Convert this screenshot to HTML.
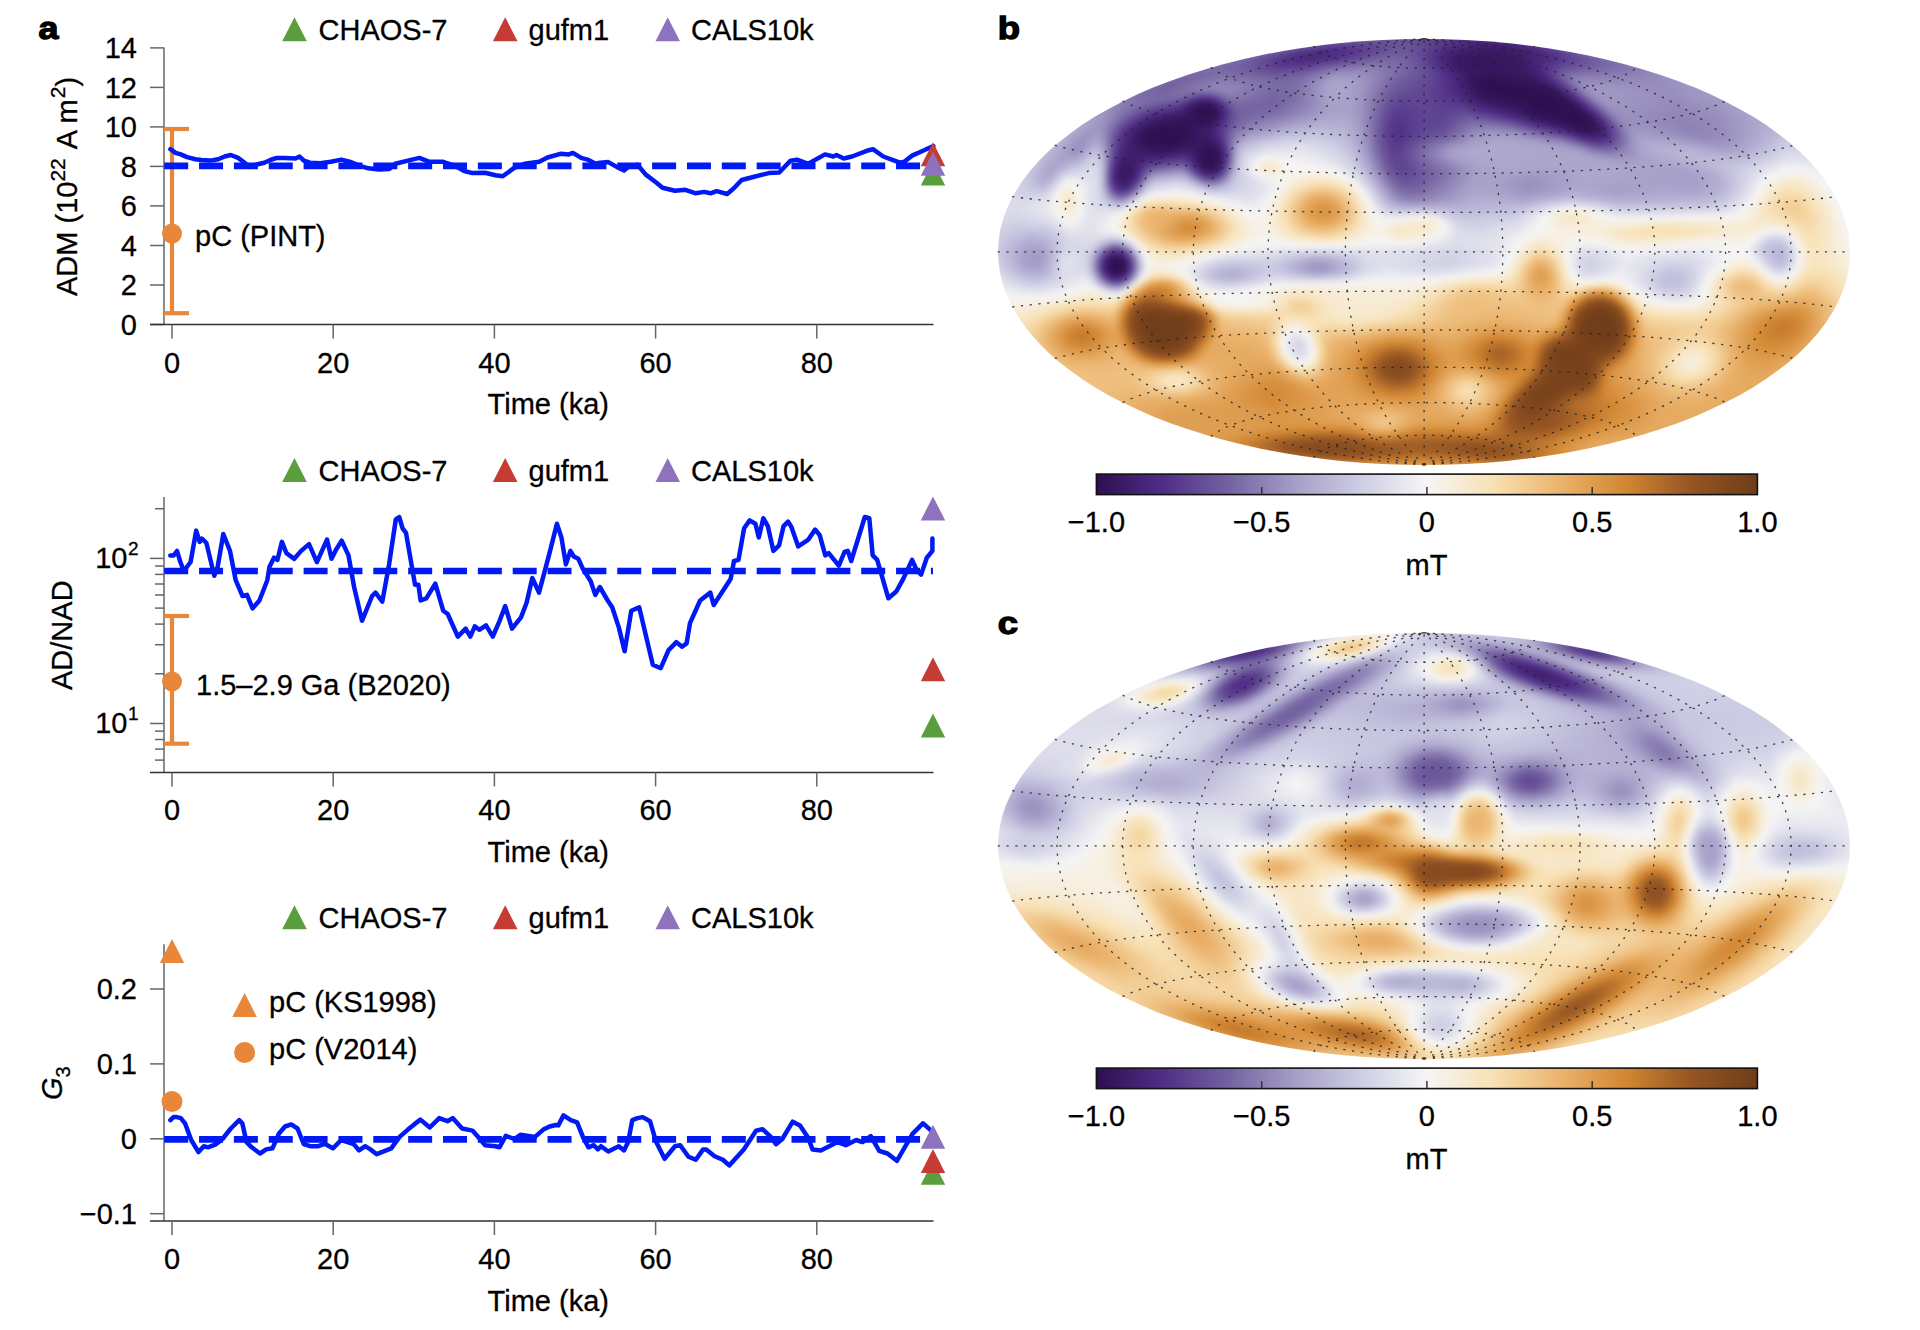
<!DOCTYPE html>
<html><head><meta charset="utf-8"><style>
html,body{margin:0;padding:0;background:#fff;width:1920px;height:1330px;overflow:hidden;position:relative}
svg{display:block;position:absolute;left:0;top:0}
text{font-family:"Liberation Sans", sans-serif;fill:#000;stroke:#000;stroke-width:0.3px}
.mp{position:absolute;border-radius:50%;overflow:hidden}
.fl{position:absolute;filter:blur(2px)}
.fl i{display:block;height:4px}
</style></head><body>
<div class="mp" style="left:997.71px;top:38.61px;width:852.77px;height:426.39px"><div class="fl" style="left:-3.61px;top:-6.81px;width:860px"><i style="background:linear-gradient(90deg,#dfdfec 1px,#c0bedb 257px,#a39cc6 329px,#695399 417px,#5d4190 455px,#614693 485px,#7462a1 511px,#a39cc7 549px,#b7b4d5 585px,#dfdfec 859px)"></i><i style="background:linear-gradient(90deg,#ddddeb 1px,#c0bedb 239px,#a39bc6 301px,#7969a5 361px,#624894 431px,#512f87 477px,#56368b 501px,#6d5a9c 527px,#9d95c2 563px,#b1acd0 591px,#bebcda 653px,#ddddeb 859px)"></i><i style="background:linear-gradient(90deg,#dcdceb 1px,#bfbdda 223px,#a59ec8 273px,#6e5a9c 339px,#685198 369px,#695299 413px,#533289 457px,#462477 489px,#4a287e 509px,#593a8d 527px,#9a91bf 579px,#aea8ce 605px,#bebbd9 671px,#dbdbea 851px,#dcdceb 859px)"></i><i style="background:linear-gradient(90deg,#dbdbea 1px,#bfbcda 209px,#a6a0c9 251px,#715f9f 305px,#5d4190 335px,#5b3e8f 359px,#6a559a 407px,#634a95 429px,#4c2980 461px,#3f1f6c 489px,#40206f 513px,#523087 537px,#9990be 595px,#aca7cd 621px,#c3c2dd 717px,#dbdbea 859px)"></i><i style="background:linear-gradient(90deg,#dadaea 1px,#bebcda 195px,#a9a2cb 231px,#6c579b 291px,#54338a 321px,#502e87 347px,#604592 377px,#6c589b 403px,#685198 421px,#4d2a82 451px,#3e1d6b 475px,#3b1b66 509px,#432273 533px,#55358b 553px,#877ab0 595px,#a59ec8 625px,#b8b4d5 679px,#d5d5e7 825px,#dadae9 859px)"></i><i style="background:linear-gradient(90deg,#d8d8e9 1px,#bebbd9 183px,#aaa4cb 215px,#664e97 283px,#4f2c85 309px,#4a287d 331px,#54338a 355px,#6e5a9c 393px,#6e5a9c 413px,#5f4392 431px,#4b2980 447px,#3c1b67 467px,#381861 501px,#401f6d 533px,#54338a 561px,#8376ad 605px,#a39bc6 637px,#b9b5d6 697px,#d3d3e7 825px,#d8d8e9 859px)"></i><i style="background:linear-gradient(90deg,#d7d7e8 1px,#bdbbd9 171px,#aaa4cc 201px,#8173ab 241px,#634a95 275px,#4e2c84 299px,#4a277d 319px,#54348a 343px,#7362a0 387px,#7362a0 407px,#664f97 425px,#4e2b83 443px,#3b1b66 461px,#36175e 485px,#3a1a64 523px,#533289 563px,#7e6fa9 611px,#a098c4 647px,#b7b4d5 705px,#d1d1e6 821px,#d7d7e8 859px)"></i><i style="background:linear-gradient(90deg,#d6d6e8 1px,#bdbbd9 159px,#aca6cd 187px,#8476ad 223px,#6c589b 259px,#523088 291px,#4f2d85 313px,#5c4090 335px,#7b6ba6 379px,#7a6aa6 401px,#6a559a 423px,#4c2a81 445px,#3b1b66 461px,#36175e 483px,#391963 525px,#4b2980 549px,#583a8d 565px,#7969a4 613px,#9e96c3 657px,#b9b6d6 723px,#d2d2e6 831px,#d6d6e8 859px)"></i><i style="background:linear-gradient(90deg,#d5d5e7 1px,#bebbd9 147px,#ada7ce 175px,#8274ac 211px,#705d9e 251px,#593a8d 285px,#58398d 307px,#675098 329px,#7e70a9 357px,#8679af 381px,#7463a1 413px,#634a95 431px,#4d2b83 447px,#3a1a65 465px,#36175e 489px,#391963 527px,#462477 543px,#55358b 555px,#654c96 573px,#7a6aa6 617px,#a49cc7 677px,#c5c4de 773px,#d5d5e7 859px)"></i><i style="background:linear-gradient(90deg,#d4d4e7 1px,#bebbd9 137px,#aca7cd 165px,#8072ab 199px,#7a6aa5 219px,#7564a1 243px,#624894 281px,#644b95 305px,#7362a0 325px,#8b7eb3 345px,#9085b8 371px,#8476ad 393px,#664f97 431px,#4d2b82 451px,#3a1a65 469px,#35165d 493px,#391963 529px,#452375 543px,#54338a 553px,#6b569a 569px,#7462a1 587px,#8274ac 627px,#afa9cf 713px,#cac9e2 803px,#d4d4e7 859px)"></i><i style="background:linear-gradient(90deg,#d3d3e7 1px,#bebbda 127px,#aaa4cc 157px,#7d6ea8 189px,#7767a3 205px,#7c6da7 235px,#6b569a 281px,#6f5b9d 305px,#8173ab 323px,#988fbe 341px,#9b92c0 361px,#8e83b6 383px,#72619f 411px,#634a95 435px,#4d2a82 455px,#381861 475px,#33155a 499px,#381962 531px,#442375 545px,#56368b 555px,#7463a1 571px,#8072ab 583px,#8a7eb2 637px,#c1bfdc 773px,#d3d3e6 859px)"></i><i style="background:linear-gradient(90deg,#d2d2e6 1px,#bdbad9 121px,#a8a1ca 149px,#7969a5 181px,#7564a1 197px,#8376ad 229px,#72619f 287px,#7969a5 307px,#a29bc6 339px,#a39cc6 357px,#9388ba 379px,#7261a0 405px,#634a95 435px,#4d2a82 457px,#36175e 477px,#311256 497px,#36175e 533px,#41206f 547px,#533189 557px,#7f70a9 575px,#8d81b4 585px,#9287b9 653px,#c6c5df 797px,#d2d2e6 859px)"></i><i style="background:linear-gradient(90deg,#d1d1e6 1px,#bdbbd9 113px,#a8a2ca 139px,#7868a4 171px,#72619f 185px,#8b7fb3 225px,#8376ad 253px,#7767a4 287px,#7f70aa 307px,#a8a1ca 337px,#a8a2ca 353px,#978ebd 375px,#705e9e 403px,#614693 437px,#4e2c84 457px,#34155b 479px,#2e1052 497px,#35165d 541px,#40206e 553px,#512f86 561px,#8a7eb3 581px,#978dbd 591px,#958bbb 661px,#a8a1ca 719px,#c7c6e0 807px,#d1d1e6 859px)"></i><i style="background:linear-gradient(90deg,#d0d0e5 1px,#bebbd9 105px,#aaa4cb 129px,#7766a3 163px,#72609f 177px,#9186b8 223px,#8c80b4 245px,#796aa5 283px,#7e6fa9 303px,#968cbc 321px,#aaa4cb 335px,#aba5cc 351px,#9c93c1 371px,#6f5b9d 401px,#5f4492 437px,#4d2b82 459px,#331459 481px,#2d0f51 499px,#331459 547px,#3c1c67 557px,#523188 567px,#887bb1 583px,#9990bf 591px,#9e95c2 605px,#978dbd 665px,#a49cc7 715px,#c6c5df 809px,#d0d0e5 859px)"></i><i style="background:linear-gradient(90deg,#d0d0e5 1px,#bebbda 97px,#aaa4cc 121px,#7868a4 155px,#7362a0 169px,#8577ae 201px,#8c7fb4 219px,#9186b8 235px,#7868a4 281px,#7d6ea8 301px,#948aba 319px,#a9a3cb 333px,#aea8ce 347px,#a098c4 367px,#7f70aa 387px,#6b569a 401px,#5f4391 437px,#4f2c85 459px,#311357 485px,#2d0f51 507px,#311256 553px,#3b1b66 563px,#4e2c83 571px,#8f84b6 589px,#9e96c2 597px,#9f97c3 615px,#988ebe 673px,#a49dc7 721px,#c7c6e0 815px,#cfcfe5 859px)"></i><i style="background:linear-gradient(90deg,#cfcfe5 1px,#bfbcda 89px,#aba5cc 113px,#7b6ca7 147px,#7565a2 163px,#7f71aa 189px,#6e5b9d 209px,#7665a2 219px,#8b7fb3 233px,#887bb1 247px,#7666a2 279px,#7b6ba6 299px,#9186b8 317px,#a9a3cb 333px,#aca6cd 349px,#9f97c3 367px,#8071aa 385px,#6b579b 397px,#644c95 411px,#604693 433px,#4d2b83 463px,#331459 487px,#2e1052 507px,#2f1154 557px,#381861 567px,#502f85 577px,#8e82b6 593px,#9f96c3 601px,#a098c4 617px,#988ebd 675px,#a39cc7 723px,#c6c5df 815px,#cfcfe5 859px)"></i><i style="background:linear-gradient(90deg,#cecee5 1px,#bebcda 83px,#a9a2cb 109px,#8274ac 137px,#7868a4 157px,#7767a3 185px,#685198 195px,#55368a 205px,#533387 213px,#5b3d8f 219px,#7d6ea8 233px,#8577ae 241px,#7463a1 279px,#7b6ca7 299px,#988ebe 321px,#a9a3cb 335px,#a9a3cb 353px,#9c93c0 369px,#6b559a 395px,#624894 407px,#604592 433px,#502d86 465px,#34155b 491px,#301154 515px,#2e1052 559px,#36165e 571px,#462477 579px,#5a3c8e 585px,#8b7fb3 597px,#9e95c2 605px,#a098c4 619px,#978dbd 677px,#a29ac5 723px,#c5c4df 815px,#cecee4 859px)"></i><i style="background:linear-gradient(90deg,#cecee4 1px,#bebcda 77px,#a59ec8 107px,#8577ae 133px,#6f5c9d 177px,#654d96 187px,#4d2b82 197px,#3e1e6b 205px,#3b1b67 213px,#432272 219px,#533288 225px,#72609f 235px,#7c6da7 241px,#7969a5 257px,#7362a0 281px,#8173ab 303px,#a7a1ca 335px,#a8a1ca 355px,#9b92c0 369px,#6a559a 393px,#604592 405px,#604592 431px,#55358b 465px,#49277c 477px,#36175f 497px,#2d0f50 547px,#301255 571px,#391a63 579px,#4f2d84 587px,#877ab0 601px,#988fbe 607px,#a098c4 617px,#958bbb 681px,#a19ac5 727px,#c4c3de 813px,#cecee4 859px)"></i><i style="background:linear-gradient(90deg,#cecee4 1px,#bfbcda 71px,#a39cc7 105px,#6b569a 161px,#5c3f8f 183px,#4c2980 191px,#36175e 201px,#301154 211px,#35165c 219px,#432272 225px,#593a8d 231px,#6c589b 237px,#7666a3 243px,#7464a1 263px,#7666a3 285px,#8e82b5 311px,#a6a0c9 335px,#a7a1ca 355px,#9a91bf 369px,#675198 393px,#5d4190 405px,#604592 431px,#5c3f90 455px,#57388c 471px,#472578 487px,#381962 509px,#2d0f50 543px,#301255 577px,#3a1a65 585px,#523187 593px,#8a7eb3 607px,#9b92c0 615px,#9c94c1 631px,#9489ba 683px,#9f97c4 727px,#c3c1dd 809px,#cdcde4 859px)"></i><i style="background:linear-gradient(90deg,#cdcde4 1px,#bfbcda 67px,#9c93c1 111px,#7362a0 143px,#57378c 169px,#4b287e 185px,#311256 201px,#2e0f51 215px,#36175e 223px,#502d86 231px,#6b569a 239px,#7564a1 247px,#7868a4 281px,#958abb 313px,#a7a0c9 335px,#a7a0c9 357px,#9a91bf 369px,#685298 391px,#5c3f90 401px,#5c3f90 413px,#604592 431px,#5d4191 451px,#604592 469px,#4c2a81 493px,#2f1053 539px,#2f1153 581px,#381861 589px,#4f2d84 597px,#8779b0 611px,#968cbc 617px,#9c94c1 627px,#9287b9 685px,#9d95c2 727px,#c3c1dd 807px,#cdcde4 859px)"></i><i style="background:linear-gradient(90deg,#cdcde4 1px,#bebbd9 65px,#9a91bf 113px,#72609f 137px,#512f87 159px,#3c1c68 189px,#2e1052 203px,#2f1153 219px,#391963 225px,#4d2a82 231px,#685298 239px,#7362a0 247px,#7f71aa 283px,#a8a1ca 331px,#a9a3cb 355px,#9d95c2 367px,#7c6da8 381px,#604492 395px,#58398d 405px,#604592 429px,#5e4291 449px,#674f97 471px,#5b3d8f 491px,#48267a 515px,#311256 541px,#2e1051 583px,#33145a 591px,#462477 599px,#5c3f90 605px,#8476ad 615px,#948abb 621px,#9b92c0 631px,#9085b7 687px,#9b92c0 727px,#c2c0dc 803px,#cdcde4 859px)"></i><i style="background:linear-gradient(90deg,#cdcde4 1px,#bdbad9 65px,#9c93c1 111px,#7666a3 129px,#4e2c83 151px,#3e1d6a 167px,#321459 197px,#2e1052 213px,#34155b 221px,#422171 227px,#4f2d86 231px,#695399 239px,#7464a1 247px,#8d81b5 289px,#a9a3cb 323px,#ada8ce 349px,#a29ac5 365px,#8173ab 379px,#644b95 391px,#57388c 401px,#593b8d 413px,#604592 429px,#5f4492 449px,#6e5b9d 473px,#695299 491px,#4f2d84 521px,#35165c 545px,#2d0f50 581px,#311256 593px,#401f6d 601px,#54338a 607px,#8375ad 619px,#9389ba 625px,#9a91bf 635px,#8f84b6 689px,#9990bf 727px,#c1bfdc 801px,#cdcde4 859px)"></i><i style="background:linear-gradient(90deg,#cdcde4 1px,#bbb8d7 69px,#9d94c2 109px,#8173ab 121px,#57378c 139px,#452476 149px,#371860 163px,#33145a 185px,#321358 213px,#3a1a64 221px,#4f2c85 229px,#6c579b 239px,#7a6ba6 249px,#a199c5 299px,#b1acd0 329px,#aea9cf 353px,#a39bc6 365px,#8072aa 379px,#624894 391px,#55358b 401px,#58398d 413px,#604592 429px,#614693 449px,#7969a5 477px,#7463a1 497px,#644c95 517px,#4c2980 535px,#391963 553px,#2d0f50 581px,#301155 595px,#3d1c68 603px,#4f2c84 609px,#8577ae 623px,#978dbd 631px,#9a90bf 643px,#8e83b6 689px,#978dbd 725px,#c2c0dc 799px,#cdcde4 859px)"></i><i style="background:linear-gradient(90deg,#cdcde4 1px,#bab7d7 71px,#a39bc6 99px,#9b92c0 109px,#7f70aa 119px,#593b8d 133px,#49277b 141px,#36175e 155px,#2f1154 173px,#371860 213px,#412070 221px,#56368b 229px,#705e9e 239px,#8476ad 251px,#b0abd0 307px,#b7b3d4 337px,#aea9ce 357px,#a099c4 367px,#7969a5 381px,#5a3c8e 395px,#533189 405px,#604593 429px,#624994 449px,#8477ae 479px,#8679af 497px,#796aa5 515px,#4e2c83 547px,#301255 579px,#301154 595px,#381961 603px,#4d2a82 611px,#887cb1 627px,#9990bf 635px,#9a91bf 649px,#8e82b5 693px,#978dbc 727px,#c2c0dc 797px,#cdcde4 859px)"></i><i style="background:linear-gradient(90deg,#cdcde4 1px,#bcb9d8 69px,#a199c5 95px,#9e95c2 107px,#877ab0 115px,#644c96 125px,#4c2a81 135px,#36175f 149px,#2e1052 165px,#301255 191px,#3d1d69 215px,#4f2c86 225px,#7c6ca7 241px,#9388ba 255px,#b3afd2 295px,#bdbad9 325px,#b6b2d4 351px,#a69fc9 365px,#8679af 377px,#695299 387px,#56378c 397px,#533189 407px,#614793 429px,#654d96 449px,#7c6da8 467px,#9186b8 483px,#958abb 503px,#897cb1 521px,#5b3e8f 553px,#49277c 567px,#35165d 583px,#321358 595px,#3b1b66 605px,#4e2b83 613px,#8f83b6 631px,#9d95c2 639px,#9c94c1 655px,#8e83b6 697px,#978dbd 729px,#c3c1dd 795px,#cdcde4 859px)"></i><i style="background:linear-gradient(90deg,#cdcde4 1px,#bebbda 65px,#9f97c3 91px,#a29ac5 105px,#948aba 111px,#644c95 123px,#4e2c85 131px,#391a63 143px,#2f1053 157px,#2f1053 187px,#401f6e 217px,#4f2c86 225px,#8a7eb3 243px,#a199c4 255px,#bebbd9 293px,#c4c3de 323px,#b9b6d6 351px,#a49dc7 367px,#695299 387px,#56368b 397px,#533189 407px,#644b95 429px,#6a559a 449px,#8072ab 465px,#9a90bf 483px,#a199c5 505px,#9a90bf 523px,#624894 565px,#49277c 579px,#3b1b65 591px,#3b1b65 601px,#48267b 611px,#58398d 617px,#8375ad 629px,#9b92c0 637px,#a49dc7 647px,#9085b7 705px,#998fbe 733px,#c5c4df 795px,#cdcde4 851px,#cecee4 859px)"></i><i style="background:linear-gradient(90deg,#cecee4 1px,#c0bedb 61px,#aca6cd 77px,#9c93c1 89px,#a7a0c9 103px,#9d94c1 109px,#674f97 121px,#4f2c85 129px,#3a1a64 141px,#2f1053 155px,#2f1052 185px,#3d1d69 217px,#4b297f 225px,#58398d 229px,#8476ad 239px,#9c93c0 245px,#aea8ce 255px,#c8c7e1 291px,#cccce3 321px,#bdbad9 351px,#a6a0c9 367px,#7a6aa6 381px,#5d4090 393px,#54338a 401px,#57388c 411px,#695399 431px,#7463a1 451px,#9d95c2 479px,#a8a1ca 499px,#a59ec8 525px,#7f71aa 563px,#604593 579px,#4d2c82 589px,#452476 599px,#4b287f 609px,#55358b 615px,#7868a4 627px,#9b92c0 637px,#a7a1ca 645px,#a7a0c9 665px,#9489ba 709px,#9a90bf 733px,#c7c6e0 793px,#cdcde4 833px,#cecee5 859px)"></i><i style="background:linear-gradient(90deg,#cecee5 1px,#c1bfdc 57px,#aea8ce 73px,#9b92c0 85px,#9d94c2 91px,#aca6cd 101px,#a7a1ca 107px,#8d81b5 113px,#6c579b 119px,#502e87 127px,#3e1d6a 137px,#301255 153px,#2e1052 179px,#371860 203px,#381861 217px,#401f6e 223px,#533189 229px,#7c6da7 237px,#9f97c4 243px,#b1acd0 249px,#c7c6e0 269px,#d6d6e8 299px,#cfcfe5 331px,#bdbad8 355px,#a49dc7 369px,#6a559a 387px,#583a8d 397px,#56368b 405px,#72609f 435px,#8b7fb3 457px,#a59ec8 479px,#aca7cd 513px,#a49dc7 543px,#9186b8 569px,#7665a3 581px,#5b3d8f 595px,#55348a 605px,#5d4190 615px,#7969a5 627px,#9f97c3 639px,#aca7cd 649px,#ada7cd 673px,#988fbe 719px,#a199c5 741px,#cbcae2 793px,#cfcfe5 831px,#cfcfe5 859px)"></i><i style="background:linear-gradient(90deg,#cfcfe5 1px,#c4c3de 51px,#afaacf 69px,#9a91bf 83px,#9d95c2 89px,#b4afd2 101px,#ada7ce 107px,#9c93c1 111px,#6a559a 119px,#533289 125px,#432272 133px,#321358 153px,#301255 175px,#391963 199px,#331459 215px,#3a1a64 223px,#4d2a82 229px,#614793 233px,#9c93c1 241px,#b0abd0 245px,#c3c1dd 253px,#d8d8e9 277px,#dedeec 309px,#cdcde4 343px,#b7b3d5 361px,#a199c5 371px,#6c589b 387px,#5b3d8f 397px,#593a8d 405px,#6b559a 421px,#a49dc7 467px,#ada8ce 497px,#aaa4cc 545px,#a097c4 573px,#8a7db2 585px,#6c579b 599px,#664f97 609px,#6e5a9c 619px,#9085b7 633px,#a7a0c9 643px,#b3aed2 659px,#b2add1 685px,#9f97c3 725px,#a8a2ca 747px,#cfcfe5 793px,#d2d2e6 829px,#d0d0e5 859px)"></i><i style="background:linear-gradient(90deg,#cfcfe5 1px,#c6c4df 47px,#b1acd0 65px,#9b92c0 81px,#a098c4 87px,#bbb8d7 99px,#b9b5d6 105px,#aba6cd 109px,#9287b9 113px,#7362a0 117px,#57388c 123px,#4c2980 127px,#401f6e 135px,#33145a 161px,#37175f 179px,#3e1e6b 193px,#301154 213px,#321358 221px,#3f1e6c 227px,#522f88 231px,#7c6ca7 237px,#a199c5 241px,#b8b5d5 245px,#cac9e2 251px,#e0e0ec 273px,#e6e6ef 305px,#d5d5e7 339px,#bebbd9 359px,#a59dc8 371px,#6e5b9d 387px,#5d4190 397px,#5b3e8f 405px,#6b569b 419px,#a59ec8 459px,#aea9ce 481px,#aaa4cc 571px,#a098c4 585px,#7b6ca7 607px,#7b6ba6 617px,#9084b7 631px,#a8a2ca 645px,#b8b4d5 671px,#b6b2d4 697px,#a7a0c9 731px,#b1acd0 753px,#d3d3e6 791px,#d6d6e8 821px,#d1d1e6 859px)"></i><i style="background:linear-gradient(90deg,#d0d0e5 1px,#c7c6e0 43px,#afaacf 63px,#9f97c3 79px,#a49dc7 85px,#c4c2de 99px,#c0bedb 105px,#b1acd0 109px,#a59ec8 111px,#72609f 117px,#54338a 123px,#49277b 127px,#401f6d 135px,#3b1b66 169px,#472578 191px,#3e1e6b 199px,#301155 209px,#2f1154 221px,#3b1b66 227px,#4e2b84 231px,#6a5499 235px,#a59ec8 241px,#bebcda 245px,#d2d2e6 251px,#eaeaf1 273px,#e8e8f0 315px,#d2d2e6 347px,#bab7d7 363px,#a29ac6 373px,#715f9e 387px,#5f4492 397px,#5d4090 405px,#6d589b 419px,#a49cc7 455px,#afa9cf 475px,#aba5cc 583px,#9a90bf 601px,#8e82b5 615px,#958abb 629px,#aba5cc 651px,#bcb9d8 691px,#b2add1 723px,#b1acd0 745px,#d8d8e9 791px,#dadaea 819px,#d2d2e6 859px)"></i><i style="background:linear-gradient(90deg,#d1d1e6 1px,#c8c7e0 41px,#a8a2ca 67px,#a8a1ca 81px,#b7b3d5 89px,#cacae2 97px,#cbcae2 103px,#bfbdda 107px,#a8a1ca 111px,#6f5c9d 117px,#58398d 121px,#4f2d86 123px,#422170 129px,#3f1e6c 139px,#452476 163px,#533289 189px,#4c2a81 195px,#321357 207px,#2d0f51 217px,#301255 223px,#3a1a64 227px,#4d2b83 231px,#6a559a 235px,#a9a2cb 241px,#c3c1dd 245px,#d3d3e7 249px,#f3f3f4 269px,#f1f1f4 293px,#e5e5ee 331px,#cccce3 355px,#aca6cd 371px,#6f5c9d 389px,#5f4492 399px,#604592 409px,#a29ac5 457px,#ada7cd 477px,#aca6cd 591px,#9c93c1 623px,#bebbd9 705px,#b8b5d5 745px,#cbcae2 769px,#e0e0ec 795px,#ddddeb 823px,#d3d3e7 859px)"></i><i style="background:linear-gradient(90deg,#d2d2e6 1px,#cac9e2 37px,#b5b0d3 53px,#a9a3cb 63px,#b5b1d4 83px,#d2d2e6 97px,#d1d1e6 103px,#c4c2dd 107px,#a9a3cb 111px,#6b569a 117px,#533189 121px,#442374 125px,#3c1c68 131px,#401f6e 141px,#512f86 155px,#5d4090 177px,#634a95 187px,#5c3f8f 193px,#502e86 197px,#371860 205px,#2f1153 211px,#2f1154 221px,#36165d 225px,#452375 229px,#502e87 231px,#6e5a9c 235px,#9a91bf 239px,#bbb8d8 243px,#d0d0e5 247px,#f1f1f4 261px,#f6f4ef 265px,#f7eedc 273px,#f7f0e2 281px,#f5f5f5 293px,#e9e9f0 333px,#cecee4 357px,#aba5cc 373px,#6d5a9c 391px,#5f4492 401px,#604693 411px,#a29bc6 465px,#ada7cd 491px,#aca6cd 601px,#a59ec8 635px,#b2add1 689px,#c0bddb 723px,#c2c0dd 751px,#e6e6ef 793px,#e5e5ee 817px,#d4d4e7 859px)"></i><i style="background:linear-gradient(90deg,#d3d3e7 1px,#cbcbe3 35px,#b3afd2 51px,#aaa4cb 59px,#b3aed1 69px,#c9c9e1 87px,#d8d8e9 97px,#d5d5e8 103px,#c7c6e0 107px,#a9a3cb 111px,#7969a5 115px,#583a8d 119px,#4d2b83 121px,#3f1f6d 125px,#391963 131px,#3d1c69 139px,#512f88 149px,#614793 157px,#7767a3 185px,#705d9e 191px,#5c3f8f 197px,#4b297f 201px,#381861 207px,#311256 213px,#331459 221px,#3a1b65 225px,#4b297f 229px,#57388c 231px,#7565a2 235px,#a29ac5 239px,#bfbdda 243px,#d2d2e6 247px,#f6f6f5 261px,#f7ebd2 269px,#f7e8c9 275px,#f7edd9 283px,#f6f5f2 293px,#f5f5f5 315px,#e9e9f0 341px,#cdcce4 361px,#a49dc7 377px,#715f9f 391px,#614693 401px,#604592 411px,#8c80b4 453px,#a69fc9 477px,#aca7cd 507px,#aca6cd 563px,#aca6cd 611px,#a7a1ca 671px,#b3aed2 703px,#c3c2dd 735px,#d3d3e7 763px,#eeeef2 793px,#eaeaf1 817px,#d6d6e8 859px)"></i><i style="background:linear-gradient(90deg,#d4d4e7 1px,#cccce3 33px,#b3afd2 49px,#aaa4cc 57px,#b5b0d3 65px,#c9c8e1 75px,#dcdceb 97px,#d8d8e9 103px,#c9c8e1 107px,#a8a2ca 111px,#7463a1 115px,#54338a 119px,#412070 123px,#381962 129px,#3a1a64 137px,#452375 143px,#523088 147px,#6e5a9c 155px,#7d6ea8 163px,#9287b9 185px,#887bb1 191px,#624994 199px,#502f86 203px,#3e1d6a 209px,#371860 215px,#3a1b65 221px,#442375 225px,#4c2a81 227px,#634994 231px,#8476ad 235px,#aaa4cc 239px,#cccce4 245px,#f5f5f5 261px,#f7e9cd 271px,#f7e8ca 277px,#f6f4f0 293px,#f6f4f1 307px,#f6f4f1 327px,#f0f0f4 341px,#d4d4e7 361px,#b1acd0 375px,#715f9e 393px,#624894 403px,#614793 413px,#8173ab 449px,#a69fc8 479px,#aba5cc 505px,#a8a1ca 551px,#aea8ce 601px,#a7a0c9 685px,#b2add1 711px,#dcdceb 765px,#f5f4f4 791px,#f2f2f4 815px,#d8d8e9 857px,#d8d8e9 859px)"></i><i style="background:linear-gradient(90deg,#d6d6e8 1px,#cecee4 31px,#aca6cd 53px,#b0abcf 59px,#d6d6e8 73px,#dedeec 97px,#dadaea 103px,#cac9e2 107px,#a7a1ca 111px,#715f9f 115px,#512f88 119px,#3f1f6d 123px,#381962 129px,#3a1a65 137px,#48267a 143px,#502e86 145px,#8376ad 155px,#978dbd 161px,#aba5cc 183px,#a7a1c9 189px,#9b92c0 193px,#644b95 203px,#543489 207px,#472579 213px,#462578 219px,#54348a 225px,#7361a0 231px,#a7a0c9 237px,#c7c6e0 243px,#dadaea 251px,#f3f3f5 263px,#f7eedd 273px,#f7efe0 281px,#f6f4f0 293px,#f7f0e2 325px,#f6f4f0 341px,#f1f1f4 349px,#cecee4 367px,#a59ec8 381px,#71609f 395px,#644b95 405px,#644c96 417px,#7f71aa 449px,#a59ec8 479px,#aaa4cb 501px,#a39bc6 543px,#ada8ce 593px,#a69fc9 693px,#b1acd1 717px,#e5e5ef 767px,#f5f4f4 781px,#f6f1e7 799px,#f3f3f5 821px,#dbdbea 855px,#d9d9e9 859px)"></i><i style="background:linear-gradient(90deg,#d7d7e9 1px,#cfcfe5 29px,#afaacf 51px,#b4afd2 57px,#e2e2ed 71px,#e8e8f0 79px,#dbdbea 103px,#cacae2 107px,#a7a0c9 111px,#715e9e 115px,#512f88 119px,#401f6e 123px,#3a1a64 129px,#3e1d6a 137px,#4f2d85 143px,#715e9f 149px,#9c94c1 155px,#aca6cd 159px,#bab6d7 173px,#bebbd9 187px,#b4afd2 193px,#9a91bf 199px,#6e5a9d 207px,#5e4391 213px,#5d4090 219px,#6a5499 225px,#8c80b4 231px,#b3afd2 237px,#cacae2 243px,#f3f3f4 271px,#f6f3ed 295px,#f7ebd3 319px,#f7ebd4 333px,#f6f2e9 347px,#f4f4f4 353px,#d1d1e6 369px,#9e96c2 385px,#7362a0 397px,#664f97 407px,#685198 419px,#8173ab 449px,#a69fc9 479px,#a9a2cb 501px,#9e95c2 539px,#ada7cd 587px,#a69fc9 697px,#b1acd0 721px,#dcdceb 757px,#f5f5f4 775px,#f7eedc 793px,#f7efdf 807px,#f5f5f5 825px,#ddddeb 855px,#dbdbea 859px)"></i><i style="background:linear-gradient(90deg,#d9d9e9 1px,#d1d1e6 27px,#b5b0d3 49px,#b9b5d6 55px,#d4d4e7 63px,#f1f1f4 71px,#f3f3f5 79px,#dbdbea 103px,#cbcae2 107px,#a8a2ca 111px,#7362a0 115px,#54348a 119px,#432273 123px,#3d1d69 129px,#41206f 135px,#523088 141px,#7665a2 147px,#9a90bf 151px,#b2aed1 155px,#c3c1dd 161px,#cfcfe5 181px,#cbcbe3 191px,#b8b5d5 199px,#8678af 211px,#7b6ba6 217px,#8274ac 223px,#bfbcda 237px,#d0d0e5 245px,#f6f6f5 287px,#f8e5c2 317px,#f8e4be 331px,#f7ead1 345px,#f4f3f4 359px,#c8c7e1 375px,#9085b7 391px,#72619f 401px,#6a5499 411px,#715f9f 429px,#948abb 461px,#a7a1ca 479px,#a8a2ca 501px,#9a91bf 535px,#a69fc8 563px,#aca6cd 591px,#a9a3cb 635px,#a7a0c9 701px,#b3aed2 725px,#d8d8e9 753px,#f6f5f4 771px,#f7ebd4 787px,#f7e9ce 801px,#f7efe1 817px,#f5f5f5 829px,#dedeeb 857px,#ddddeb 859px)"></i><i style="background:linear-gradient(90deg,#dadaea 1px,#d3d3e7 25px,#bcb9d8 47px,#c0bddb 53px,#d8d8e9 61px,#f1f1f4 67px,#f6f3ec 71px,#f6f1e6 75px,#f5f5f5 83px,#dfdfec 99px,#d5d5e8 105px,#cccbe3 107px,#aca6cd 111px,#7b6ca7 115px,#5c3f8f 119px,#523088 121px,#472579 125px,#452476 131px,#513087 137px,#624994 141px,#7e6fa9 145px,#a39cc6 149px,#bdbad9 153px,#d0d0e5 159px,#dedeeb 177px,#dadaea 193px,#c5c4de 203px,#a59ec8 215px,#a49dc7 221px,#cccce3 239px,#ececf2 277px,#f6f6f5 285px,#f7deb0 315px,#f5d7a5 327px,#f7ddae 339px,#f7ead1 353px,#f4f4f4 363px,#cbcae2 377px,#8071aa 399px,#715f9f 407px,#6f5c9d 419px,#8b7fb4 451px,#a8a2ca 477px,#aaa4cb 497px,#9990be 535px,#a39cc7 559px,#ada7cd 585px,#a7a0c9 625px,#a9a2cb 661px,#a9a2cb 705px,#b7b3d4 729px,#dadaea 753px,#f5f5f5 767px,#f7e8cb 785px,#f8e5c1 797px,#f7e9cd 811px,#f5f5f5 833px,#dfdfec 859px)"></i><i style="background:linear-gradient(90deg,#dcdcea 1px,#d4d4e7 25px,#c5c3de 45px,#cbcae2 53px,#ebebf1 63px,#f3f3f5 65px,#f7edda 73px,#f7f0e2 79px,#f5f5f6 85px,#e1e1ed 97px,#d6d6e8 105px,#c1bfdc 109px,#9f97c3 113px,#7564a2 117px,#5e4391 121px,#533289 125px,#533289 131px,#5c4090 135px,#6d599c 139px,#8c80b4 143px,#aea9ce 147px,#d0d0e5 153px,#e2e2ed 161px,#ececf2 183px,#e2e2ed 199px,#c2c0dc 217px,#c5c4df 227px,#d4d4e7 243px,#e3e3ee 269px,#f6f5f5 283px,#f6d9a8 309px,#f1ca90 321px,#f1c78c 331px,#f4d39e 343px,#f7e9cc 357px,#f4f4f4 367px,#bfbdda 383px,#8477ae 401px,#7565a2 411px,#7868a4 425px,#9f97c3 463px,#aca7cd 483px,#a7a0c9 507px,#9b92c0 535px,#afaacf 581px,#a6a0c9 623px,#aba5cc 661px,#aaa4cc 703px,#b9b5d6 729px,#d9d9e9 751px,#f5f5f5 765px,#f8e6c4 783px,#f8e2b6 795px,#f8e4bd 807px,#f6f3ed 831px,#f4f4f5 837px,#e1e1ed 859px)"></i><i style="background:linear-gradient(90deg,#ddddeb 1px,#d1d1e6 31px,#cfcfe5 47px,#dfdfec 57px,#f3f3f5 63px,#f7ecd5 71px,#f7ead2 75px,#f7f0e2 81px,#f6f5f3 85px,#e1e1ed 97px,#d7d7e8 105px,#c6c5df 109px,#9b92c0 115px,#7b6ca7 119px,#6a559a 123px,#654d96 127px,#685298 131px,#7564a2 135px,#9e96c2 141px,#c7c6e0 147px,#e3e3ee 153px,#f1f1f4 161px,#f5f4f2 189px,#eeeef3 201px,#d7d7e8 221px,#dedeec 261px,#f6f5f3 281px,#f7deb0 301px,#efc284 315px,#ecb874 325px,#edba77 335px,#f1c88c 345px,#f8e6c2 359px,#f6f5f3 369px,#e4e4ee 375px,#a7a0c9 393px,#8a7eb2 403px,#7e6fa9 413px,#8375ac 429px,#aca6cd 475px,#aea8ce 497px,#a098c4 533px,#b5b0d3 581px,#a9a2ca 623px,#afa9cf 663px,#afa9cf 705px,#bcb9d8 729px,#ddddeb 751px,#f6f5f4 763px,#f8e4be 781px,#f7dcac 793px,#f7deb0 805px,#f7ebd3 823px,#f5f5f5 839px,#e3e3ee 859px)"></i><i style="background:linear-gradient(90deg,#dedeeb 1px,#d5d5e7 39px,#dfdfec 53px,#f6f5f3 63px,#f7ead1 71px,#f7e9cd 75px,#f7eede 81px,#f6f4f0 85px,#f4f4f5 87px,#e1e1ed 97px,#d3d3e7 107px,#b9b6d6 113px,#8f83b6 121px,#8476ae 125px,#8578af 129px,#9388b9 133px,#d8d8e9 145px,#f1f1f3 151px,#f7f0e4 159px,#f7edd8 173px,#f7efe0 193px,#f2f2f3 211px,#e0e0ec 243px,#e3e3ee 263px,#f5f5f6 277px,#f7ead0 289px,#f6daa9 299px,#ecb976 313px,#e6ab62 323px,#e6aa61 333px,#ecb772 343px,#f4d49f 355px,#f7ead0 365px,#f6f4f0 371px,#f3f3f5 373px,#b6b1d4 391px,#9287b9 405px,#897cb1 415px,#9185b8 435px,#b0abd0 477px,#b0abd0 501px,#a8a1ca 533px,#bfbdda 579px,#aea9ce 623px,#b3afd2 671px,#b6b2d4 711px,#c6c4df 733px,#ebebf1 755px,#f6f5f3 761px,#f8e3ba 779px,#f5d7a5 791px,#f5d7a4 803px,#f8e4bd 817px,#f5f5f6 841px,#e5e5ef 859px)"></i><i style="background:linear-gradient(90deg,#dfdfec 1px,#d9d9e9 33px,#e7e7ef 55px,#f4f4f5 61px,#f7ead0 71px,#f7e9cc 75px,#f7eedc 81px,#f4f4f5 87px,#e1e1ed 97px,#d3d3e7 109px,#aea9ce 121px,#aaa4cb 127px,#bab6d6 133px,#ebebf1 143px,#f6f2eb 147px,#f7ead0 153px,#f8e4bd 163px,#f8e4bc 179px,#f7ead1 203px,#f5f4f1 223px,#efeff3 233px,#e5e5ee 255px,#f0f0f3 271px,#f5f5f5 275px,#f7eacf 287px,#f7deaf 295px,#eab36d 311px,#e0a054 323px,#df9f52 333px,#e7ac63 343px,#f0c588 353px,#f8e3ba 363px,#f6f4f0 373px,#f3f3f5 375px,#b4b0d3 395px,#9c93c1 409px,#9990be 423px,#b6b2d4 487px,#b1acd0 531px,#c6c5df 559px,#d1d0e5 579px,#c5c3de 601px,#b7b3d5 625px,#bfbcda 713px,#d1d1e6 737px,#f5f5f5 757px,#f7deaf 781px,#f4d29c 793px,#f4d39f 805px,#f8e5c0 821px,#f6f5f5 843px,#e7e7f0 859px)"></i><i style="background:linear-gradient(90deg,#dfdfec 1px,#d9d9e9 27px,#e9e9f0 55px,#f4f4f5 61px,#f7ebd2 71px,#f7ead1 77px,#f6f1e6 83px,#f4f4f5 87px,#e1e1ed 97px,#d3d3e7 113px,#c7c5df 123px,#cecde4 129px,#ededf2 137px,#f6f1e8 141px,#f7e2ba 149px,#f5d5a1 157px,#f3cf99 167px,#f6d9a8 195px,#f7e7c8 215px,#f5f4f3 237px,#ebebf1 259px,#f6f5f5 273px,#f7e8c9 287px,#f6d8a7 295px,#e9b16a 309px,#dd9b4c 321px,#db9647 331px,#e0a155 341px,#ecb874 351px,#f8e3bb 365px,#f6f4f1 375px,#f2f2f4 377px,#c4c2de 393px,#b1acd0 405px,#ada8ce 421px,#b5b0d3 469px,#bab6d7 499px,#bbb7d7 529px,#d5d5e8 555px,#e7e7ef 575px,#e0e0ec 593px,#c4c3de 623px,#c6c5df 703px,#d3d3e7 731px,#f6f5f4 755px,#f7deb0 779px,#f3d099 793px,#f3d09a 805px,#f8e1b5 819px,#f6f6f5 845px,#e9e9f0 859px)"></i><i style="background:linear-gradient(90deg,#dedeeb 1px,#d9d9e9 25px,#e8e8f0 55px,#f6f6f4 63px,#f7ecd8 71px,#f7ecd6 77px,#f6f2e9 83px,#f6f5f3 85px,#e1e1ed 97px,#ddddeb 123px,#efeff3 131px,#f6f2ea 135px,#f5d6a3 147px,#f0c588 155px,#eebf7f 165px,#f0c588 197px,#f5d7a4 213px,#f7eedd 235px,#f5f4f4 247px,#f3f3f4 265px,#f6f5f3 271px,#f7ebd3 283px,#f6dbab 293px,#e8ae66 309px,#db9748 321px,#d99342 331px,#df9e50 341px,#ebb56f 351px,#f8e5c0 367px,#f6f5f3 377px,#cdcce3 395px,#c3c1dd 409px,#c5c3de 437px,#b9b6d6 463px,#c3c1dd 525px,#d8d8e9 545px,#f3f2f2 563px,#f6f2ea 581px,#f0f0f3 597px,#d3d3e7 623px,#d1d1e6 653px,#d9d9e9 723px,#ededf2 745px,#f5f5f4 751px,#f7deb0 779px,#f3cf99 795px,#f3d09a 807px,#f8e1b5 821px,#f6f6f5 847px,#ececf1 859px)"></i><i style="background:linear-gradient(90deg,#ddddeb 1px,#d7d7e8 23px,#e5e5ee 55px,#f6f5f4 65px,#f7eedd 73px,#f7efe1 79px,#f5f5f6 85px,#e2e2ed 95px,#e5e5ee 113px,#f4f3f3 127px,#f7f0e4 131px,#f6dbab 141px,#efc386 149px,#ecb874 157px,#eab26c 183px,#e9b069 197px,#eebd7c 209px,#f8e4bf 231px,#f6f2e8 247px,#f6f5f4 257px,#f6f4f1 269px,#f7ecd6 281px,#f6daaa 293px,#e8ae66 309px,#db9849 321px,#d99443 331px,#df9e51 341px,#ebb570 351px,#f8e4be 367px,#f6f5f4 379px,#dedeeb 393px,#dbdbea 409px,#e3e3ed 431px,#cfcfe4 449px,#c1bfdc 465px,#c9c8e1 521px,#dfdfec 541px,#f3f3f4 553px,#f7ebd2 571px,#f7ead1 583px,#f6f3ec 599px,#f1f1f4 607px,#e0e0ec 627px,#eaeaf1 729px,#f6f5f2 747px,#f8e2b7 777px,#f3d099 801px,#f4d39e 811px,#f8e5c1 827px,#f6f6f5 849px,#eeeef2 859px)"></i><i style="background:linear-gradient(90deg,#dbdbea 1px,#d4d4e7 21px,#e0e0ec 55px,#f5f4f5 67px,#f6f1e7 75px,#f6f4f0 81px,#f2f2f4 85px,#e2e2ed 95px,#e8e8f0 111px,#f6f5f3 123px,#f7e8c9 133px,#f6daa9 139px,#efc284 147px,#ecb671 155px,#e9b069 175px,#e09f53 193px,#e2a358 203px,#ecb773 215px,#f8e3ba 235px,#f7efe1 249px,#f6f4ef 261px,#f6f1e7 273px,#f7e8c9 285px,#f6dcac 293px,#e7ad65 311px,#dd9b4d 323px,#dc9a4b 333px,#e3a65c 343px,#eebe7d 353px,#f8e4be 367px,#f6f4ee 379px,#f4f4f5 383px,#ececf1 395px,#f4f2f0 417px,#f6f3ed 433px,#eeeef2 443px,#cccce3 461px,#c6c5df 477px,#d0d0e5 521px,#eaeaf1 543px,#f5f5f5 549px,#f7e8cb 569px,#f7e7c6 581px,#f7eedc 597px,#f6f5f3 611px,#efeff3 637px,#f6f4f0 737px,#f8e4bd 779px,#f4d29d 805px,#f5d7a4 815px,#f7f0e2 841px,#f6f6f5 851px,#f0f0f3 859px)"></i><i style="background:linear-gradient(90deg,#d9d9e9 1px,#d1d1e6 23px,#dadaea 55px,#f5f4f4 73px,#f1f1f4 83px,#e1e1ed 95px,#ebebf1 111px,#f5f5f6 119px,#f7eedd 127px,#f7deaf 137px,#efc182 147px,#ecb672 155px,#e8ae66 173px,#da9545 191px,#da9545 201px,#e4a75d 213px,#f1c98f 227px,#f8e4bc 239px,#f7efe1 253px,#f6f3eb 265px,#f7efdf 277px,#f8e2b8 291px,#e9b16a 313px,#e1a257 325px,#e2a459 335px,#ecb671 347px,#f8e3ba 365px,#f7f0e4 377px,#f6f5f3 385px,#f6f3ee 397px,#f7edda 415px,#f7ebd3 433px,#f7f0e2 441px,#f4f3f4 447px,#d3d3e6 463px,#cbcbe3 479px,#d7d7e8 521px,#f5f5f6 547px,#f7ead1 567px,#f7e9cc 581px,#f6f2ea 617px,#f7efe1 645px,#f7ecd6 683px,#f7efe0 737px,#f7e9cc 771px,#f8e6c4 787px,#f5d6a3 807px,#f6d9a8 817px,#f6f5f3 851px,#f1f1f4 859px)"></i><i style="background:linear-gradient(90deg,#d6d6e8 1px,#cccce3 23px,#d1d1e6 53px,#efeff3 75px,#e7e7ef 87px,#e2e2ed 99px,#f6f6f6 119px,#f7e9cc 131px,#f6d9a7 139px,#eec080 149px,#ebb56f 159px,#e3a65c 175px,#d68f3d 191px,#d7903d 201px,#e1a256 213px,#f0c487 227px,#f8e4bd 241px,#f7efe0 255px,#f6f2e9 267px,#f7eedc 279px,#f8dfb2 295px,#ecb874 315px,#e8ae66 327px,#eab46e 339px,#f1c88d 351px,#f8e5c1 365px,#f7f0e3 377px,#f6f2eb 385px,#f7efe0 395px,#f7e9cd 407px,#f7e9cc 435px,#f7eedd 443px,#f6f5f4 449px,#d6d6e8 465px,#d1d1e6 483px,#dedeec 523px,#f6f5f4 547px,#f7edda 567px,#f7edd9 587px,#f7eedd 613px,#f8e5c0 667px,#f7e6c5 699px,#f7ecd7 739px,#f7ebd4 765px,#f7eedd 783px,#f7e9cd 793px,#f6dbab 807px,#f6d9a8 815px,#f8e5c1 829px,#f6f4f0 851px,#f4f4f5 857px,#f3f3f5 859px)"></i><i style="background:linear-gradient(90deg,#d4d4e7 1px,#c7c6e0 27px,#c8c8e1 51px,#e8e8f0 77px,#e1e1ed 97px,#f5f5f4 121px,#f7eedc 129px,#f7deb0 139px,#f0c588 149px,#ebb46e 161px,#d68f3c 191px,#d7913f 201px,#e2a358 213px,#f0c588 227px,#f8e4bc 241px,#f7efdf 255px,#f6f2e9 267px,#f7efe0 279px,#f8e2b7 297px,#f0c589 315px,#edbd7b 327px,#efc283 339px,#f5d7a5 353px,#f7e8c9 365px,#f7f0e4 377px,#f7f1e5 387px,#f7e7c7 405px,#f7e9cc 417px,#f7ebd4 437px,#f6f3ed 447px,#f6f6f5 449px,#dadaea 465px,#d5d5e8 485px,#e4e4ee 523px,#f6f5f4 543px,#f7f0e2 565px,#f7edd9 607px,#f8e2b7 651px,#f8e1b5 681px,#f7ebd5 739px,#f7edd8 759px,#f5f3f1 777px,#f6f4ef 789px,#f8e1b4 807px,#f6dcac 815px,#f8e4bc 827px,#f6f5f2 853px,#f4f4f5 859px)"></i><i style="background:linear-gradient(90deg,#d2d2e6 1px,#bfbcda 35px,#c3c1dd 53px,#e1e1ed 77px,#e2e2ed 101px,#eaeaf1 121px,#f3f2f2 127px,#f6f1e8 131px,#f7dcac 143px,#f0c487 153px,#e4a75c 173px,#da9646 189px,#dc994a 201px,#e8af68 215px,#f8e3ba 239px,#f7efe0 255px,#f6f3eb 269px,#f7efdf 283px,#f6d9a7 311px,#f3ce97 325px,#f4d29d 339px,#f8e5c1 357px,#f6f1e6 375px,#f6f2e9 385px,#f7e8c9 405px,#f7ead0 417px,#f7f1e5 439px,#f4f4f5 447px,#dcdcea 465px,#dadaea 491px,#e9e9f0 523px,#f6f5f4 537px,#f7f0e4 555px,#f7efe2 595px,#f8e2b8 643px,#f8e2b7 673px,#f7edd8 737px,#f7eedd 755px,#f4f3f3 767px,#e4e4ee 781px,#ededf2 791px,#f5f3f1 795px,#f8e5bf 807px,#f7dfb1 815px,#f8e3b9 825px,#f6f4f0 853px,#f5f5f6 859px)"></i><i style="background:linear-gradient(90deg,#d0d0e6 1px,#b8b4d5 37px,#bcbad8 53px,#dbdbea 75px,#dedeeb 105px,#d3d2e6 119px,#ddddeb 127px,#f0f0f3 133px,#f6f1e6 137px,#f7dcad 147px,#f0c68a 157px,#e7ac64 175px,#e1a257 189px,#e4a75d 201px,#edbc7b 215px,#f8e3b9 235px,#f7f0e2 253px,#f6f4ef 267px,#f6f1e8 283px,#f8e2b8 319px,#f7e1b6 335px,#f7e8cb 353px,#f6f3ee 375px,#f6f3ee 387px,#f7ecd6 407px,#f7f0e3 423px,#f3f3f5 441px,#dcdceb 465px,#e1e1ed 503px,#f6f5f4 531px,#f7eede 547px,#f7efe1 563px,#f6f3ec 587px,#f7efe0 607px,#f8e6c3 637px,#f8e6c3 665px,#f7efe1 731px,#f7f0e2 751px,#f5f4f4 761px,#d6d6e8 777px,#d6d6e8 787px,#e8e8f0 795px,#f5f4f3 799px,#f8e6c3 809px,#f8e2b6 815px,#f8e2b8 823px,#f6f4f1 855px,#f6f6f5 859px)"></i><i style="background:linear-gradient(90deg,#cfcfe5 1px,#b2add1 35px,#b3aed2 49px,#c7c6e0 63px,#d8d8e9 75px,#dbdbea 99px,#c7c6e0 109px,#b5b1d3 117px,#b3afd2 123px,#c1bfdc 129px,#f0f0f2 139px,#f6f3ed 141px,#f8e6c4 147px,#f5d5a2 155px,#eebe7e 171px,#eab46f 185px,#ecb875 199px,#f2cd95 215px,#f8e5bf 231px,#f6f2e8 251px,#f6f5f5 267px,#f6f4ef 287px,#f7ecd5 323px,#f7edda 345px,#f5f5f4 373px,#f6f5f2 395px,#f6f2eb 411px,#f0f0f4 431px,#dcdcea 463px,#e4e4ee 505px,#f6f5f3 527px,#f7ebd5 543px,#f7ebd4 555px,#f5f5f4 581px,#f6f4f1 605px,#f7ecd5 633px,#f7ecd6 659px,#f6f3ed 721px,#f6f2e8 749px,#f5f5f5 757px,#cbcae2 775px,#c7c6e0 785px,#d4d4e7 793px,#f3f3f5 801px,#f7efe1 805px,#f7e7c5 811px,#f8e3ba 817px,#f8e5c0 827px,#f6f4ef 855px,#f6f5f3 859px)"></i><i style="background:linear-gradient(90deg,#cfcfe5 1px,#aca6cd 35px,#aea8ce 49px,#c2c0dc 61px,#d4d4e7 71px,#dadaea 93px,#cecee4 101px,#aea8ce 109px,#8b7fb3 117px,#8476ae 121px,#887bb1 125px,#a199c5 131px,#e2e2ed 141px,#efeff3 143px,#f6f3ee 145px,#f7e7c6 151px,#f6dbab 159px,#f1ca90 177px,#f1c88d 191px,#f5d5a2 207px,#f7ead1 229px,#f6f5f2 249px,#f1f1f4 285px,#f3f3f3 353px,#eeeef3 393px,#ededf2 417px,#dadaea 459px,#e4e4ee 505px,#f6f5f4 523px,#f7e8c9 541px,#f7e6c5 551px,#f7edd9 563px,#f6f5f5 575px,#eaeaf1 593px,#f6f5f2 619px,#f6f1e6 639px,#f3f3f4 695px,#f6f5f2 735px,#f6f3ee 749px,#f4f4f5 755px,#c5c3de 773px,#bfbcda 785px,#c5c4df 791px,#e1e1ed 799px,#f3f3f5 803px,#f7e7c6 813px,#f8e4bc 819px,#f8e6c4 829px,#f6f4ef 857px,#f6f4f1 859px)"></i><i style="background:linear-gradient(90deg,#cfcfe5 1px,#a9a2cb 33px,#a8a1ca 47px,#b7b3d5 57px,#d4d4e7 69px,#dadaea 81px,#d4d4e7 95px,#c0bedb 101px,#9c94c1 107px,#7360a0 113px,#644b95 117px,#5e4291 121px,#604592 125px,#6a559a 129px,#8273ac 133px,#c7c6e0 141px,#f2f2f3 147px,#f7e8c9 155px,#f8e0b5 165px,#f6daa8 183px,#f7e0b4 199px,#f6f4f1 235px,#eeeef2 253px,#dfdfec 331px,#e7e7ef 383px,#e1e1ed 421px,#d7d7e8 461px,#e4e4ee 505px,#f6f5f4 521px,#f8e4bd 539px,#f7e0b3 547px,#f8e3bc 555px,#f6f5f4 573px,#e2e2ed 589px,#e6e6ef 607px,#f5f4f4 631px,#ededf2 671px,#ececf2 713px,#f6f5f3 739px,#f6f4f1 749px,#f2f2f4 755px,#c5c3de 771px,#bbb8d8 783px,#c0bedb 791px,#dbdbea 799px,#f6f5f5 805px,#f7ebd3 811px,#f8e5c1 817px,#f8e5c0 825px,#f6f4ef 859px)"></i><i style="background:linear-gradient(90deg,#d0d0e5 1px,#a69fc8 33px,#a39cc7 45px,#b2add1 55px,#d3d3e7 67px,#dcdceb 75px,#d4d4e7 93px,#c8c7e0 97px,#a49cc7 103px,#6e5a9c 109px,#583a8d 113px,#4a287e 117px,#442374 123px,#4f2e83 129px,#624894 133px,#8173ab 137px,#ada8ce 141px,#d2d2e6 145px,#efeff3 149px,#f6f4f0 151px,#f7edd9 155px,#f7e7c8 163px,#f8e5c0 181px,#f7ead0 199px,#f5f3f1 219px,#ededf2 231px,#e3e3ed 265px,#d4d4e7 299px,#c8c7e1 325px,#d8d8e9 355px,#e2e2ed 385px,#d4d4e7 459px,#e2e2ed 503px,#f6f5f4 519px,#f6dbaa 539px,#f4d39e 547px,#f6dbab 555px,#f7f0e3 569px,#f6f5f4 573px,#ddddeb 587px,#dadaea 601px,#efeff3 633px,#e2e2ed 693px,#f2f2f4 731px,#f6f5f2 741px,#f6f5f2 751px,#efeff3 757px,#c3c2dd 773px,#bab6d6 787px,#c2c0dc 793px,#ebebf1 803px,#f4f4f5 805px,#f7e9ce 813px,#f8e5c1 819px,#f8e6c4 829px,#f6f3ec 859px)"></i><i style="background:linear-gradient(90deg,#d1d1e6 1px,#a59dc8 33px,#a29ac6 45px,#b2add1 55px,#d7d7e8 67px,#dfdfec 75px,#d5d5e8 91px,#cac9e2 95px,#b4b0d3 99px,#a59ec8 101px,#6a549a 107px,#502f86 111px,#3a1a64 117px,#35155c 123px,#3d1d6a 129px,#4e2c83 133px,#695399 137px,#968cbc 141px,#c1bfdc 145px,#e3e3ee 149px,#f0f0f3 151px,#f6f4f1 153px,#f7efdf 157px,#f7ebd3 165px,#f7ebd4 183px,#f6f2eb 201px,#f1f1f4 211px,#dbdbea 237px,#d6d6e8 281px,#b5b1d3 321px,#bab6d7 337px,#dbdbea 371px,#dfdfec 397px,#d1d1e6 453px,#e0e0ec 499px,#f6f5f5 517px,#f7deaf 533px,#f1ca90 541px,#f0c589 547px,#f2cb91 553px,#f7dfb2 561px,#f6f5f1 573px,#ededf2 577px,#d7d7e8 589px,#d6d6e8 603px,#ebebf1 631px,#dfdfec 665px,#dcdceb 695px,#f6f6f5 735px,#f6f2ea 749px,#f4f4f5 757px,#c5c3de 775px,#b9b6d6 785px,#bebbd9 791px,#d9d9e9 799px,#f4f4f5 805px,#f7e9ce 813px,#f8e5c1 819px,#f8e6c3 829px,#f6f2e9 859px)"></i><i style="background:linear-gradient(90deg,#d4d4e7 1px,#a8a1ca 31px,#a29bc6 43px,#afa9cf 53px,#d9d9e9 67px,#e1e1ed 75px,#d5d5e7 91px,#c7c6e0 95px,#aea9ce 99px,#8577ae 103px,#6f5c9d 105px,#522f88 109px,#3d1c69 113px,#321358 117px,#2e1052 123px,#34155c 129px,#432272 133px,#4e2c84 135px,#6e5a9c 139px,#a199c5 143px,#cac9e2 147px,#e9e9f0 151px,#f3f3f5 153px,#f7f0e2 159px,#f7eedc 171px,#f6f2e9 189px,#f3f3f5 199px,#d1d1e6 229px,#cecee4 249px,#d1d1e6 277px,#bfbcda 297px,#a8a1ca 319px,#a9a3cb 333px,#d7d7e8 371px,#dfdfec 393px,#d0d0e5 451px,#e0e0ec 497px,#f6f5f5 515px,#f7e8ca 525px,#f6daa9 531px,#efc183 539px,#ecb875 545px,#edba78 551px,#f1c88d 557px,#f7e7c7 567px,#f5f5f5 575px,#dadaea 585px,#d0d0e5 595px,#ddddeb 613px,#e9e9f0 633px,#d4d4e7 683px,#e0e0ec 709px,#f6f5f4 731px,#f7efe0 747px,#f7f1e5 755px,#f4f4f4 761px,#c3c1dd 779px,#bdbad9 787px,#c7c5df 793px,#f6f5f5 805px,#f7ebd4 811px,#f8e6c2 817px,#f8e4be 825px,#f7f1e5 859px)"></i><i style="background:linear-gradient(90deg,#d7d7e8 1px,#a9a3cb 33px,#a7a0c9 45px,#b6b3d4 55px,#dadaea 67px,#e1e1ed 75px,#d6d6e8 91px,#c8c7e0 95px,#ada7ce 99px,#6c589b 105px,#4e2b84 109px,#391a64 113px,#301154 117px,#2d0f51 125px,#321358 129px,#3f1f6d 133px,#4b287e 135px,#593a8d 137px,#8072aa 141px,#b3aed2 145px,#d8d8e9 149px,#f1f1f4 153px,#f6f5f2 155px,#f7f0e2 161px,#f7f0e3 175px,#f5f5f5 191px,#c5c4df 227px,#c1bfdc 243px,#cecee4 273px,#c4c3de 289px,#9f97c3 319px,#a097c4 331px,#bdbad9 353px,#d8d8e9 373px,#e0e0ec 393px,#d2d2e6 449px,#e8e8f0 501px,#f6f5f4 513px,#f7e8ca 523px,#f6d9a8 529px,#ecb772 539px,#e7ad64 545px,#e8af67 551px,#eebd7d 557px,#f8e4bd 567px,#f6f5f2 575px,#dfdfec 583px,#d0d0e5 593px,#d7d7e8 607px,#e9e9f0 629px,#dfdfec 651px,#cdcde4 679px,#d4d4e7 699px,#f6f5f4 727px,#f7ebd3 745px,#f7ead2 753px,#f7f0e4 761px,#f5f4f2 765px,#d6d6e8 775px,#c5c4df 783px,#c6c5df 789px,#dcdcea 797px,#f4f4f5 803px,#f7e7c8 813px,#f8e3bb 821px,#f8e6c4 835px,#f7f0e2 859px)"></i><i style="background:linear-gradient(90deg,#dadaea 1px,#afa9cf 33px,#ada7cd 45px,#bbb7d7 55px,#dadaea 67px,#e0e0ec 77px,#dadaea 91px,#cccce3 95px,#b2add1 99px,#9f97c3 101px,#705e9e 105px,#523088 109px,#3d1c69 113px,#321357 117px,#2e1052 123px,#34155b 129px,#432272 133px,#4e2c84 135px,#6e5a9c 139px,#a199c5 143px,#cacae2 147px,#e9e9f0 151px,#f4f4f5 153px,#f7efe1 159px,#f7eddb 169px,#f6f3ec 183px,#f5f5f5 189px,#bebbd9 225px,#b8b4d5 241px,#cdcce4 275px,#c3c1dd 291px,#a29bc6 319px,#a39bc6 331px,#bcb9d8 351px,#d9d9e9 371px,#e4e4ee 391px,#d8d8e9 445px,#f4f4f4 507px,#f6f2e9 513px,#f8e5bf 523px,#f1ca90 531px,#e8ae67 539px,#e2a459 545px,#e4a75c 551px,#ebb570 557px,#f8e0b3 567px,#f5f5f5 577px,#dadaea 587px,#d3d3e6 597px,#eaeaf1 627px,#e0e0ec 647px,#c8c7e1 675px,#cccbe3 693px,#eaeaf1 715px,#f4f4f5 721px,#f8e5c2 743px,#f8e4bd 753px,#f7e9cf 761px,#f5f4f2 769px,#e9e9f1 773px,#d1d1e6 783px,#d2d2e6 789px,#e6e6ef 797px,#f4f4f4 801px,#f7e7c7 811px,#f8e2b6 819px,#f8e3bb 831px,#f7eede 859px)"></i><i style="background:linear-gradient(90deg,#dfdfec 1px,#b6b2d4 33px,#b5b1d4 47px,#c4c3de 57px,#ddddeb 69px,#dfdfec 91px,#d4d4e7 95px,#bcb9d8 99px,#978ebd 103px,#6c589b 107px,#513087 111px,#3f1f6d 115px,#37175f 119px,#36175e 125px,#3e1d6a 129px,#4e2c83 133px,#6a5499 137px,#988ebe 141px,#c4c3de 145px,#e7e7ef 149px,#f3f2f3 151px,#f7ebd3 157px,#f8e6c4 165px,#f7e8c9 175px,#f6f2e9 187px,#f5f4f4 191px,#bebbd9 221px,#b3aed2 235px,#bab7d7 251px,#d0d0e5 275px,#cbcae2 291px,#b1acd0 319px,#b4b0d3 335px,#e2e2ed 373px,#eaeaf1 395px,#e2e2ed 443px,#f4f3f2 483px,#f6f3ec 503px,#f7eedb 513px,#f8e1b5 523px,#e8af68 537px,#e1a256 543px,#e0a053 549px,#e6aa61 555px,#eec080 561px,#f8e3b9 569px,#f6f4ee 577px,#f4f4f5 579px,#ddddeb 589px,#dbdbea 601px,#ececf2 625px,#e3e3ed 643px,#c4c2de 673px,#c5c4de 689px,#dedeec 707px,#f4f4f5 717px,#f6f3ec 721px,#f7e0b4 739px,#f5d7a5 749px,#f7dcac 757px,#f7e8c8 765px,#f5f4f1 773px,#ececf2 777px,#e0e0ec 785px,#e8e8f0 793px,#f3f3f5 797px,#f6f4f1 799px,#f8e6c3 809px,#f7dfb1 817px,#f7dfb1 827px,#f7edda 859px)"></i><i style="background:linear-gradient(90deg,#e4e4ee 1px,#bfbdda 33px,#bebcda 47px,#dfdfec 71px,#e6e6ef 91px,#d6d6e8 97px,#bdbad9 101px,#9b92c0 105px,#7362a1 109px,#5b3e8f 113px,#4c2a80 117px,#462477 123px,#4b297f 127px,#593b8e 131px,#7360a0 135px,#c9c8e1 143px,#efeff2 147px,#f6f2e9 149px,#f8e6c4 153px,#f5d7a5 159px,#f2ce96 167px,#f4d39e 175px,#f8e6c3 185px,#f4f3f2 195px,#cccce3 213px,#b9b5d6 229px,#b8b4d5 243px,#d8d8e9 275px,#d8d8e9 293px,#c8c7e0 323px,#d2d2e6 343px,#f0f0f3 379px,#efeff3 413px,#efeff3 443px,#f6f4ee 461px,#f7eddb 485px,#f7ebd5 507px,#f8e6c2 517px,#f6dcac 523px,#e7ae65 537px,#df9f52 545px,#e0a154 551px,#e8ae67 557px,#f2ce96 565px,#f8e4bf 571px,#f6f3ed 579px,#f5f4f4 581px,#e7e7ef 591px,#f2f2f4 623px,#e3e3ee 643px,#c2c0dc 671px,#c0bedb 685px,#d4d4e7 701px,#f5f5f5 715px,#f6daa9 735px,#f2cb92 745px,#f1ca90 753px,#f5d5a2 761px,#f7f0e2 775px,#f5f3f0 779px,#f2f2f4 789px,#f6f3ed 795px,#f8e1b6 809px,#f6d8a7 817px,#f6daa9 827px,#f7ecd5 859px)"></i><i style="background:linear-gradient(90deg,#e9e9f0 1px,#c8c8e1 35px,#cbcbe3 51px,#e2e2ed 73px,#eeeef3 91px,#e4e4ee 97px,#c6c4df 103px,#7b6ba7 113px,#695499 117px,#634994 121px,#654c96 125px,#715e9f 129px,#8d81b4 133px,#dbdbea 141px,#edecef 143px,#f7f0e4 145px,#f6deb3 149px,#f1c98f 153px,#eab570 159px,#e6ac63 165px,#e8af67 173px,#efc182 181px,#f7e9cc 193px,#f5f3f0 199px,#f2f2f4 201px,#d5d5e8 213px,#c4c2dd 231px,#c8c7e0 247px,#e8e8f0 281px,#e7e7ef 311px,#e9e9f0 339px,#f6f4f2 371px,#f6f4f0 403px,#f6f4f0 435px,#f7ebd2 461px,#f8e5bf 481px,#f8e5bf 511px,#f6dbaa 521px,#e5aa61 539px,#e0a154 547px,#e3a65b 553px,#ebb570 559px,#f8e2b7 571px,#f7eede 579px,#f6f4ee 585px,#f6f2e9 599px,#f7efdf 611px,#f6f4ef 625px,#f1f1f4 633px,#c2c0dc 671px,#c1bfdb 685px,#d3d3e7 699px,#f5f5f5 713px,#f7deaf 729px,#f0c589 741px,#eebe7e 751px,#f0c68a 759px,#f8e2b9 771px,#f7eedc 781px,#f7f0e2 787px,#f7ebd4 795px,#f5d6a3 811px,#f4d19c 821px,#f7deb0 837px,#f7ead1 859px)"></i><i style="background:linear-gradient(90deg,#eeeef3 1px,#d3d3e7 35px,#d7d7e9 53px,#f5f5f3 91px,#f2f2f4 97px,#dedeec 103px,#9a91bf 117px,#9287b9 121px,#968cbc 125px,#a59ec8 129px,#d1d0e4 135px,#e3e3ee 137px,#f0edea 139px,#f7edd9 141px,#f0c78b 147px,#e8b068 151px,#dd9a4c 157px,#d7903e 165px,#da9645 173px,#e5a95f 181px,#f1c88d 189px,#f7e6c5 197px,#f6f2eb 203px,#f0f0f4 207px,#dcdceb 219px,#d7d7e8 237px,#f4f4f3 279px,#f6f2ea 311px,#f6f2eb 345px,#f7f1e5 395px,#f7f0e2 429px,#f7e8c9 451px,#f6d9a8 475px,#f6d9a8 493px,#f7deaf 511px,#f5d5a2 521px,#e7ad65 539px,#e3a55b 547px,#e8ae66 555px,#f0c486 563px,#f8e2b8 573px,#f7eacf 581px,#f7eacf 587px,#f6dbae 605px,#f6deb2 613px,#f7ecd6 625px,#f5f4f4 635px,#c6c5df 669px,#c3c1dd 683px,#d3d3e7 697px,#f5f5f5 711px,#f7deb0 727px,#efc386 739px,#edba77 749px,#eebd7c 757px,#f3cf98 767px,#f8e3ba 777px,#f7e7c8 785px,#f8e5c1 793px,#f2cd95 811px,#f2cb92 821px,#f7dcac 839px,#f7e9cc 859px)"></i><i style="background:linear-gradient(90deg,#f4f4f5 1px,#dedeeb 37px,#e8e8f0 61px,#f6f5f3 83px,#f6f1e6 93px,#f6f3ec 99px,#eeeef2 105px,#c7c6df 117px,#c3c2dd 123px,#cdcce3 127px,#e2e2ed 131px,#eeecee 133px,#f6f0e5 135px,#f6dcb0 139px,#eebe7e 143px,#e3a55a 147px,#d58d3a 153px,#ca8030 161px,#d18632 171px,#db9748 179px,#ecb976 189px,#f8e2b8 199px,#f6f4ef 209px,#efeff3 215px,#e8e8f0 233px,#f6f5f2 267px,#f7ebd4 305px,#f7eede 353px,#f7eedd 419px,#f7e8ca 439px,#f3cf99 469px,#f2cb92 485px,#f4d4a0 515px,#f2cb92 525px,#e8af68 541px,#e6ac63 549px,#ecb671 557px,#f7ddad 573px,#f7e0b5 579px,#f6dbab 585px,#ecba78 599px,#e9b36e 607px,#ecba78 613px,#f3d09a 621px,#f7e7c8 629px,#f6f3ed 637px,#f3f3f5 641px,#cdcde4 669px,#c9c9e1 683px,#d8d8e9 697px,#f3f3f5 709px,#f6f5f3 711px,#f6d9a7 729px,#efc283 741px,#edbb79 751px,#efc081 761px,#f7ddae 781px,#f7deb0 789px,#f0c487 811px,#f0c487 821px,#f6daa9 841px,#f7e7c8 859px)"></i><i style="background:linear-gradient(90deg,#f6f5f1 1px,#f0f0f3 17px,#e9e9f0 43px,#f5f4f3 71px,#f7ecd7 95px,#f7efdf 103px,#f3f1f0 111px,#e9e9f0 121px,#f2efec 127px,#f6f1e6 129px,#f5d7a5 135px,#e6ab61 141px,#d48c39 147px,#c37a2e 153px,#bc752c 161px,#ca8030 171px,#d58d3a 177px,#e9b16a 189px,#f8e4bd 203px,#f7f0e4 211px,#f6f5f3 217px,#f4f4f5 241px,#f6f3ee 261px,#f7ecd6 287px,#f8e6c3 305px,#f7e9ce 323px,#f7edda 345px,#f7edd9 413px,#f7e7c7 433px,#f5d8a6 451px,#f0c78b 469px,#efc486 487px,#f2ce96 517px,#f0c488 529px,#eab36c 543px,#ebb56f 553px,#f4d39e 571px,#f4d29d 577px,#f0c588 583px,#dd9b4c 595px,#d48d3c 601px,#d38b3b 609px,#db9748 615px,#e7ad65 621px,#f8e5bf 633px,#f6f2eb 641px,#f4f4f4 645px,#d5d5e8 671px,#d5d5e7 687px,#eaeaf1 703px,#f6f5f5 709px,#f7dcac 729px,#f0c78b 741px,#eebf7f 753px,#f0c689 767px,#f3d19c 783px,#f1ca90 795px,#edbb79 811px,#eebf80 823px,#f8e3bb 853px,#f8e6c4 859px)"></i><i style="background:linear-gradient(90deg,#f6f2ea 1px,#f4f4f5 25px,#f6f4ef 57px,#f7e7c8 97px,#f7ebd2 109px,#f7eede 119px,#f7ecd7 123px,#f8e5c1 127px,#f3d19c 131px,#e4a75c 137px,#d68e3c 141px,#c47b2f 145px,#b06b2a 151px,#ab6728 159px,#bd762d 171px,#d18835 179px,#e6ab62 191px,#f8e5bf 207px,#f7f0e3 215px,#f6f5f3 223px,#f6f5f3 251px,#f7f0e2 275px,#f7dfb2 303px,#f8e1b5 313px,#f7ebd3 337px,#f7ecd7 399px,#f7e8cb 423px,#f6dbab 443px,#f0c588 463px,#eec080 485px,#f1c98f 521px,#ecb773 545px,#edbc7a 555px,#f2cb92 569px,#f0c68a 575px,#e5a95f 583px,#d58d3b 589px,#bd752d 595px,#a96528 603px,#aa6528 609px,#b8712c 615px,#d18a39 621px,#df9f52 625px,#f6dcac 635px,#f7ecd5 641px,#f6f3ed 647px,#f3f3f5 653px,#dfdfec 677px,#e6e6ef 695px,#f6f5f3 707px,#f6dcab 731px,#f1c88d 745px,#efc182 759px,#efc486 785px,#eab26c 809px,#ecb773 821px,#f8e3ba 855px,#f8e5c0 859px)"></i><i style="background:linear-gradient(90deg,#f7f0e2 1px,#f6f3ed 35px,#f7eedc 59px,#f8e3b9 95px,#f8e5c0 119px,#f7dfb3 123px,#f3ce97 127px,#e3a65b 133px,#d38b39 137px,#bb742c 141px,#a05d26 147px,#965623 155px,#9f5d25 167px,#bf782d 181px,#d58e3b 189px,#e8b069 199px,#f7e1b8 211px,#f7efdf 219px,#f6f4ef 227px,#f6f5f4 251px,#f6f1e7 271px,#f7e8cb 285px,#f5d6a3 301px,#f4d4a0 309px,#f8e4bd 325px,#f7ead0 339px,#f7ecd5 379px,#f7e9cc 413px,#f8e1b4 433px,#f0c486 459px,#eebf7f 481px,#efc385 509px,#f0c588 525px,#edbb79 547px,#f0c68b 567px,#edbd7b 573px,#dc994a 581px,#cc8332 585px,#9f5d25 593px,#8d4f21 601px,#8e5021 611px,#9b5924 617px,#ba732c 623px,#c97f30 625px,#d48c3a 627px,#efc385 635px,#f7dcac 639px,#f7ead2 645px,#f6f2e8 653px,#f4f3f3 663px,#ededf2 685px,#f6f4f2 701px,#f8e2b8 727px,#f1c98e 747px,#edbc7b 767px,#e9b068 793px,#e5a85f 809px,#eab36d 823px,#f8e2b6 855px,#f8e4bd 859px)"></i><i style="background:linear-gradient(90deg,#f7eedc 1px,#f7efdf 35px,#f7e8c9 59px,#f6d9a8 89px,#f6dbaa 107px,#f7dcac 117px,#f5d5a1 121px,#f0c487 125px,#de9d4f 131px,#d68e3c 133px,#ca8030 135px,#9f5c25 141px,#8c4f21 147px,#874b1f 159px,#965623 177px,#b16c2a 189px,#cc8335 197px,#d89342 201px,#ebb875 209px,#f7deb3 217px,#f7ebd2 223px,#f7f0e2 231px,#f6f1e8 257px,#f7eedc 273px,#f8e2b8 289px,#f3d19b 301px,#f3ce97 309px,#f7dcad 321px,#f7e8ca 335px,#f7ebd4 353px,#f7eacf 397px,#f8e3ba 423px,#efc285 457px,#eebe7e 481px,#eec080 509px,#efc284 529px,#eebe7e 549px,#f0c487 563px,#eebd7c 569px,#e3a55a 575px,#cb8130 581px,#a05e26 587px,#8a4d20 593px,#7d451d 603px,#83491e 615px,#915222 621px,#a76327 625px,#c77e2f 629px,#d58c3a 631px,#ecb976 637px,#f7ddaf 643px,#f7e9cc 649px,#f7f0e3 663px,#f6f4ee 683px,#f7f0e2 701px,#f7deb0 729px,#edbb78 759px,#df9f52 799px,#e1a256 813px,#ecb874 829px,#f8e0b3 855px,#f8e3ba 859px)"></i><i style="background:linear-gradient(90deg,#f7ecd6 1px,#f7ebd3 35px,#f8e3ba 57px,#f2cd94 83px,#f2cb92 99px,#f3d19c 115px,#f2cd95 119px,#eebf7f 123px,#dc994a 129px,#d48a37 131px,#a25f26 137px,#8e5021 141px,#7e461d 149px,#7d451d 167px,#915222 191px,#a46127 199px,#ca8234 207px,#dc9849 211px,#f1c98e 219px,#f7e1b7 225px,#f7e7c6 231px,#f7e9cd 259px,#f8e5c1 279px,#f3d19b 305px,#f4d49f 315px,#f8e5c1 331px,#f7ead1 345px,#f7ead2 381px,#f8e4bd 413px,#f4d4a0 435px,#efc182 457px,#edbc7a 505px,#eec080 535px,#efc284 557px,#efc183 563px,#ebb46e 569px,#d28835 577px,#965623 585px,#7e461d 593px,#74401a 605px,#7b441c 617px,#905122 625px,#aa6628 629px,#ce8533 633px,#eab36d 639px,#f5d7a4 645px,#f8e3b9 649px,#f7e8c9 657px,#f7ecd8 681px,#f7ead0 701px,#f7dcac 727px,#e6aa61 767px,#da9545 793px,#db9747 807px,#e5aa61 823px,#f7dfb0 855px,#f8e2b7 859px)"></i><i style="background:linear-gradient(90deg,#f7ead1 1px,#f7e8ca 33px,#f8e0b3 51px,#eebf7e 79px,#edba77 93px,#f0c68a 115px,#efc183 119px,#eab36c 123px,#d58c39 129px,#b46e2a 133px,#955423 137px,#7c451d 145px,#74401a 159px,#7e461d 191px,#905122 203px,#ae6929 209px,#cc8332 213px,#df9e51 217px,#efc386 223px,#f4d39e 227px,#f7dcac 233px,#f7deb0 295px,#f5d8a6 313px,#f8e1b5 325px,#f7e9ce 343px,#f7ead1 371px,#f8e4be 403px,#f4d39e 431px,#eebf7f 459px,#ecb976 507px,#eec081 561px,#eab36d 567px,#d99443 573px,#d18734 575px,#9f5c25 581px,#8a4d20 585px,#76411b 593px,#703d1a 609px,#7a441c 621px,#8c4f21 627px,#a56227 631px,#cc8230 635px,#e9b069 641px,#f1c98e 645px,#f5d8a6 649px,#f8e1b6 655px,#f8e6c4 681px,#f8e4bd 705px,#f5d6a2 727px,#e3a65b 763px,#d68e3c 785px,#d58c39 801px,#dd9a4b 815px,#efc183 837px,#f8e0b2 857px,#f8e1b5 859px)"></i><i style="background:linear-gradient(90deg,#f7e9cc 1px,#f8e5c2 31px,#f7dcac 47px,#e9b069 77px,#e5a960 91px,#ebb570 107px,#edbc7a 115px,#ecb874 119px,#e5aa60 123px,#cf8431 129px,#9b5924 135px,#82481e 141px,#733f1a 151px,#74401a 189px,#7f461d 201px,#975623 209px,#c67d2f 215px,#d58c38 217px,#eebd7c 225px,#f1ca90 229px,#f3d099 237px,#f4d4a0 273px,#f8e4bd 297px,#f7dfb1 319px,#f7e8cb 349px,#f7e7c7 377px,#f6daa8 413px,#eebd7d 459px,#ebb56f 505px,#eebe7e 559px,#ebb46e 565px,#db9647 571px,#d38935 573px,#a05d26 579px,#8a4d20 583px,#75401b 591px,#6f3c19 609px,#75411b 621px,#8c4f21 629px,#965523 631px,#ce8431 637px,#e9b16a 643px,#f0c68a 647px,#f4d39e 651px,#f6dbab 659px,#f8e0b4 691px,#f6d9a7 715px,#f0c487 737px,#da9545 769px,#d18733 783px,#d08532 799px,#d89140 811px,#eebd7c 835px,#f7dcac 855px,#f8e1b3 859px)"></i><i style="background:linear-gradient(90deg,#f7e7c8 1px,#f8e3ba 31px,#f4d4a0 47px,#e3a65b 73px,#dd9a4c 85px,#de9d50 97px,#eab26b 115px,#e9b068 119px,#e2a358 123px,#d68e3b 127px,#ca8030 129px,#995724 135px,#81481e 141px,#723f1a 151px,#723e1a 191px,#7f471d 203px,#915222 209px,#ac6729 213px,#cf8531 217px,#ebb570 225px,#efc183 229px,#f0c78c 237px,#f2cb92 269px,#f5d8a6 281px,#f7e7c6 293px,#f7e9ce 301px,#f8e1b4 323px,#f8e5c0 357px,#f7e0b2 385px,#eec080 447px,#e8af67 503px,#edbb79 555px,#ecb672 561px,#e2a458 567px,#d58d3a 571px,#c98030 573px,#965523 579px,#7e461d 585px,#713e1a 593px,#713e1a 619px,#7f471d 627px,#9b5924 633px,#d38a35 639px,#eab36d 645px,#f0c588 649px,#f3d09a 655px,#f6d9a7 691px,#f4d39e 715px,#efc182 735px,#d38a36 773px,#c77e2f 791px,#d38833 805px,#e7ae66 827px,#f5d6a4 851px,#f8dfb2 859px)"></i><i style="background:linear-gradient(90deg,#f8e6c4 1px,#f8e2b6 29px,#f3d09a 45px,#e3a55a 67px,#d78f3d 81px,#d68d3a 93px,#df9e51 107px,#e6ab62 117px,#e3a65b 121px,#db9748 125px,#ca8030 129px,#9a5924 135px,#82491e 141px,#723f1a 151px,#703d1a 187px,#7c451c 201px,#935322 209px,#be772d 215px,#d08531 217px,#e9b16a 225px,#eebe7e 231px,#f0c68a 269px,#f4d39f 279px,#f7e7c7 289px,#f7eede 297px,#f7efe1 303px,#f7e8ca 313px,#f7dfb1 323px,#f6dcab 335px,#f7ddae 361px,#f1ca91 399px,#eebe7e 437px,#e8af68 481px,#e4a75d 507px,#ecb671 547px,#e8af67 559px,#e0a154 565px,#cd8331 571px,#9d5b25 577px,#81481e 583px,#713e1a 591px,#703d19 619px,#7d451d 627px,#955523 633px,#cd8331 639px,#e7ac64 645px,#f0c487 651px,#f2cc93 659px,#f4d39e 703px,#f1c98f 723px,#e4a85e 749px,#d28833 771px,#c47c2f 787px,#cd8331 801px,#d68e3b 809px,#efc183 837px,#f7ddad 857px,#f7dfb0 859px)"></i><i style="background:linear-gradient(90deg,#f8e5c0 1px,#f8e0b2 27px,#f3cf97 43px,#e3a65b 63px,#d48a36 77px,#cb8130 89px,#d38a36 99px,#e3a65b 117px,#e2a358 121px,#db9748 125px,#cd8331 129px,#935322 137px,#7b441c 145px,#703d19 159px,#733f1a 191px,#844a1e 203px,#995824 209px,#d48a36 217px,#e5a95f 223px,#ecb874 229px,#efc283 269px,#f2ce96 277px,#f7e7c7 287px,#f6f3ec 295px,#f5f4f2 299px,#f6f4ee 307px,#f6daa8 325px,#f4d29d 333px,#f3cf97 365px,#ecb874 407px,#ebb56f 461px,#de9d50 503px,#e2a459 523px,#e8af67 543px,#e3a55a 555px,#da9646 563px,#d28835 567px,#af6a29 573px,#955423 577px,#7a441c 585px,#6f3d19 595px,#713e1a 621px,#83491e 629px,#945423 633px,#ca8030 639px,#de9c4f 643px,#edba77 649px,#f0c588 655px,#f4d29c 701px,#f2cb91 719px,#e6aa61 745px,#d28733 769px,#c47c2f 785px,#cd8231 799px,#d58d3a 807px,#efc284 837px,#f7dcac 857px,#f7deaf 859px)"></i><i style="background:linear-gradient(90deg,#f8e4bd 1px,#f7ddae 27px,#f2cb92 43px,#e3a65b 61px,#d38833 75px,#c47c2f 87px,#cc8230 97px,#d48b37 103px,#e2a357 117px,#e0a053 123px,#d28834 129px,#995824 137px,#7e461d 145px,#713e1a 157px,#723f1a 187px,#80471d 199px,#995824 207px,#d08633 215px,#e6aa61 223px,#ebb46f 229px,#edbb79 265px,#efc385 273px,#f4d29d 279px,#f8e6c3 285px,#f5f4f3 293px,#e9e9f0 301px,#f2f2f4 309px,#f5f4f2 311px,#f7deaf 323px,#f3cf98 329px,#f1c78c 339px,#efc182 365px,#e6aa61 401px,#e7ac63 425px,#eab26c 455px,#e3a65b 477px,#d89241 501px,#da9645 517px,#e4a75d 539px,#e1a256 547px,#ce8533 561px,#a76327 571px,#8e5021 577px,#76411b 587px,#6e3c19 601px,#723f1a 621px,#844a1e 629px,#965523 633px,#ca8030 639px,#dd9c4d 643px,#ecb772 649px,#efc182 655px,#f4d39e 701px,#f2cd95 717px,#e4a85d 745px,#d28732 769px,#c67d2f 785px,#d38834 801px,#eab36d 827px,#f4d39f 849px,#f7ddae 859px)"></i><i style="background:linear-gradient(90deg,#f8e3ba 1px,#f6dbaa 27px,#f1c98f 43px,#e2a459 61px,#d28732 75px,#c47b2e 87px,#ce8431 99px,#da9545 109px,#e2a459 119px,#df9e51 125px,#cf8531 131px,#975623 139px,#7e461d 147px,#713e1a 159px,#733f1a 185px,#81481e 197px,#9b5924 205px,#d08633 213px,#e4a75d 221px,#e9b069 227px,#ecb672 263px,#eec081 273px,#f4d29c 279px,#f7e7c7 285px,#f6f5f4 291px,#e0e0ec 299px,#e2e2ed 307px,#f2f2f4 313px,#f6f4ef 315px,#f6d9a7 325px,#f1c78c 331px,#eebf7f 339px,#eab36d 367px,#dd9b4d 399px,#de9d4f 417px,#e7ad65 449px,#e4a85e 467px,#d28835 497px,#d18734 513px,#df9f51 537px,#db9849 545px,#cd8331 553px,#975723 569px,#77411b 587px,#6f3c19 605px,#74401b 621px,#884c1f 629px,#9b5924 633px,#cf8431 639px,#e4a75d 645px,#edb976 651px,#efc284 663px,#f5d7a4 699px,#f4d39e 713px,#edbc7b 731px,#d89241 759px,#cf8431 773px,#cc8231 789px,#d58d3a 801px,#eebf7f 833px,#f6d9a8 855px,#f7dcac 859px)"></i><i style="background:linear-gradient(90deg,#f8e2b7 1px,#f5d7a5 29px,#f0c589 45px,#e1a256 63px,#d38834 77px,#ca8030 89px,#d48a37 101px,#e3a65c 119px,#e2a458 125px,#d68f3c 131px,#cf8431 133px,#985724 141px,#7f471d 149px,#723e1a 163px,#75411b 185px,#894d20 197px,#9f5d25 203px,#d28834 211px,#e3a65b 219px,#e8ae66 225px,#eab26b 259px,#edb976 271px,#f1c88d 277px,#f8e2b8 283px,#f6f2eb 289px,#f3f3f5 291px,#dedeec 297px,#d8d8e9 305px,#e2e2ed 311px,#f1f1f4 315px,#f6f4ee 317px,#f7dcac 325px,#f0c588 331px,#edba78 337px,#e4a75d 369px,#d58d3a 397px,#d58d3a 413px,#e4a85e 449px,#e3a55a 465px,#ce8331 491px,#c0782d 505px,#c87f2f 517px,#d58d3a 527px,#db9647 537px,#d7903e 543px,#c77e2f 549px,#9b5924 559px,#874b1f 569px,#713e1a 599px,#733f1a 617px,#80471e 625px,#975623 631px,#d48a36 639px,#e5a95f 645px,#ecb875 651px,#f7dcad 697px,#f6dbab 709px,#f2cb91 723px,#e1a256 747px,#d38a36 769px,#d18732 787px,#d99444 803px,#f0c487 835px,#f6daa9 857px,#f6dbab 859px)"></i><i style="background:linear-gradient(90deg,#f8e1b4 1px,#f5d6a3 29px,#efc385 47px,#d89241 75px,#d38935 87px,#d68f3c 99px,#e6ab62 121px,#e4a75c 127px,#d89140 133px,#c57c2f 137px,#945423 145px,#7c451d 155px,#733f1a 171px,#7c451d 187px,#925322 197px,#be762d 205px,#d48b37 209px,#e1a155 215px,#e6ab63 221px,#e8af67 257px,#ecb671 271px,#f0c487 277px,#f8e0b3 283px,#f6f2e9 289px,#f4f4f5 291px,#ddddeb 297px,#d5d5e8 305px,#ddddeb 311px,#f4f4f5 317px,#f7ecd6 321px,#f8e0b2 325px,#f0c488 331px,#ecb773 337px,#e0a054 367px,#ce8432 389px,#c37a2e 403px,#cb8130 417px,#d89341 431px,#e2a358 449px,#e1a256 463px,#d68f3c 479px,#cb8130 487px,#b46e2b 501px,#b7702b 513px,#d38934 529px,#d78f3d 537px,#d18633 543px,#965523 555px,#7f471d 565px,#75401b 593px,#76411b 615px,#884c1f 625px,#975623 629px,#d08632 637px,#e6ab62 645px,#edba77 653px,#f2cd95 675px,#f8e2b7 695px,#f8e2b8 707px,#f5d5a2 719px,#e5a95f 743px,#d7913f 763px,#d48a36 781px,#da9545 799px,#f0c589 835px,#f6daaa 859px)"></i><i style="background:linear-gradient(90deg,#f7dfb1 1px,#f4d4a0 31px,#efc283 49px,#dd9b4d 75px,#d99342 89px,#df9e50 105px,#e9b069 123px,#e6ab62 129px,#db9747 135px,#ce8432 139px,#9e5c25 147px,#874b1f 155px,#7a441c 169px,#83491e 185px,#935322 193px,#ba732c 201px,#d08634 205px,#e2a357 213px,#e6ab62 219px,#e6ac63 253px,#eab36c 271px,#eebf80 277px,#f6daaa 283px,#f6f4f1 291px,#e7e7f0 295px,#dadaea 301px,#d9d9e9 309px,#e8e8f0 315px,#f1f1f4 317px,#f6f3ed 319px,#f8e2b6 325px,#f0c487 331px,#ebb56f 337px,#dd9c4d 365px,#cd8331 381px,#b26c2a 397px,#b06b2a 409px,#c87f30 425px,#d78f3d 435px,#e0a053 451px,#de9d4f 465px,#cd8331 483px,#ae6929 499px,#ab6628 509px,#bc742c 521px,#d38935 533px,#d38834 539px,#bd762d 545px,#915222 553px,#79431c 563px,#75401b 581px,#7a441c 613px,#8c4f20 623px,#9b5924 627px,#cf8532 635px,#e4a85e 643px,#ecb773 651px,#f2cc93 671px,#f8e3bb 689px,#f7e7c7 701px,#f8e4bd 711px,#f3d19b 723px,#e7ad64 741px,#db9647 759px,#d68f3d 777px,#db9748 795px,#eec081 829px,#f5d7a5 855px,#f6d9a8 859px)"></i><i style="background:linear-gradient(90deg,#f7deaf 1px,#f3d19b 35px,#edba78 57px,#e1a155 79px,#df9e51 93px,#ebb56f 125px,#e9b069 131px,#df9f52 137px,#cf8634 143px,#9f5c25 153px,#8d4f21 161px,#884c1f 175px,#965623 187px,#b36d2a 195px,#d08634 201px,#e3a65b 211px,#e7ac63 219px,#e5aa61 249px,#e8af68 271px,#edba77 277px,#f4d29c 283px,#f7ead0 289px,#f6f4f1 293px,#e9e9f0 297px,#ddddeb 305px,#e0e0ec 311px,#f3f3f5 317px,#f6f3eb 319px,#f8e2b6 325px,#f0c486 331px,#eab36d 337px,#da9646 365px,#cf8431 375px,#a56227 393px,#9c5a24 405px,#a96528 417px,#d28834 435px,#de9c4e 451px,#de9d4f 463px,#d58c39 477px,#c67d2f 485px,#ab6628 499px,#a76327 509px,#b8722c 521px,#d28732 533px,#cf8431 539px,#b56f2b 545px,#925222 551px,#7a441c 559px,#733f1a 571px,#7e461d 607px,#8e5021 619px,#a46026 625px,#d18734 633px,#e3a65b 641px,#ebb56f 649px,#f2cc93 669px,#f8e4be 685px,#f7ead1 697px,#f7e9cc 707px,#f7ddae 719px,#e9b16a 739px,#de9c4e 755px,#d99443 775px,#de9d4f 795px,#f1ca90 837px,#f6d8a7 859px)"></i><i style="background:linear-gradient(90deg,#f7dcac 1px,#f3cf99 37px,#e6ab62 79px,#e5a95f 97px,#ecb975 127px,#eab26b 135px,#da9544 145px,#c97f30 151px,#a96528 161px,#a05d25 171px,#a96428 181px,#ca8131 193px,#d99342 199px,#e4a75c 207px,#e7ad65 215px,#e5aa60 249px,#e7ad65 273px,#ecb875 279px,#f3d09a 285px,#f7e8cb 291px,#f6f2e9 295px,#f4f3f2 297px,#e6e6ef 305px,#e8e8f0 311px,#f2f2f4 315px,#f6f5f1 317px,#f7dfb1 325px,#efc283 331px,#e9b16a 337px,#d99444 363px,#cb8130 373px,#975623 393px,#8f5121 405px,#9b5924 417px,#d38935 439px,#dd9b4d 453px,#dd9b4d 465px,#d28732 481px,#ad6829 499px,#a96528 509px,#ba732c 521px,#d28732 533px,#cd8331 539px,#b06a29 545px,#955523 549px,#7b441c 557px,#733f1a 569px,#78421c 595px,#905121 613px,#a86427 621px,#ce8331 629px,#e3a55a 639px,#ecb772 651px,#f2cb92 667px,#f8e5c1 683px,#f7ecd8 695px,#f7ecd5 705px,#f8e2b7 717px,#ebb570 737px,#e0a053 753px,#dc9849 773px,#e1a256 795px,#f2cd95 841px,#f5d7a5 859px)"></i><i style="background:linear-gradient(90deg,#f6dbaa 1px,#f2cd95 41px,#eab26c 81px,#eab26c 103px,#edbb79 131px,#eab26b 141px,#d58e3c 157px,#ca8233 169px,#d48c3b 183px,#e8ae66 205px,#e7ad65 219px,#e4a75d 269px,#e7ad64 277px,#edbb79 283px,#f8e4be 293px,#f7f0e3 299px,#f5f3f0 303px,#f5f4f1 313px,#f7efe0 317px,#f8e2b7 323px,#eebf7e 331px,#e8af67 337px,#d99444 361px,#d08532 369px,#955423 389px,#874c1f 403px,#925222 417px,#b9722c 431px,#d48a36 441px,#de9c4e 455px,#de9d4f 467px,#d08632 485px,#b36d2a 501px,#b36d2a 513px,#d38833 533px,#d18632 537px,#b9722c 543px,#925322 549px,#7a441c 557px,#74401b 571px,#78421c 595px,#945422 609px,#ce8532 625px,#e5a95f 639px,#efc385 661px,#f8e3bb 679px,#f7ecd8 691px,#f7eedc 701px,#f7e8c9 711px,#f6d9a7 721px,#ebb570 737px,#e1a256 753px,#de9c4e 773px,#e4a85e 797px,#f3d19b 847px,#f5d6a4 859px)"></i><i style="background:linear-gradient(90deg,#f6daa8 1px,#f2cb91 47px,#ecb874 85px,#edba78 117px,#edbc7a 139px,#e4a75c 163px,#e7ad64 179px,#ecb875 199px,#e5aa60 233px,#e3a55a 275px,#e9b069 283px,#efc385 289px,#f7e1b7 297px,#f7ebd2 303px,#f7eedd 309px,#f7ebd2 315px,#f7e0b4 321px,#edba78 331px,#e7ad65 337px,#d89341 361px,#cd8331 369px,#955423 387px,#83491e 401px,#884d20 413px,#9b5924 423px,#d38934 441px,#df9e51 455px,#e1a256 467px,#da9645 481px,#cc8231 493px,#bc752d 505px,#c1792e 517px,#d38934 531px,#d08531 537px,#b46e2b 543px,#905121 549px,#7a441c 557px,#74401b 585px,#7b441c 597px,#985724 607px,#c77d2f 617px,#d89241 625px,#e5aa61 639px,#eebd7c 657px,#f8e3bc 679px,#f7ecd7 691px,#f7edd9 701px,#f7e6c5 711px,#f5d6a3 721px,#ebb46f 737px,#e2a358 753px,#e0a054 775px,#e9b069 803px,#f3d09a 847px,#f5d5a2 859px)"></i><i style="background:linear-gradient(90deg,#f6d8a7 1px,#f1c78c 57px,#edbb79 93px,#efc182 163px,#f2cd95 185px,#f0c68a 199px,#e8af67 221px,#df9f52 275px,#e5a95f 285px,#eebf7f 293px,#f7ddae 303px,#f8e3bb 309px,#f7e1b6 315px,#f2cd95 323px,#ebb570 331px,#e4a75c 341px,#da9545 359px,#cc8231 369px,#955423 387px,#83491e 401px,#884c20 413px,#9b5924 423px,#d48a36 441px,#e1a357 455px,#e6ab62 467px,#e2a459 479px,#d18733 499px,#c97f30 511px,#d38935 531px,#ca8030 537px,#9f5c25 545px,#8c4f21 549px,#7b441c 557px,#77411b 593px,#874c1f 601px,#975623 605px,#cf8532 615px,#de9d4f 627px,#edb976 655px,#f8e4be 681px,#f7ead2 693px,#f7e9cd 703px,#f7deaf 715px,#ecb671 735px,#e3a65b 751px,#e2a358 773px,#ebb56f 805px,#f3d09a 849px,#f4d4a0 859px)"></i><i style="background:linear-gradient(90deg,#f5d7a5 1px,#eebe7d 99px,#eec080 139px,#f2cd95 159px,#f7dfb2 179px,#f7deb0 189px,#f2cb91 203px,#eab36d 219px,#e3a65b 243px,#dd9a4b 277px,#e1a255 287px,#ecb774 297px,#f2cd96 307px,#f3d09a 313px,#f0c68a 321px,#e7ad65 333px,#da9545 359px,#ce8431 369px,#945423 389px,#864b1f 403px,#915222 417px,#ac6728 427px,#d38834 439px,#e5a960 455px,#ecb772 469px,#eab36d 479px,#d58d3a 505px,#d38934 529px,#c57c2f 535px,#945423 545px,#7f471d 553px,#77421b 569px,#78421b 593px,#8b4e20 601px,#9f5d25 605px,#d18632 613px,#dc994a 621px,#ebb570 653px,#f8e3ba 683px,#f7e7c6 693px,#f8e5c0 703px,#f5d6a3 715px,#ebb36d 735px,#e3a65b 753px,#e4a85e 779px,#eec080 819px,#f4d49f 859px)"></i><i style="background:linear-gradient(90deg,#f5d7a4 1px,#eebe7e 105px,#eebf7f 137px,#f2cb92 153px,#f8e4bc 173px,#f7e6c5 183px,#f8e3b9 193px,#ebb570 219px,#e3a65b 239px,#da9544 277px,#dd9b4c 289px,#eebe7d 311px,#edbb7a 319px,#e5a85f 335px,#dc994a 357px,#cd8331 371px,#985724 391px,#8e5021 403px,#955523 415px,#ba732c 429px,#d38834 437px,#ecb875 459px,#f0c486 469px,#efc283 479px,#dd9a4c 503px,#d48b37 525px,#c57d2f 531px,#915222 543px,#7c451d 553px,#77411b 589px,#83491e 597px,#9a5824 603px,#cd8331 611px,#da9544 617px,#e0a054 631px,#ebb36d 653px,#f7dfb1 685px,#f8e1b5 697px,#f5d7a4 709px,#eab36d 733px,#e4a75d 751px,#e6aa61 779px,#f4d39e 859px)"></i><i style="background:linear-gradient(90deg,#f5d6a3 1px,#eebd7c 115px,#eebf80 139px,#f3ce97 155px,#f8e3bc 171px,#f7e7c8 181px,#f8e5c0 191px,#f5d8a6 201px,#ebb670 219px,#e2a559 237px,#d7903f 275px,#da9545 291px,#e9b069 313px,#e6ab62 327px,#dd9b4d 357px,#ce8431 373px,#a25f26 393px,#995724 405px,#a66227 417px,#d38935 435px,#eebe7d 457px,#f3ce97 467px,#f4d29c 475px,#f0c78b 485px,#e4a75c 501px,#d68e3b 521px,#c77e2f 527px,#915222 539px,#7d451d 549px,#78421b 585px,#844a1e 595px,#975623 601px,#d08531 611px,#db9747 619px,#e7ac64 649px,#f4d49f 683px,#f5d7a4 695px,#f2cc94 709px,#e9b069 733px,#e4a85e 755px,#e9b16a 789px,#f4d29d 859px)"></i><i style="background:linear-gradient(90deg,#f5d5a2 1px,#edbc7a 125px,#efc182 145px,#f5d5a1 163px,#f8e3ba 177px,#f8e3ba 187px,#f5d6a4 199px,#ebb46e 219px,#df9e51 243px,#d58d3a 275px,#d89241 293px,#e4a75c 315px,#e0a053 353px,#d48a36 373px,#ad6829 397px,#ab6728 409px,#c0782d 423px,#d28834 431px,#ecb671 451px,#f4d4a0 465px,#f6dcac 473px,#f5d7a4 481px,#e6aa61 503px,#d99342 517px,#ca8130 523px,#905122 535px,#7c451d 545px,#7a431c 569px,#81481e 589px,#925222 597px,#d28732 611px,#d99443 619px,#e5aa60 649px,#f1ca91 683px,#f2cb92 697px,#e8ae66 733px,#e5a95f 757px,#ecb671 797px,#f4d29c 859px)"></i><i style="background:linear-gradient(90deg,#f4d5a1 1px,#edba77 131px,#efc081 151px,#f5d6a3 177px,#f4d5a1 189px,#eebf80 207px,#e5aa60 225px,#d48b38 271px,#d68e3b 291px,#e2a358 321px,#e1a256 351px,#d7913f 373px,#cc8230 385px,#bc742c 401px,#c1792e 415px,#d38935 427px,#e6ab62 445px,#f6d9a7 465px,#f8e0b3 473px,#f6dbab 481px,#e5aa61 505px,#d99342 515px,#cf8532 519px,#915222 531px,#7c451d 541px,#79431c 561px,#894d20 587px,#985724 595px,#d28732 611px,#d99342 623px,#e6ab62 653px,#efc283 683px,#eec080 701px,#e7ac63 733px,#e6ab62 763px,#eebd7c 809px,#f3d19b 859px)"></i><i style="background:linear-gradient(90deg,#f4d4a0 1px,#ecb773 137px,#eebf80 163px,#f0c588 183px,#edbb79 201px,#e0a053 235px,#d48a36 273px,#d68e3b 293px,#e1a256 325px,#e1a357 353px,#d7903d 381px,#cd8331 399px,#d18733 417px,#dc9949 433px,#ecb671 449px,#f5d8a6 465px,#f7dfb1 473px,#f6daa9 481px,#e5a95f 505px,#d48a36 515px,#945423 527px,#7d451d 537px,#78421c 555px,#915222 583px,#a96528 595px,#d28732 611px,#e4a85e 653px,#edba77 681px,#ecb874 701px,#e6aa61 737px,#e9b068 775px,#f3d19b 859px)"></i><i style="background:linear-gradient(90deg,#f4d4a0 1px,#ebb46e 145px,#ebb570 189px,#d48a36 275px,#d7903e 297px,#e2a357 331px,#e1a357 359px,#d68e3c 405px,#da9646 425px,#e6ab62 443px,#f5d5a1 467px,#f6d9a7 475px,#f3cf98 485px,#e5aa60 503px,#d28834 513px,#995824 523px,#82491e 531px,#78431c 543px,#7d451d 559px,#af6a29 591px,#d28732 613px,#df9f51 645px,#eab26c 673px,#ebb46e 697px,#e6aa61 741px,#ebb570 787px,#f3d19b 859px)"></i><i style="background:linear-gradient(90deg,#f4d4a0 1px,#e8af67 155px,#e1a357 225px,#d58c38 277px,#d99342 301px,#e2a459 335px,#e1a357 371px,#dc994a 415px,#e2a559 437px,#ecb976 453px,#f2ce96 469px,#f2cd95 479px,#edba77 493px,#de9c4e 505px,#d08532 511px,#985623 521px,#7f471d 531px,#79431c 547px,#864b1f 561px,#b06a29 583px,#d28732 617px,#e7ad65 669px,#e9b068 699px,#e6ab63 745px,#edb976 795px,#f3d19b 859px)"></i><i style="background:linear-gradient(90deg,#f4d4a0 1px,#ebb570 119px,#e3a55b 185px,#de9d4f 241px,#d68e3c 279px,#dc9849 307px,#e3a65b 341px,#e4a75d 395px,#e0a154 423px,#e7ac64 445px,#efc386 469px,#efc183 481px,#e8af67 495px,#d99342 505px,#cd8331 509px,#975623 519px,#81481e 529px,#7c441c 545px,#894d20 559px,#b26c2a 581px,#d48a36 623px,#e5aa60 665px,#e8ae66 697px,#e7ad65 749px,#eebd7d 803px,#f3d19c 859px)"></i><i style="background:linear-gradient(90deg,#f4d5a1 1px,#ecb874 109px,#e1a357 177px,#de9c4f 245px,#d89140 281px,#df9e51 317px,#eab26c 393px,#e2a55a 425px,#e7ad65 449px,#edba78 473px,#eab36d 487px,#e1a357 497px,#d48a36 505px,#995824 517px,#83491e 527px,#7e461d 541px,#8e5021 559px,#af6929 581px,#d48a36 623px,#e5a95f 665px,#e7ac64 703px,#e9b169 759px,#f4d29c 859px)"></i><i style="background:linear-gradient(90deg,#f5d5a2 1px,#edba77 103px,#e1a155 173px,#de9c4e 249px,#d99444 285px,#e7ad64 365px,#edbd7b 389px,#ecb671 403px,#e4a75d 423px,#e5a960 447px,#eab26b 475px,#e5a960 489px,#da9545 499px,#cb8130 505px,#955523 517px,#83491e 529px,#844a1f 545px,#a36026 575px,#d28833 617px,#e5a85f 665px,#e7ad64 713px,#ebb570 771px,#f4d29d 859px)"></i><i style="background:linear-gradient(90deg,#f5d6a2 1px,#edbb78 101px,#e0a053 173px,#de9c4e 253px,#db9647 289px,#e5a95f 359px,#efc486 387px,#efc183 397px,#e5a85e 421px,#e3a55a 443px,#e6aa61 477px,#e0a053 491px,#d38834 501px,#955423 517px,#874b1f 529px,#8b4e20 549px,#a05e26 575px,#d28833 613px,#e5a95f 665px,#ebb56f 763px,#f4d39f 859px)"></i><i style="background:linear-gradient(90deg,#f5d6a4 1px,#edbc7b 99px,#e0a054 171px,#df9f52 223px,#dc994a 267px,#dc9849 305px,#e1a255 355px,#eab36d 371px,#f0c589 385px,#f0c589 395px,#e3a65c 419px,#e0a053 437px,#e1a357 479px,#dc9949 491px,#d28834 499px,#965523 517px,#8b4e20 531px,#985724 567px,#d28833 607px,#e5a95f 663px,#ecb773 765px,#f4d4a0 859px)"></i><i style="background:linear-gradient(90deg,#f5d7a5 1px,#eebd7c 99px,#e1a255 171px,#de9c4e 253px,#d99342 301px,#da9646 351px,#e2a357 365px,#efc182 385px,#efc183 393px,#de9c4e 421px,#db9747 439px,#dc994b 481px,#d68e3b 493px,#cc8230 499px,#9e5c25 515px,#915222 527px,#965523 559px,#b06a29 579px,#d38834 601px,#e0a155 641px,#e8ae66 681px,#ecb874 759px,#f5d5a2 859px)"></i><i style="background:linear-gradient(90deg,#f5d8a6 1px,#eebe7d 101px,#e2a358 173px,#dd9b4d 249px,#d28935 305px,#d18835 351px,#d89241 363px,#eab36d 385px,#e9b16b 395px,#d7903e 419px,#d38936 435px,#d68e3b 483px,#cd8231 495px,#9f5d25 517px,#965523 533px,#9f5d25 559px,#c27a2e 583px,#d58c39 597px,#df9e50 625px,#e8af68 679px,#edba77 759px,#f5d6a4 859px)"></i><i style="background:linear-gradient(90deg,#f6d9a8 1px,#eebe7e 105px,#e3a65b 175px,#dd9a4b 241px,#cc8231 283px,#b8712b 327px,#bb742c 353px,#d08735 369px,#de9c4e 385px,#dd9b4c 395px,#cc8231 415px,#c1792e 433px,#c77e2f 487px,#a25f26 521px,#a46026 547px,#b6702b 567px,#d48a36 587px,#de9d50 611px,#e9b16a 679px,#edbc7b 761px,#f5d8a6 859px)"></i><i style="background:linear-gradient(90deg,#f6dbaa 1px,#eebf7f 109px,#e4a75d 181px,#dc994b 233px,#ce8431 263px,#a66227 305px,#9c5a25 339px,#a66227 359px,#ca8131 385px,#c77e2f 399px,#b16c2a 423px,#b06b29 469px,#b06b29 497px,#a76327 525px,#b6702b 555px,#d48b37 579px,#e0a154 605px,#ebb46e 685px,#efc081 767px,#f6d9a8 859px)"></i><i style="background:linear-gradient(90deg,#f7dcac 1px,#eebf7f 117px,#dd9a4b 227px,#cd8331 255px,#995824 295px,#8d4f21 327px,#945422 361px,#ae6929 389px,#9c5a24 473px,#a96528 525px,#c37b2e 557px,#d48a37 571px,#e2a357 599px,#ebb46d 667px,#efc385 767px,#f6dbaa 859px)"></i><i style="background:linear-gradient(90deg,#f7deaf 1px,#eebf7f 127px,#df9e51 221px,#ce8431 251px,#945322 291px,#854b1f 323px,#8c4f21 363px,#a05d25 401px,#9c5a24 441px,#905122 481px,#9c5a24 513px,#c77e2f 555px,#d58c39 567px,#e3a55a 595px,#e9b16a 637px,#f0c689 769px,#f7ddad 859px)"></i><i style="background:linear-gradient(90deg,#f7dfb1 1px,#eebe7d 143px,#e1a255 221px,#ce8431 255px,#945422 293px,#84491e 325px,#8a4d20 365px,#a46126 421px,#9b5924 449px,#8c4f21 485px,#965523 515px,#ca8030 555px,#d68f3d 567px,#e4a85e 595px,#ebb46e 639px,#f1c98e 771px,#f7deb0 859px)"></i><i style="background:linear-gradient(90deg,#f8e1b4 1px,#edbb7a 165px,#e2a358 229px,#ce8432 265px,#985723 305px,#8a4d20 335px,#925222 373px,#af6a29 421px,#a96528 447px,#915222 485px,#965523 513px,#ba732c 543px,#d48a36 561px,#e4a85d 591px,#ebb56f 627px,#f2cc93 773px,#f8e0b3 859px)"></i><i style="background:linear-gradient(90deg,#f8e2b7 1px,#ecb976 191px,#e1a256 247px,#cf8634 283px,#a56127 327px,#9f5c25 355px,#b56f2b 395px,#c47b2e 427px,#ba732c 455px,#a05e26 493px,#a66227 517px,#c77e2f 547px,#d58c39 559px,#e5aa60 591px,#ecb975 633px,#f3d099 777px,#f8e2b6 859px)"></i><i style="background:linear-gradient(90deg,#f8e3b9 1px,#ecb773 219px,#de9c4f 281px,#cf8635 319px,#c57c2f 359px,#d68f3c 429px,#cd8433 465px,#bc742c 503px,#c57c2f 529px,#d68e3b 551px,#e8ae67 593px,#eebd7c 641px,#f4d49f 783px,#f8e2b9 859px)"></i><i style="background:linear-gradient(90deg,#f8e4bc 1px,#ebb46f 255px,#dc994a 349px,#df9e50 405px,#df9e51 449px,#d58d3a 509px,#da9645 541px,#ecb875 607px,#f1c88d 701px,#f8e3bc 859px)"></i><i style="background:linear-gradient(90deg,#f8e5bf 1px,#eebf7f 239px,#e6ac63 355px,#e6ab63 457px,#e1a256 519px,#e9b069 569px,#efc284 633px,#f7dcac 797px,#f8e4bf 859px)"></i></div></div><div class="mp" style="left:997.71px;top:632.71px;width:852.77px;height:426.39px"><div class="fl" style="left:-3.61px;top:-6.81px;width:860px"><i style="background:linear-gradient(90deg,#ebebf1 1px,#d8d8e9 263px,#cacae2 321px,#dedeeb 367px,#e4e4ee 397px,#cbcbe3 439px,#d6d6e8 497px,#d3d3e7 547px,#dedeeb 629px,#ebebf1 859px)"></i><i style="background:linear-gradient(90deg,#eaeaf1 1px,#d8d8e9 239px,#bab7d7 305px,#c3c1dd 327px,#efeff3 373px,#efeff3 395px,#c8c7e0 435px,#c8c7e0 461px,#d1d1e6 501px,#c5c4de 545px,#dadaea 605px,#eaeaf1 859px)"></i><i style="background:linear-gradient(90deg,#e9e9f0 1px,#d8d8e9 219px,#c7c6e0 249px,#a49dc7 289px,#a6a0c9 305px,#bebcda 325px,#eeeef3 351px,#f7f1e5 365px,#f7eedc 379px,#f6f2e9 391px,#f3f3f5 399px,#cdcde4 425px,#bebcda 455px,#c3c1dd 481px,#cbcbe3 507px,#bdbad9 531px,#b1acd0 551px,#b8b5d6 569px,#d3d3e7 601px,#dcdceb 653px,#e9e9f0 859px)"></i><i style="background:linear-gradient(90deg,#e8e8f0 1px,#d7d7e9 203px,#c7c6e0 229px,#a49cc7 255px,#8477ae 277px,#8273ac 289px,#8f83b6 301px,#d5d5e8 329px,#f0eff2 339px,#f7efe0 347px,#f8e5c0 359px,#f7e1b6 369px,#f8e5c0 379px,#f7f0e2 391px,#f5f4f5 397px,#d5d5e8 415px,#b2add1 471px,#bab7d7 493px,#c4c3de 515px,#b9b5d6 531px,#9389ba 559px,#958bbc 571px,#cccbe3 609px,#d9d9e9 635px,#e8e8f0 859px)"></i><i style="background:linear-gradient(90deg,#e7e7f0 1px,#d7d7e8 189px,#c6c5df 213px,#a8a2ca 233px,#705d9e 259px,#654c96 271px,#674f97 283px,#7463a1 293px,#9b92c0 305px,#dbdbea 323px,#efeff2 329px,#f6f2eb 333px,#f7e1b7 345px,#f4d29c 355px,#f3ce96 363px,#f5d5a2 371px,#f7e9ce 383px,#f5f3f0 391px,#ededf2 395px,#d4d4e7 409px,#c5c4df 445px,#a49dc7 479px,#a69fc9 493px,#bdbad9 521px,#b8b5d5 533px,#a098c4 547px,#7868a4 563px,#6f5c9d 573px,#7564a2 583px,#8f83b6 595px,#b7b3d4 611px,#cecde4 627px,#d9d9e9 653px,#e7e7ef 859px)"></i><i style="background:linear-gradient(90deg,#e7e7ef 1px,#d7d7e8 175px,#c6c5df 199px,#aaa4cc 217px,#685198 243px,#54348a 257px,#523088 269px,#5b3e8f 279px,#7564a2 291px,#c6c5df 311px,#ededf2 321px,#f6f3ee 325px,#f7ddad 339px,#f2cb91 349px,#f1c78c 357px,#f3d09a 365px,#f7e6c5 375px,#f5f2ed 383px,#ededf2 387px,#d3d3e7 399px,#cdcce4 413px,#d2d2e6 441px,#c4c2de 457px,#9287b9 487px,#8f84b6 497px,#a29bc6 513px,#b6b2d4 529px,#b4afd2 541px,#a39bc6 551px,#6c589b 569px,#5d4090 579px,#5b3e8f 589px,#695299 599px,#9389ba 613px,#b6b1d4 625px,#cccbe3 639px,#d8d8e9 663px,#e6e6ef 859px)"></i><i style="background:linear-gradient(90deg,#e6e6ef 1px,#d6d6e8 165px,#c7c5e0 187px,#aaa4cc 205px,#654d96 231px,#512f87 243px,#49277c 255px,#512f87 267px,#654d96 279px,#8477ae 289px,#c5c3de 305px,#f5f4f4 319px,#f8e2b6 335px,#f4d4a0 345px,#f4d4a0 353px,#f7dfb4 361px,#f4f0e9 373px,#ededf1 377px,#cecee4 389px,#c5c3de 401px,#dfdfec 443px,#d8d8e9 457px,#c1bfdc 469px,#8375ad 491px,#7767a4 501px,#7d6ea8 511px,#aea9ce 537px,#b3afd2 547px,#a9a2cb 557px,#8c81b4 567px,#634994 581px,#54338a 591px,#533189 599px,#614693 609px,#8375ad 621px,#aca7cd 633px,#c7c6e0 647px,#d5d5e8 665px,#e5e5ef 859px)"></i><i style="background:linear-gradient(90deg,#e5e5ef 1px,#d6d6e8 155px,#c7c6e0 177px,#a7a1c9 197px,#695399 221px,#54338a 235px,#4f2d85 247px,#5a3c8e 261px,#7665a2 277px,#cccce3 303px,#f3f3f5 317px,#f6f3ec 321px,#f7e9ce 333px,#f7e6c5 343px,#f7e9ce 351px,#f3efe9 361px,#ececf0 365px,#c2c0dc 381px,#b9b5d6 391px,#c2c0dc 405px,#f0f0f4 443px,#efeff3 459px,#dbdbea 469px,#b0abd0 481px,#7767a4 495px,#695399 503px,#664e97 513px,#705d9e 523px,#a9a3cb 547px,#b2aed1 557px,#aba6cd 567px,#9489ba 577px,#674f97 593px,#5b3d8f 603px,#5d4191 613px,#6e5b9d 623px,#aea8ce 643px,#c7c6e0 657px,#d4d4e7 675px,#e5e5ee 859px)"></i><i style="background:linear-gradient(90deg,#e4e4ee 1px,#d5d5e8 147px,#c5c3de 171px,#a39bc6 193px,#705e9e 215px,#624994 229px,#624894 243px,#7665a2 267px,#9489ba 281px,#d2d2e6 303px,#f0f0f3 319px,#f5f2ed 337px,#eaeaf1 351px,#b5b0d3 373px,#aba5cc 383px,#b2aed1 395px,#e3e3ee 425px,#f5f4f2 437px,#f7edd8 451px,#f7edda 459px,#f3f1f0 469px,#e8e8f0 473px,#bdbbd9 483px,#705d9e 499px,#5c3f8f 509px,#57378c 519px,#5f4392 529px,#7765a3 541px,#a69fc8 557px,#b4afd2 567px,#b2add1 577px,#9e95c2 589px,#7968a5 605px,#6f5b9d 615px,#7361a0 625px,#8c80b4 637px,#b0abd0 651px,#c9c8e1 667px,#d5d5e8 689px,#e4e4ee 859px)"></i><i style="background:linear-gradient(90deg,#e4e4ee 1px,#d5d5e7 141px,#c3c2dd 167px,#9d95c2 195px,#8173ab 215px,#7b6ba6 233px,#7b6ca7 265px,#887cb1 275px,#cdcde4 301px,#e3e3ed 317px,#e4e4ee 333px,#d1d1e5 347px,#a39cc6 369px,#9e96c2 379px,#aea9cf 393px,#dadaea 417px,#f4f4f5 431px,#f8e6c4 449px,#f8e4be 457px,#f7e8cb 465px,#f3f3f3 475px,#d1d1e6 483px,#9e96c2 493px,#72609f 501px,#5b3e8f 509px,#4f2c86 517px,#4c2981 527px,#56378c 539px,#6f5c9e 551px,#a49cc7 567px,#b6b2d4 577px,#b9b5d6 589px,#a7a0c9 605px,#9186b8 623px,#9489ba 635px,#c7c6e0 671px,#d4d4e7 693px,#e3e3ee 859px)"></i><i style="background:linear-gradient(90deg,#e3e3ee 1px,#d4d4e7 137px,#c1bfdb 169px,#a29ac5 211px,#978dbd 233px,#7362a0 257px,#7361a0 267px,#8072ab 275px,#bab6d6 293px,#d1d1e6 305px,#d9d9e9 321px,#cecee4 335px,#978ebd 363px,#9389ba 373px,#9f97c3 383px,#d3d3e7 411px,#f6f6f5 431px,#f8e5c0 447px,#f8e1b5 455px,#f8e4bc 463px,#f7ecd6 471px,#f6f5f4 477px,#cecde4 487px,#9c93c1 497px,#715f9f 505px,#55358b 515px,#49277c 523px,#452476 535px,#4e2d83 547px,#614793 557px,#877ab0 569px,#a9a3cb 579px,#bdbad9 591px,#bfbdda 605px,#aea8ce 635px,#b6b2d4 655px,#cfcfe5 687px,#d6d6e8 763px,#e2e2ed 859px)"></i><i style="background:linear-gradient(90deg,#e2e2ed 1px,#d3d3e7 137px,#b8b5d6 217px,#a7a1ca 229px,#6d599c 249px,#644b95 259px,#685198 267px,#7868a4 275px,#afa9cf 289px,#c7c6e0 299px,#d1d1e6 311px,#cbcbe2 325px,#aea9cf 341px,#8e83b6 357px,#8b7fb3 367px,#988ebd 377px,#c8c7e0 401px,#f0f0f3 429px,#f6f5f2 433px,#f7e7c7 447px,#f8e4bd 455px,#f8e6c4 463px,#f7f0e2 473px,#f6f5f3 477px,#e6e6ef 483px,#c1bedb 493px,#9489ba 503px,#6e5a9c 511px,#533289 521px,#452476 531px,#422172 545px,#4c2a81 557px,#614693 567px,#887bb0 579px,#aaa4cc 589px,#c0bedb 601px,#c6c5df 617px,#c0bedb 653px,#d2d2e6 705px,#ddddeb 827px,#e1e1ed 859px)"></i><i style="background:linear-gradient(90deg,#e2e2ed 1px,#d3d3e7 165px,#d8d8e9 197px,#cbcbe3 213px,#b4b0d3 223px,#968cbc 231px,#6d589b 241px,#5d4190 249px,#593a8d 259px,#614793 267px,#7666a2 275px,#aca6cd 287px,#c5c4de 297px,#cdcde4 307px,#c7c5e0 319px,#a8a1ca 335px,#8a7db2 349px,#8477ae 359px,#8f83b6 369px,#c1bfdc 393px,#e6e6ef 427px,#f5f4f2 437px,#f7ecd7 451px,#f7ecd8 461px,#f4f4f4 475px,#cbcbe3 493px,#9d94c2 507px,#6b569a 519px,#523187 529px,#432273 541px,#442274 557px,#513087 569px,#6e5a9c 581px,#a8a1ca 597px,#c0bedb 609px,#cbcae2 625px,#cdcde4 681px,#ddddeb 833px,#e0e0ed 859px)"></i><i style="background:linear-gradient(90deg,#e1e1ed 1px,#d8d8e9 145px,#f1f0f2 183px,#ededf2 197px,#dadaea 209px,#c1bfdc 217px,#9f97c3 225px,#7463a1 233px,#5d4090 241px,#533189 249px,#54348a 259px,#624894 267px,#7d6ea8 275px,#ada7cd 285px,#c5c3de 295px,#cacae2 305px,#bebbd9 317px,#8679b0 341px,#7f71aa 351px,#877ab0 361px,#bcb9d8 385px,#cccce3 401px,#e0e0ec 429px,#f3f2f2 447px,#efeff3 469px,#c9c8e1 497px,#a9a3cb 511px,#675098 529px,#512f86 539px,#452375 551px,#472579 567px,#533189 577px,#6d599c 589px,#a69fc8 605px,#bfbdda 617px,#cccce3 633px,#d7d7e8 807px,#e0e0ec 859px)"></i><i style="background:linear-gradient(90deg,#e1e1ed 1px,#d9d9e9 131px,#e8e8f0 151px,#f2f1f2 159px,#f7f0e4 169px,#f7ecd6 181px,#f7efdf 191px,#f6f5f4 199px,#e0e0ec 207px,#bfbcda 215px,#948aba 223px,#72609f 229px,#5a3c8e 237px,#512e88 245px,#523088 255px,#5e4291 263px,#7868a4 271px,#a9a3cb 281px,#c0bddb 289px,#c8c7e0 299px,#bebcda 309px,#9d95c2 323px,#8273ac 335px,#7c6ca7 345px,#8577ae 355px,#bab7d7 379px,#c8c7e1 393px,#d9d9e9 433px,#e1e1ed 457px,#c6c5df 503px,#b0abd0 517px,#9085b7 527px,#675098 539px,#533288 549px,#49277c 561px,#4c2980 575px,#57388c 585px,#7666a3 599px,#a69fc9 613px,#c1bfdc 627px,#cdcde4 645px,#d4d4e7 799px,#dfdfec 859px)"></i><i style="background:linear-gradient(90deg,#e0e0ed 1px,#d9d9e9 123px,#e8e8f0 141px,#f3f3f2 149px,#f7f1e5 155px,#f8e4bd 169px,#f7e1b6 177px,#f8e4be 185px,#f7efdf 195px,#f6f5f3 199px,#e1e1ed 205px,#bbb7d7 213px,#6d599c 227px,#58398d 235px,#512f88 243px,#55348a 253px,#644b95 261px,#7969a5 267px,#a9a3cb 277px,#bfbcda 285px,#c6c4df 293px,#bcb9d8 303px,#9f97c3 315px,#8072ab 327px,#7969a5 337px,#8071aa 347px,#9b91c0 359px,#b9b6d6 373px,#c6c5df 387px,#cecee4 453px,#c5c4de 511px,#b3afd2 525px,#998fbe 535px,#6b569a 549px,#57378c 561px,#512e87 575px,#593b8e 589px,#715f9e 603px,#a8a2ca 621px,#c1bfdc 635px,#cdcde4 653px,#d3d3e6 797px,#dedeec 859px)"></i><i style="background:linear-gradient(90deg,#e0e0ec 1px,#dadaea 117px,#e9e9f0 135px,#f5f4f2 143px,#f7dfb1 163px,#f5d7a5 171px,#f6dcac 179px,#f7e9cc 189px,#f5f4f3 197px,#d4d4e7 205px,#a29bc6 215px,#7564a1 223px,#5f4391 231px,#56368b 239px,#5a3c8e 249px,#6a5499 257px,#897db2 265px,#aca6cd 273px,#bfbdda 281px,#c3c2dd 289px,#b6b2d4 299px,#8072ab 319px,#7666a3 329px,#7e70a9 341px,#9a91bf 353px,#b6b2d4 365px,#c3c1dd 379px,#c2c0dd 441px,#bbb8d8 475px,#c7c6e0 515px,#bdbbd9 529px,#a7a1c9 541px,#6f5b9d 561px,#5f4492 573px,#5d4090 587px,#685298 601px,#8071aa 613px,#aba5cc 629px,#c4c2de 645px,#cecee5 667px,#d0d0e6 791px,#dedeeb 859px)"></i><i style="background:linear-gradient(90deg,#e0e0ec 1px,#dadae9 111px,#e7e7ef 129px,#f6f5f3 139px,#f8e2b8 157px,#f6dbaa 165px,#f7ddae 173px,#f7e8ca 183px,#f6f3ed 191px,#eeeef3 195px,#bebbd9 207px,#7463a1 223px,#644b95 231px,#604592 239px,#675098 247px,#7c6ca7 255px,#aca6cd 267px,#c0bedb 277px,#c1bedb 285px,#afaacf 295px,#8173ab 311px,#7564a1 321px,#7a6ba6 333px,#8f83b6 343px,#b2aed1 357px,#c0bedb 369px,#bebbd9 429px,#aca7cd 467px,#b8b5d6 491px,#c8c7e0 519px,#c1bfdb 537px,#a7a0c9 553px,#7767a4 573px,#6b569a 585px,#6c579b 599px,#7a6ba6 613px,#b2aed1 639px,#c8c7e1 657px,#cfcfe5 687px,#cfcfe5 787px,#ddddeb 859px)"></i><i style="background:linear-gradient(90deg,#dfdfec 1px,#dadaea 109px,#eaeaf1 129px,#f6f6f6 137px,#f7e7c8 155px,#f8e6c3 165px,#f7ebd3 175px,#f5f3ef 185px,#e9e9f0 191px,#bdbad9 205px,#7d6ea8 223px,#705e9e 231px,#7260a0 239px,#8173ab 247px,#b3afd2 263px,#c1bfdc 273px,#bdbbd9 281px,#a8a2ca 291px,#7e6fa9 305px,#7362a0 315px,#7969a5 327px,#8e82b5 337px,#aea9cf 349px,#bfbcda 361px,#bdbad9 407px,#b5b1d3 435px,#a099c4 465px,#aaa4cb 483px,#c6c5df 515px,#c8c7e1 537px,#b9b5d6 555px,#8375ad 587px,#7b6ba6 601px,#8476ad 617px,#bebbda 653px,#cccce3 673px,#cfcfe5 791px,#ddddeb 859px)"></i><i style="background:linear-gradient(90deg,#dfdfec 1px,#dadaea 107px,#ebebf1 131px,#f5f5f3 141px,#f7f0e3 155px,#f6f2e9 167px,#efeff3 179px,#c9c8e1 199px,#8e82b6 223px,#887cb1 231px,#9489ba 241px,#bbb7d7 259px,#c2c0dc 269px,#b5b1d4 279px,#9388b9 291px,#7969a4 301px,#72609f 311px,#7a6aa6 323px,#998fbe 335px,#b2aed1 345px,#c0bddb 357px,#b5b1d3 429px,#9a91bf 465px,#a29ac5 479px,#c4c2de 511px,#cacae2 537px,#bfbdda 561px,#9186b8 601px,#8e83b6 619px,#9d95c2 635px,#c5c3de 665px,#cdcde4 689px,#cccce4 783px,#ddddeb 859px)"></i><i style="background:linear-gradient(90deg,#dfdfec 1px,#dadaea 107px,#f0f0f3 153px,#e2e2ed 177px,#c6c5df 199px,#a59ec8 221px,#a49dc7 231px,#c2c0dc 257px,#bfbdda 267px,#aba5cc 277px,#7b6ca7 293px,#715f9f 303px,#7665a2 315px,#8b7fb4 325px,#aea9cf 337px,#c0bddb 349px,#bebbda 371px,#b3aed2 433px,#9d95c2 463px,#a49cc7 477px,#c6c5df 511px,#cbcbe3 539px,#c0bedb 571px,#9c93c0 617px,#9d94c2 633px,#c8c7e0 675px,#cdcde4 707px,#cccce3 783px,#dcdceb 859px)"></i><i style="background:linear-gradient(90deg,#dfdfec 1px,#dbdbea 109px,#e3e3ee 153px,#cecee4 193px,#b6b2d4 219px,#bbb7d7 235px,#c5c4df 253px,#bcbad8 263px,#9e96c3 275px,#7b6ca6 287px,#715f9f 297px,#7565a2 309px,#8b7fb3 319px,#afa9cf 331px,#c1bfdb 343px,#c1bfdc 361px,#b8b5d6 405px,#b3afd2 437px,#a7a0c9 465px,#b5b1d3 485px,#cacae2 511px,#cbcbe3 545px,#bbb8d8 589px,#a39cc6 629px,#a9a3cb 647px,#c9c8e1 681px,#cccbe3 717px,#cccce3 785px,#dcdceb 859px)"></i><i style="background:linear-gradient(90deg,#dfdfec 1px,#dbdbea 111px,#dcdcea 159px,#cac9e2 201px,#c3c1dd 223px,#c7c6e0 247px,#b9b6d6 259px,#988ebe 271px,#7c6ca7 281px,#715f9f 291px,#7665a2 303px,#8c80b4 313px,#b0aacf 325px,#c2c1dd 337px,#c4c2de 355px,#bab6d7 403px,#b6b2d4 443px,#b3aed2 467px,#cfcfe5 509px,#cacae2 549px,#b7b4d5 605px,#a7a0c9 637px,#b0abd0 657px,#c9c9e1 687px,#cacae2 733px,#cdcde4 793px,#dcdceb 859px)"></i><i style="background:linear-gradient(90deg,#dfdfec 1px,#dbdbea 109px,#d9d9e9 167px,#cbcae2 225px,#c8c7e0 243px,#b5b1d3 255px,#7d6ea8 275px,#72619f 285px,#7868a4 297px,#8e83b6 307px,#b1acd0 319px,#c4c2de 331px,#c7c5df 349px,#bcb9d8 403px,#bebcda 469px,#d2d2e6 507px,#cbcbe3 547px,#b6b2d4 613px,#a7a1ca 641px,#b2add1 661px,#c9c8e1 689px,#cacae2 731px,#cdcde4 789px,#dcdceb 859px)"></i><i style="background:linear-gradient(90deg,#dfdfec 1px,#dcdceb 103px,#dbdbea 163px,#c9c8e1 237px,#b6b2d4 249px,#8071aa 269px,#7464a1 279px,#7868a4 289px,#8c80b4 299px,#b3afd2 313px,#c6c4df 325px,#c9c8e1 345px,#bfbdda 407px,#c7c6e0 473px,#d4d4e7 511px,#b7b4d5 611px,#a59ec8 643px,#aea9ce 661px,#c8c7e1 691px,#cacae2 731px,#cdcde4 787px,#dcdceb 859px)"></i><i style="background:linear-gradient(90deg,#dfdfec 1px,#ddddeb 97px,#dfdfec 157px,#cccbe3 229px,#bcb9d8 241px,#988ebd 255px,#8071aa 265px,#7767a4 275px,#7f70aa 285px,#9c93c1 297px,#bdbad9 311px,#cacae2 325px,#c3c1dd 425px,#cccce3 479px,#d4d4e7 517px,#b3aed2 619px,#a098c4 647px,#aba5cc 663px,#c7c6e0 691px,#cbcbe3 723px,#cccce3 781px,#dcdceb 859px)"></i><i style="background:linear-gradient(90deg,#dfdfec 1px,#ddddeb 93px,#e3e3ee 151px,#cdcde4 223px,#b9b6d6 237px,#8476ae 259px,#7c6da7 269px,#8577ae 279px,#bcb9d8 303px,#cacae2 317px,#c7c6e0 379px,#c5c3de 451px,#d3d3e6 513px,#b2add1 621px,#9a91bf 649px,#a098c4 661px,#c5c4de 691px,#cccbe3 717px,#cdcde4 779px,#d7d7e9 821px,#dcdceb 859px)"></i><i style="background:linear-gradient(90deg,#dfdfec 1px,#ddddeb 89px,#e6e6ef 147px,#cdcde4 219px,#b7b4d5 233px,#897db2 253px,#8274ac 263px,#8b7fb3 273px,#bfbcda 297px,#cbcbe3 311px,#c6c5df 401px,#c0bedb 445px,#d0d0e5 505px,#c5c4de 553px,#b1acd0 623px,#9389ba 653px,#998fbe 663px,#c2c0dc 691px,#cccbe3 713px,#cecee4 779px,#dadaea 815px,#ddddeb 859px)"></i><i style="background:linear-gradient(90deg,#dfdfec 1px,#dedeeb 87px,#eaeaf1 141px,#cecee5 213px,#bab7d7 227px,#9084b7 247px,#897cb1 257px,#9287b9 267px,#c2c0dc 291px,#cdcde4 307px,#c6c5df 401px,#b9b5d6 441px,#cdcde4 499px,#c3c1dd 553px,#b2add1 623px,#9f96c3 641px,#8e82b5 655px,#9186b8 665px,#c0bedb 693px,#cbcbe3 711px,#d0d0e5 779px,#dfdfec 811px,#dcdcea 851px,#ddddeb 859px)"></i><i style="background:linear-gradient(90deg,#dfdfec 1px,#dedeeb 87px,#f0f0f3 135px,#cecee5 209px,#b5b1d3 225px,#948aba 243px,#9186b8 253px,#a19ac5 265px,#c4c3de 285px,#cecee5 301px,#c7c6e0 395px,#afaacf 437px,#b7b3d4 459px,#c9c9e1 491px,#c6c4df 531px,#b3aed2 625px,#a29ac6 641px,#8a7db2 657px,#8a7eb3 667px,#a098c4 679px,#c0bedb 697px,#cccbe3 715px,#d1d1e6 777px,#e4e4ee 807px,#dcdcea 847px,#ddddeb 859px)"></i><i style="background:linear-gradient(90deg,#dfdfec 1px,#ddddeb 85px,#ebebf1 109px,#f5f4f2 123px,#f1f1f4 141px,#ddddeb 171px,#cecde4 205px,#9a91bf 239px,#9b92c0 249px,#c9c8e1 281px,#d0d0e6 303px,#c7c6e0 391px,#b1acd0 417px,#a199c5 437px,#a6a0c9 453px,#c4c3de 487px,#c6c4df 513px,#b8b5d6 603px,#b1acd1 631px,#a098c4 645px,#8679b0 661px,#887bb1 671px,#a098c4 683px,#bebbda 699px,#cccbe3 717px,#d3d3e7 777px,#eaeaf1 805px,#dcdceb 843px,#dedeeb 859px)"></i><i style="background:linear-gradient(90deg,#dfdfec 1px,#ddddeb 81px,#eaeaf1 101px,#f6f4f2 111px,#f7efe1 123px,#f6f2ea 133px,#f5f5f6 139px,#dfdfec 159px,#cccce3 201px,#a49dc7 231px,#a39cc7 243px,#cccbe3 275px,#d3d3e6 303px,#c6c4df 391px,#b0abcf 411px,#9186b8 433px,#9186b8 447px,#bfbcda 485px,#c3c1dd 505px,#b9b5d6 549px,#b6b2d4 627px,#a7a0c9 645px,#877ab0 663px,#8679af 673px,#9c93c0 685px,#bcb9d8 701px,#cbcbe3 717px,#d5d5e8 777px,#f2f2f4 805px,#e7e7ef 823px,#ddddeb 845px,#dedeec 859px)"></i><i style="background:linear-gradient(90deg,#dedeec 1px,#dbdbea 73px,#e6e6ef 93px,#f5f4f4 103px,#f7ebd4 117px,#f7ecd6 125px,#f5f5f5 137px,#dcdcea 155px,#cbcae2 197px,#aba5cc 225px,#aca6cd 239px,#cecde4 269px,#d5d5e8 305px,#c4c3de 389px,#b2add1 405px,#8577ae 429px,#7e6fa9 443px,#8b7fb3 457px,#b2aed1 479px,#bfbdda 495px,#b6b2d4 521px,#b0abd0 545px,#b9b6d6 593px,#b3afd2 637px,#a098c4 653px,#897cb1 667px,#897cb1 677px,#9e96c3 689px,#bfbddb 707px,#cecee4 725px,#d8d8e9 777px,#f5f4f5 799px,#f6f5f3 811px,#ebebf1 823px,#dedeec 841px,#dfdfec 859px)"></i><i style="background:linear-gradient(90deg,#dedeeb 1px,#d9d9e9 59px,#e1e1ed 85px,#f5f5f4 99px,#f7ead2 111px,#f7e9ce 119px,#f7efe1 127px,#f4f3f3 133px,#d9d9e9 149px,#cecee4 179px,#c1bfdb 201px,#b0aacf 223px,#b7b4d5 239px,#d0d0e5 265px,#d9d9e9 309px,#c6c5df 367px,#c2c0dc 389px,#afaacf 403px,#7d6ea8 425px,#7261a0 437px,#7665a2 451px,#8d81b5 465px,#aca6cd 479px,#bab6d6 493px,#b4afd2 511px,#a49dc7 537px,#b9b5d6 587px,#b4b0d3 641px,#a39bc6 657px,#8e82b5 671px,#8f84b6 681px,#c6c4df 715px,#d3d3e7 737px,#d9d9e9 775px,#f6f5f4 795px,#f7f0e5 805px,#f6f4ee 815px,#f2f2f4 821px,#e0e0ec 839px,#e0e0ec 859px)"></i><i style="background:linear-gradient(90deg,#ddddeb 1px,#d6d6e8 47px,#dfdfec 81px,#f6f6f5 97px,#f7edda 107px,#f7ecd7 115px,#f3f2f2 127px,#d3d3e6 145px,#c9c8e1 171px,#bebbd9 199px,#b5b1d3 219px,#c1bfdc 239px,#d3d3e7 263px,#dfdfec 307px,#cecee4 339px,#c3c1dd 363px,#c1bfdc 387px,#aea9ce 401px,#7766a3 423px,#6d599c 435px,#705d9e 453px,#7e6fa9 463px,#a9a3cb 481px,#b5b1d3 493px,#afaacf 507px,#948abb 531px,#968cbc 545px,#b4b0d3 577px,#b8b4d5 605px,#b3aed2 649px,#968cbc 675px,#9a91bf 687px,#cccce3 723px,#d9d9e9 749px,#dcdcea 775px,#f5f5f5 791px,#f7eddb 803px,#f7eedd 811px,#f6f5f4 821px,#e2e2ed 839px,#e1e1ed 859px)"></i><i style="background:linear-gradient(90deg,#dbdbea 1px,#d3d3e6 41px,#ddddeb 79px,#f6f5f3 99px,#f6f2ea 107px,#f1f1f3 119px,#cdcde4 139px,#c2c1dd 161px,#b9b6d6 217px,#d3d3e7 259px,#e5e5ee 305px,#d8d8e9 329px,#bfbdda 357px,#bfbdda 387px,#afaacf 399px,#8e83b6 411px,#71609f 423px,#6b569a 437px,#6e5a9c 455px,#7c6da7 465px,#a69fc9 481px,#b1acd1 493px,#a7a0c9 507px,#8376ad 529px,#8173ab 541px,#968cbc 557px,#aea8ce 573px,#b8b4d5 593px,#b5b1d3 635px,#b4b0d3 655px,#a29bc6 681px,#aba4cc 699px,#d2d2e6 729px,#ddddeb 751px,#dedeec 775px,#f5f5f5 789px,#f7ebd4 801px,#f7ead1 809px,#f6f2e8 819px,#f6f6f5 823px,#e3e3ee 839px,#e1e1ed 859px)"></i><i style="background:linear-gradient(90deg,#dadaea 1px,#cecee4 37px,#dcdceb 79px,#efeff3 103px,#e1e1ed 117px,#c5c3de 137px,#bbb7d7 165px,#bbb8d8 213px,#d4d4e7 257px,#ebebf1 303px,#e1e1ed 323px,#bbb8d8 355px,#bcb8d8 371px,#bebbd9 387px,#aea8ce 399px,#9287b9 409px,#72609f 421px,#6b559a 433px,#6c589b 455px,#7a6ba6 465px,#a69fc9 481px,#b0abd0 491px,#a7a0c9 503px,#7564a2 527px,#705d9e 537px,#7b6ba6 549px,#aba4cc 573px,#b7b3d5 589px,#b0abd0 631px,#b8b4d5 659px,#ada8ce 697px,#b9b6d6 711px,#d9d9e9 735px,#e1e1ed 753px,#e1e1ed 775px,#f6f5f3 789px,#f7e9ce 801px,#f7e8cb 809px,#f7f0e3 819px,#f6f6f6 825px,#e4e4ee 839px,#e2e2ed 859px)"></i><i style="background:linear-gradient(90deg,#d8d8e9 1px,#c8c8e1 33px,#d8d8e9 75px,#e3e3ee 99px,#d2d2e6 117px,#bcb9d8 141px,#b4b0d3 175px,#bebbd9 213px,#e8e8f0 285px,#f0f0f3 307px,#e1e1ed 325px,#b8b5d6 353px,#b6b2d4 367px,#bdbad9 387px,#aea9cf 399px,#9388b9 409px,#72619f 421px,#6b559a 433px,#6d599c 455px,#7868a4 463px,#a7a1ca 479px,#b2aed1 489px,#aba5cc 499px,#8f83b6 511px,#6e5a9c 525px,#674f97 535px,#6b579b 545px,#7d6ea8 555px,#a8a2ca 573px,#b6b2d4 587px,#b3afd2 605px,#aaa4cc 627px,#bebcda 665px,#bbb8d8 689px,#b5b1d3 705px,#c8c7e0 721px,#e5e5ee 743px,#e4e4ee 761px,#e5e5ef 777px,#f5f5f6 787px,#f7e8ca 801px,#f7e7c6 807px,#f7ebd4 815px,#f6f5f4 825px,#e4e4ee 841px,#e3e3ee 859px)"></i><i style="background:linear-gradient(90deg,#d5d5e8 1px,#c2c0dd 31px,#c9c8e1 55px,#dbdbea 93px,#cecee4 113px,#b7b3d4 145px,#b1add1 177px,#bfbdda 213px,#e4e4ee 277px,#f4f4f5 303px,#e9e9f0 321px,#bdbad8 347px,#b1acd0 359px,#b8b5d6 375px,#bdbad9 389px,#ada7cd 401px,#7565a2 421px,#6c589b 431px,#6f5c9d 453px,#7b6ba6 461px,#ada8ce 477px,#bab6d7 485px,#b8b4d5 493px,#a59ec8 503px,#705e9e 521px,#644b95 531px,#644b95 541px,#7463a1 553px,#a8a2ca 573px,#b7b3d4 587px,#b3aed1 603px,#a49dc7 625px,#ada7cd 641px,#cbcae2 673px,#cccce3 687px,#bbb8d8 705px,#c3c2dd 717px,#ebebf1 743px,#ececf2 757px,#e6e6ef 775px,#f6f6f5 787px,#f7e8c9 801px,#f7e7c7 809px,#f7efdf 819px,#f6f5f3 825px,#e5e5ee 843px,#e4e4ee 859px)"></i><i style="background:linear-gradient(90deg,#d3d3e7 1px,#bcb9d8 29px,#c0bddb 49px,#d5d5e8 83px,#d0d0e5 105px,#b5b0d3 151px,#b2add1 181px,#e2e2ed 273px,#f5f5f6 301px,#ededf2 319px,#cacae2 339px,#b1add1 355px,#b1acd0 367px,#bfbdda 387px,#b8b4d5 397px,#9e96c3 409px,#7969a5 423px,#705d9e 433px,#7666a2 453px,#877ab0 461px,#b9b5d6 475px,#c8c7e1 483px,#c7c6e0 491px,#b1acd1 501px,#72609f 521px,#654d96 531px,#654d96 541px,#7665a2 553px,#a6a0c9 571px,#b7b4d5 585px,#b5b1d3 599px,#9e95c2 625px,#a49dc7 637px,#d8d8e9 675px,#dcdceb 687px,#c2c0dc 707px,#c6c5df 717px,#f2f2f4 743px,#f3f3f5 757px,#e9e9f0 775px,#f6f6f5 787px,#f7e8cc 801px,#f7e8c9 809px,#f7efe0 819px,#f4f4f5 827px,#e6e6ef 843px,#e5e5ee 859px)"></i><i style="background:linear-gradient(90deg,#d0d0e6 1px,#b5b1d3 29px,#b6b2d4 45px,#d2d2e6 81px,#cfcfe5 105px,#b4b0d3 167px,#b9b6d6 195px,#e6e6ef 277px,#f5f5f6 303px,#eaeaf1 321px,#c3c2dd 343px,#b1acd0 357px,#b3afd2 369px,#c2c0dc 387px,#bab7d7 399px,#9d95c2 413px,#8173ab 425px,#7b6ca6 433px,#897db2 455px,#a29ac5 463px,#cecee4 475px,#dedeeb 483px,#dadaea 491px,#c5c3de 499px,#8071aa 519px,#6e5a9c 529px,#6b569a 539px,#7665a2 549px,#aba5cc 571px,#bab7d7 585px,#b5b1d3 599px,#9b91c0 623px,#9e96c3 635px,#d8d8e9 669px,#ebebf1 683px,#e3e3ee 693px,#cbcae2 707px,#cbcbe3 717px,#f4f4f5 739px,#f6f2e9 751px,#f4f4f5 763px,#ececf1 777px,#f6f6f5 787px,#f7ead0 801px,#f7e9ce 809px,#f6f2e9 821px,#f6f5f4 825px,#e6e6ef 843px,#e6e6ef 859px)"></i><i style="background:linear-gradient(90deg,#cfcfe5 1px,#afaacf 27px,#aea9ce 43px,#d1d1e6 81px,#d1d1e6 105px,#bab6d6 177px,#e4e4ee 277px,#f2f2f4 305px,#e7e7ef 323px,#b6b2d4 355px,#b5b1d3 367px,#c6c5df 389px,#bfbcda 401px,#8f84b7 427px,#9287b9 435px,#9c94c1 447px,#a098c4 455px,#b7b3d4 463px,#e0e0ed 473px,#f1f0f2 479px,#f2f1f1 489px,#e5e5ef 495px,#b7b3d5 507px,#8a7db2 521px,#7a6ba6 531px,#7a6ba6 541px,#8d81b4 553px,#b1acd1 571px,#bebbd9 585px,#b7b4d5 599px,#9a91c0 623px,#9c93c1 633px,#c0bddb 655px,#f4f3f4 679px,#f5f4f2 689px,#e8e8f0 697px,#d1d1e6 709px,#d3d3e7 719px,#f3f3f5 735px,#f7eedb 747px,#f7eede 755px,#f5f5f5 767px,#eeeef2 779px,#f5f5f6 787px,#f7ebd5 803px,#f7ecd7 811px,#f6f6f6 825px,#e7e7f0 843px,#e7e7ef 859px)"></i><i style="background:linear-gradient(90deg,#cdcde4 1px,#aaa3cb 27px,#a69fc9 41px,#bbb7d7 61px,#d1d1e6 81px,#d5d5e7 105px,#cacae2 155px,#c2c0dc 181px,#e5e5ef 283px,#efeff3 307px,#e1e1ed 327px,#bcb8d8 355px,#bbb8d8 367px,#cdcde4 389px,#c5c4df 403px,#a59ec8 425px,#a9a3cb 433px,#b6b2d4 445px,#b6b3d4 455px,#c4c3de 461px,#f1f0f3 471px,#f7eedd 477px,#f7e9cf 483px,#f7ebd5 489px,#f6f3ed 495px,#ececf2 499px,#b1acd1 513px,#968cbc 525px,#8e82b5 537px,#988ebd 549px,#bdbad9 575px,#c2c0dc 589px,#b1acd0 607px,#9e96c2 625px,#a59ec8 637px,#c7c6e0 657px,#f5f4f4 675px,#f7efdf 683px,#f7efe0 689px,#f3f3f5 697px,#d9d9e9 709px,#d9d9e9 719px,#f5f5f4 733px,#f7ebd3 743px,#f7e8cb 751px,#f7edd9 759px,#f6f5f4 769px,#f0f0f3 781px,#f6f6f5 789px,#f7eedd 803px,#f7efe1 813px,#f4f4f5 825px,#e8e8f0 845px,#e8e8f0 859px)"></i><i style="background:linear-gradient(90deg,#cdcce4 1px,#a39cc7 29px,#a098c4 41px,#b7b3d4 61px,#d0d0e5 81px,#d9d9e9 105px,#d9d9e9 151px,#cbcae2 181px,#e0e0ec 283px,#eaeaf1 309px,#ddddeb 331px,#c3c1dd 357px,#c8c7e0 371px,#d8d8e9 391px,#d0d0e5 405px,#b7b3d4 425px,#bebbd9 433px,#cbcae2 443px,#cac9e2 455px,#d8d8e9 461px,#f3f2f2 467px,#f8e6c2 475px,#f7ddaf 481px,#f7ddaf 487px,#f8e5c2 493px,#f4f3f1 501px,#e3e3ee 505px,#bbb8d7 515px,#aaa3cb 525px,#a49dc7 539px,#b9b6d6 563px,#c7c6e0 581px,#c2c0dc 597px,#a7a0c9 623px,#aca6cd 637px,#cccce3 657px,#f2f2f4 671px,#f6f5f2 673px,#f7ebd2 681px,#f7e9cc 687px,#f7edda 693px,#f6f5f3 699px,#ddddeb 711px,#e1e1ed 721px,#f6f5f4 731px,#f8e6c3 743px,#f8e3bb 749px,#f7e7c6 757px,#f6f5f3 771px,#f1f1f4 783px,#f6f5f2 793px,#f7f0e4 805px,#f6f3ee 817px,#f5f5f5 823px,#e8e8f0 845px,#e9e9f0 859px)"></i><i style="background:linear-gradient(90deg,#cdcde4 1px,#9e95c2 31px,#9c93c1 43px,#c1bedb 69px,#d6d6e8 87px,#e8e8f0 147px,#d3d3e7 183px,#d9d9e9 255px,#d8d8e9 281px,#e7e7f0 311px,#dbdbea 337px,#cdcde4 359px,#dadaea 375px,#ececf2 393px,#e4e4ee 405px,#c8c8e1 423px,#cbcbe3 431px,#d9d9e9 443px,#d8d8e9 455px,#e8e8f0 461px,#f1f1f4 463px,#f6f3ec 465px,#f8e4bc 471px,#f4d29d 477px,#f2cb91 483px,#f3cf97 489px,#f7deb0 495px,#f6f2e9 503px,#f3f3f3 505px,#cac9e2 515px,#b9b6d6 525px,#b7b3d4 543px,#cdcde4 581px,#c6c4df 599px,#b1acd0 623px,#b5b1d3 637px,#d2d2e6 657px,#f2f2f4 669px,#f6f5f1 671px,#f7e8ca 679px,#f8e4bd 685px,#f7e6c5 691px,#f6f5f3 701px,#e2e2ed 711px,#e5e5ee 721px,#f6f5f4 729px,#f8e4bc 741px,#f7dcad 747px,#f7deaf 753px,#f7eacf 763px,#f6f5f3 773px,#f2f2f4 787px,#f6f5f2 797px,#f6f3ec 809px,#f4f4f5 821px,#e9e9f0 845px,#eaeaf1 859px)"></i><i style="background:linear-gradient(90deg,#cecee5 1px,#9d94c2 31px,#9a91bf 43px,#b5b1d3 63px,#d3d3e7 83px,#e3e3ee 111px,#f4f3f3 143px,#eeeef3 157px,#dadaea 181px,#dbdbea 249px,#cecee4 277px,#e6e6ef 311px,#ddddeb 343px,#dbdbea 361px,#f1f0f2 377px,#f7f0e3 385px,#f7ebd4 393px,#f7edda 401px,#f1f0f1 411px,#e5e5ee 417px,#d6d6e8 427px,#dfdfec 447px,#e0e0ec 455px,#f2f2f4 461px,#f6f2eb 463px,#f5d8a6 471px,#f0c589 477px,#eebf7f 483px,#efc284 489px,#f3d09a 495px,#f7ebd2 503px,#f5f4f2 507px,#e5e5ef 511px,#cecee4 519px,#c4c3de 533px,#cdcce3 561px,#d3d3e6 587px,#bbb8d8 625px,#c3c1dd 641px,#dcdceb 659px,#f6f5f3 669px,#f8e4be 679px,#f7deb0 685px,#f8e3ba 691px,#f5f5f6 703px,#e4e4ee 711px,#e4e4ee 719px,#f4f4f5 727px,#f7f0e5 731px,#f6daa9 743px,#f4d39d 749px,#f5d8a6 755px,#f6f4ee 773px,#f5f5f5 777px,#f2f2f4 791px,#f5f5f6 815px,#eaeaf1 845px,#ebebf1 859px)"></i><i style="background:linear-gradient(90deg,#d0d0e6 1px,#a097c4 31px,#9b93c0 43px,#b2add1 61px,#d4d4e7 83px,#f5f4f4 129px,#f7f0e4 145px,#f6f3ed 155px,#f1f1f4 163px,#dfdfec 183px,#ddddeb 245px,#c4c3de 275px,#cfcfe5 289px,#e5e5ef 309px,#e7e7f0 347px,#eeeef2 363px,#f6f3ed 371px,#f5d9a7 387px,#f3ce97 393px,#f3d099 399px,#f6dcae 405px,#f6f3ee 417px,#eeeef2 421px,#e0e0ec 429px,#e4e4ee 455px,#f6f5f1 461px,#f8e2b7 467px,#f2ce96 471px,#eebd7c 477px,#ecb874 485px,#eebd7c 491px,#f2cd95 497px,#f8e5c1 503px,#f6f4f1 509px,#e8e8f0 513px,#d6d6e8 521px,#d0d0e5 541px,#d8d8e9 587px,#c6c5df 627px,#d3d3e7 649px,#ebebf1 663px,#f6f5f4 667px,#f8e1b4 679px,#f5d7a5 685px,#f6dbaa 689px,#f7e7c5 695px,#f6f6f5 703px,#e4e4ee 711px,#e4e4ee 719px,#f5f5f6 727px,#f6d9a8 741px,#f2cd94 747px,#f3ce97 753px,#f8e2b6 761px,#f6f3eb 773px,#f6f6f6 777px,#f0f0f3 791px,#f1f1f4 817px,#ebebf1 853px,#ebebf1 859px)"></i><i style="background:linear-gradient(90deg,#d4d4e7 1px,#a59ec8 31px,#a098c4 43px,#b4b0d3 61px,#d6d6e8 83px,#f5f5f4 123px,#f7ebd4 141px,#f7ecd6 151px,#f5f5f4 165px,#e2e2ed 183px,#dfdfec 243px,#cac9e2 261px,#bbb8d8 273px,#c0bddb 283px,#e3e3ee 305px,#f3f3f4 335px,#f6f3ec 359px,#f7ebd4 369px,#f7ddaf 377px,#edba77 387px,#e7ad65 393px,#e8ae66 399px,#eebe7d 405px,#f8e5c2 415px,#f6f2ea 421px,#f5f4f3 423px,#e4e4ee 431px,#e3e3ee 453px,#f2f2f4 459px,#f6f2eb 461px,#f7ddad 467px,#f1c88d 471px,#ecb975 477px,#ebb670 487px,#edbc7b 493px,#f3cf97 499px,#f7e6c5 505px,#f6f5f2 511px,#dedeec 521px,#dadaea 545px,#dcdceb 593px,#d1d1e6 631px,#e1e1ed 655px,#f5f5f5 665px,#f7ecd8 671px,#f6dcac 679px,#f4d49f 683px,#f4d49f 687px,#f8e2b8 693px,#f6f3ec 701px,#f4f4f5 703px,#e0e0ec 711px,#e0e0ec 719px,#f3f3f4 727px,#f6f4f0 729px,#f7deaf 739px,#f2cb92 745px,#f1c88d 751px,#f4d29d 757px,#f7e6c5 765px,#f6f4f0 775px,#f6f6f6 777px,#eeeef2 791px,#ebebf1 831px,#ececf2 859px)"></i><i style="background:linear-gradient(90deg,#d7d7e8 1px,#aba5cc 33px,#a9a3cb 47px,#c1bfdc 67px,#dedeec 89px,#f6f5f4 119px,#f8e6c4 141px,#f8e6c4 149px,#f7edd9 159px,#f5f5f5 169px,#e4e4ee 185px,#e2e2ed 241px,#cecee4 257px,#b6b2d4 271px,#b5b1d3 279px,#cacae2 291px,#e9e9f0 307px,#f5f4f3 323px,#f7e7c8 361px,#f7ddae 371px,#e7ad64 387px,#e0a053 393px,#e0a154 399px,#e9b068 405px,#f4d39f 413px,#f7e8cb 419px,#f6f5f3 425px,#e6e6ef 433px,#e5e5ee 453px,#f5f5f5 459px,#f7ead1 463px,#f2cd95 469px,#eebe7e 473px,#ebb570 479px,#ecb773 491px,#f0c487 497px,#f8e4be 505px,#f6f5f4 513px,#e4e4ee 523px,#e1e1ed 599px,#dbdbea 635px,#e8e8f0 657px,#f3f3f5 663px,#f6f5f2 665px,#f6d9a7 679px,#f3d19b 683px,#f4d29d 687px,#f7ddad 691px,#f6f5f4 701px,#dcdceb 709px,#d7d7e8 717px,#e6e6ef 725px,#f4f4f5 729px,#f7eedc 733px,#f5d7a4 741px,#f1c78c 747px,#f1c88e 753px,#f5d7a5 759px,#f7e9cf 767px,#f6f4f1 775px,#f6f6f6 777px,#ebebf1 791px,#ececf2 859px)"></i><i style="background:linear-gradient(90deg,#dbdbea 1px,#b4b0d3 33px,#b2add1 47px,#c6c5df 67px,#e4e4ee 93px,#f6f5f5 115px,#f7e9cd 131px,#f8e2b7 141px,#f8e2b6 149px,#f7e9ce 159px,#f5f5f5 171px,#e4e4ee 187px,#e5e5ef 239px,#d6d6e8 253px,#b4afd2 271px,#b3afd2 279px,#cbcbe3 291px,#eeeef3 307px,#f5f5f4 313px,#f6d8a7 359px,#f0c588 375px,#e4a85e 391px,#e3a65b 397px,#e8af67 403px,#efc283 409px,#f8e2b6 417px,#f6f5f4 427px,#e6e6ef 437px,#e7e7f0 453px,#f1f1f4 457px,#f6f4f1 459px,#f8e2b7 465px,#f2cc93 469px,#eebe7d 473px,#ebb670 479px,#ecb874 491px,#f0c487 497px,#f8e3ba 505px,#f6f3ee 513px,#f5f5f5 515px,#eaeaf1 525px,#e9e9f0 599px,#e4e4ee 641px,#efeff3 659px,#f6f6f5 663px,#f8e6c4 673px,#f4d39e 681px,#f3d19b 685px,#f6d9a7 689px,#f7ead1 695px,#f6f5f2 699px,#d7d7e8 707px,#cbcbe3 715px,#d6d6e8 723px,#f4f4f4 731px,#f6daaa 741px,#f2cd95 745px,#f1c88d 749px,#f2ce96 755px,#f7e7c7 765px,#f6f5f3 775px,#e8e8f0 791px,#eaeaf1 849px,#ececf2 859px)"></i><i style="background:linear-gradient(90deg,#dedeeb 1px,#bdbbd9 35px,#bebcda 53px,#eaeaf1 97px,#f6f5f4 113px,#f7e8cb 129px,#f7dcad 141px,#f7dcac 149px,#f7e7c6 159px,#f6f5f2 171px,#f1f1f4 175px,#e3e3ee 191px,#e7e7f0 239px,#d8d8e9 253px,#b7b3d5 271px,#b7b4d5 279px,#d0d0e5 291px,#f5f4f4 307px,#f7dcac 337px,#eec080 357px,#ebb46f 377px,#e9b16a 395px,#edba77 403px,#f4d4a0 413px,#f8e4bf 419px,#f6f5f1 429px,#f0f0f3 433px,#e8e8f0 445px,#ececf1 453px,#f5f5f5 457px,#f7edd9 461px,#f8e1b5 465px,#f0c589 471px,#ecb976 477px,#ecb773 487px,#eebd7c 493px,#f2cd95 499px,#f7e7c8 507px,#f6f1e7 513px,#f6f5f4 517px,#f3f3f5 537px,#f1f1f4 603px,#ececf1 647px,#f6f5f5 661px,#f7ecd6 669px,#f5d8a6 679px,#f4d39e 683px,#f5d7a5 687px,#f8e4bc 691px,#f6f5f1 697px,#e2e2ed 701px,#cacae2 707px,#c0bedb 713px,#c2c0dc 719px,#d7d7e9 727px,#f4f4f4 733px,#f8e0b4 741px,#f4d39e 745px,#f2cd94 749px,#f4d29d 755px,#f7e9cd 765px,#f6f5f2 773px,#f0f0f4 777px,#e3e3ee 793px,#e5e5ee 837px,#ececf2 859px)"></i><i style="background:linear-gradient(90deg,#e0e0ec 1px,#c7c6e0 35px,#c8c7e0 55px,#f6f5f5 109px,#f7ecd8 123px,#f6daaa 139px,#f5d6a4 147px,#f8e0b3 155px,#f6f5f4 173px,#e3e3ee 191px,#e8e8f0 219px,#e8e8f0 243px,#d3d3e7 259px,#c0bddb 273px,#c4c2de 281px,#f5f4f4 303px,#f7ddaf 327px,#e9b069 349px,#e0a053 363px,#e1a256 377px,#ecb773 399px,#f4d4a0 413px,#f7e7c7 423px,#f6f4f0 433px,#f0f0f3 441px,#f3f3f4 453px,#f5f5f4 455px,#f7efe1 459px,#f8e1b4 465px,#f1c98e 471px,#eebd7c 477px,#edba77 485px,#efc284 493px,#f6d9a7 501px,#f7ead2 509px,#f6f1e7 515px,#f6f4ef 523px,#f7f0e2 569px,#f3f3f5 627px,#f4f4f5 655px,#f6f4ef 661px,#f7ebd3 669px,#f6d9a8 679px,#f5d6a3 683px,#f7ddae 687px,#f7e7c8 691px,#f6f4ee 695px,#eeeef3 697px,#c5c3de 705px,#b7b3d5 711px,#b7b3d5 719px,#c4c3de 725px,#f5f4f3 735px,#f8e5c1 741px,#f6daaa 745px,#f4d4a0 749px,#f6daa9 755px,#f6f5f2 771px,#ebebf1 777px,#ddddeb 793px,#ddddeb 827px,#ebebf1 859px)"></i><i style="background:linear-gradient(90deg,#e0e0ec 1px,#cdcde4 33px,#d0d0e5 59px,#f6f6f5 107px,#f7edda 121px,#f6d9a7 139px,#f5d5a1 147px,#f7dfb0 155px,#f5f5f6 175px,#e2e2ed 191px,#e4e4ee 211px,#ededf2 239px,#dfdfec 257px,#cecee4 273px,#d5d5e7 283px,#f5f4f4 299px,#f7dfb0 321px,#e2a459 345px,#d58c39 359px,#d28936 371px,#da9545 383px,#ecb976 403px,#f8e4bc 425px,#f7f0e3 437px,#f6f4f0 447px,#f6f3ec 453px,#f7ecd8 459px,#f6dbaa 467px,#f1c98f 473px,#eec080 481px,#efc385 489px,#f4d29d 497px,#f8e5c1 505px,#f7eddb 513px,#f7efe1 523px,#f7e9cd 563px,#f7ecd6 593px,#f6f5f3 637px,#f6f4f0 655px,#f7eede 665px,#f7dcac 679px,#f6daaa 683px,#f8e2b7 687px,#f7ebd4 691px,#f6f2e8 693px,#f2f2f4 695px,#c2c0dc 703px,#b1acd0 709px,#ada8ce 717px,#b5b1d3 723px,#cbcae2 729px,#ededf2 735px,#f6f4f1 737px,#f8e5c1 743px,#f7dfb1 747px,#f7ddae 751px,#f8e4be 757px,#f6f5f4 769px,#dbdbea 785px,#d2d2e6 811px,#e3e3ee 847px,#eaeaf1 859px)"></i><i style="background:linear-gradient(90deg,#dfdfec 1px,#cfcfe5 29px,#d4d4e7 59px,#f6f5f4 105px,#f7ecd7 121px,#f6d9a8 139px,#f5d6a3 147px,#f7dfb1 155px,#f6f6f4 175px,#e0e0ec 195px,#e2e2ed 213px,#f0f0f3 241px,#dfdfec 275px,#ededf2 289px,#f6f4f2 295px,#f8e0b2 317px,#e4a75d 339px,#d18733 353px,#c1792e 365px,#c87f30 377px,#d58c38 385px,#efc385 413px,#f8e6c4 437px,#f7edd9 449px,#f7ebd3 457px,#f7deaf 467px,#f2cc94 475px,#f0c78b 483px,#f2cd95 491px,#f8e6c4 505px,#f7ecd6 513px,#f7ebd4 525px,#f8e4bd 559px,#f8e5c2 585px,#f6f2e8 635px,#f6f1e6 655px,#f7ecd7 665px,#f7deaf 679px,#f7deb0 683px,#f8e5c0 687px,#f7efdf 691px,#f6f5f3 693px,#d0d0e5 699px,#b4b0d3 705px,#aaa3cb 711px,#aca6cd 721px,#bbb8d7 727px,#e5e5ef 735px,#f1f1f4 737px,#f6f3ec 739px,#f7eacf 743px,#f8e5bf 747px,#f8e5c0 753px,#f7eedd 761px,#f5f4f5 767px,#d9d9e9 781px,#cacae2 803px,#d0d0e5 827px,#e8e8f0 859px)"></i><i style="background:linear-gradient(90deg,#dfdfec 1px,#cecee4 27px,#d5d5e7 57px,#f6f6f5 101px,#f7edd9 119px,#f6dcac 139px,#f6d9a7 147px,#f8e3b9 157px,#f5f5f6 177px,#dedeeb 197px,#dfdfec 213px,#f3f3f5 243px,#f2f2f4 279px,#f6f3ee 289px,#f8e2b8 313px,#edb976 331px,#d58c38 349px,#c98030 355px,#bd762d 365px,#c57c2f 377px,#d48b38 387px,#ecb874 415px,#f3cf98 435px,#f8e4be 451px,#f8e5c1 459px,#f7dcac 469px,#f3cf98 479px,#f3d099 487px,#f8e2b7 499px,#f7e9ce 509px,#f7ead1 519px,#f8e1b5 559px,#f8e2b8 583px,#f7efdf 631px,#f7eddb 653px,#f7e8c9 667px,#f8dfb1 679px,#f8e1b5 683px,#f7e7c5 687px,#f4f4f5 693px,#c1bfdc 701px,#ada7cd 707px,#a7a0c9 715px,#aca7cd 723px,#bfbdda 729px,#f5f5f5 739px,#f7ead1 745px,#f7e8ca 749px,#f7ebd2 755px,#f6f5f1 763px,#eeeef3 767px,#d1d1e6 783px,#c3c1dd 805px,#cac9e2 825px,#e8e8f0 859px)"></i><i style="background:linear-gradient(90deg,#e0e0ed 1px,#cecee4 27px,#d5d5e7 53px,#f5f5f6 95px,#f7f0e3 113px,#f7dfb0 139px,#f7ddaf 149px,#f7e7c7 161px,#f6f5f4 177px,#dadaea 201px,#ddddeb 215px,#f6f5f5 241px,#f7ecd7 289px,#f8e2b7 311px,#f0c589 327px,#da9645 347px,#cf8532 357px,#c87f2f 369px,#d38a35 383px,#e2a559 411px,#e8b068 433px,#efc385 445px,#f6d8a7 457px,#f6daaa 465px,#f3d099 481px,#f5d6a3 491px,#f7e6c5 505px,#f7e9ce 515px,#f8e1b5 565px,#f8e4bd 591px,#f7edd9 629px,#f7ead0 649px,#f7dfb0 679px,#f8e4bd 685px,#f7ecd6 689px,#f3f3f5 693px,#c2c0dc 701px,#ada7ce 707px,#a7a0c9 717px,#b0aacf 725px,#c7c6e0 731px,#f2f2f4 739px,#f7f0e4 743px,#f7ecd7 747px,#f7edd8 753px,#f6f5f2 761px,#eeeef3 765px,#d0d0e5 781px,#c0bedb 801px,#c3c1dd 819px,#e8e8f0 859px)"></i><i style="background:linear-gradient(90deg,#e4e4ee 1px,#d2d2e6 29px,#dbdbea 55px,#f6f5f5 91px,#f7efe1 113px,#f8e1b5 139px,#f8e1b4 149px,#f7e9cd 163px,#f6f5f4 179px,#d7d7e8 205px,#dcdcea 219px,#f6f6f5 239px,#f7e9cc 267px,#f8e4bd 291px,#f8e0b2 311px,#f2ce96 325px,#df9e51 349px,#d68e3c 363px,#d7903d 381px,#d99342 411px,#d7913f 433px,#de9d4f 443px,#eebf80 461px,#efc385 471px,#f0c588 485px,#f6d9a7 499px,#f8e5c1 511px,#f7e7c8 527px,#f8e4bc 577px,#f7ead0 613px,#f7ebd4 631px,#f7dcac 669px,#f6dcac 679px,#f8e4bc 685px,#f7f1e5 691px,#f5f5f6 693px,#bcb9d8 703px,#aba5cc 709px,#a7a0c9 719px,#b0abd0 725px,#d1d1e6 733px,#efeff3 739px,#f6f5f4 741px,#f7efde 747px,#f7efe1 753px,#f5f5f5 761px,#cfcfe5 781px,#bfbddb 801px,#c4c2dd 819px,#e9e9f0 859px)"></i><i style="background:linear-gradient(90deg,#eaeaf1 1px,#dbdbea 33px,#e7e7f0 63px,#f6f5f4 87px,#f7efdf 113px,#f8e2b8 139px,#f8e3b9 151px,#f7edd9 169px,#f5f5f5 183px,#d4d4e7 207px,#d6d6e8 219px,#f6f5f4 239px,#f7e1b6 265px,#f5d6a3 279px,#f5d8a6 295px,#f7dcac 313px,#f3d19b 327px,#e3a65c 355px,#db9848 375px,#cd8331 407px,#b9722c 435px,#c88031 447px,#db9747 461px,#e5a85e 487px,#efc284 501px,#f7deb0 517px,#f7e6c5 533px,#f7e7c7 557px,#f7e7c6 591px,#f7ebd2 625px,#f8e5c1 639px,#f4d29d 657px,#f3cf98 669px,#f5d6a2 679px,#f8e2b7 685px,#f7efe0 691px,#f6f5f1 693px,#e1e1ed 697px,#b8b4d5 705px,#a9a3cb 711px,#a6a0c9 719px,#b1acd1 725px,#efeff3 739px,#f6f6f6 741px,#f7f0e4 747px,#f6f1e6 753px,#f6f5f4 759px,#cfcfe5 783px,#c3c2dd 803px,#cccce3 823px,#ebebf1 859px)"></i><i style="background:linear-gradient(90deg,#f0f0f3 1px,#e5e5ef 37px,#f6f5f3 81px,#f7eede 113px,#f8e3ba 139px,#f8e3bc 153px,#f7f0e4 177px,#f6f5f5 185px,#d1d1e6 209px,#d1d1e6 219px,#ececf2 235px,#f5f5f6 239px,#f6dbaa 261px,#f1c78c 273px,#efc284 283px,#f2cb92 297px,#f6daa9 315px,#f5d7a4 329px,#e3a55a 371px,#cf8431 397px,#9c5a24 433px,#9f5d25 445px,#b56f2b 467px,#c57c2f 485px,#d99342 497px,#f2cb92 519px,#f8e3ba 533px,#f7e8cb 547px,#f7e7c8 597px,#f7e9cf 623px,#f8e4bd 635px,#efc283 655px,#eebd7b 665px,#f0c589 675px,#f5d7a4 683px,#f7e7c8 689px,#f6f2e9 693px,#f3f3f5 695px,#bdbbd9 705px,#aca6cd 711px,#a7a0c9 717px,#afa9cf 723px,#d6d6e8 733px,#f5f5f6 741px,#f6f1e6 747px,#f6f2eb 755px,#f4f4f5 761px,#d3d3e7 785px,#cdcce3 805px,#eeeef3 859px)"></i><i style="background:linear-gradient(90deg,#f5f5f5 1px,#f0f0f3 47px,#f6f5f2 75px,#f7eedd 113px,#f8e2b8 141px,#f8e3bb 155px,#f7efe1 179px,#f5f5f5 189px,#cdcce4 213px,#cfcfe5 223px,#ececf2 237px,#f6f5f4 241px,#f7deaf 257px,#efc183 269px,#ebb671 279px,#ecb874 289px,#f6dbab 317px,#f7ddae 331px,#f2ce96 351px,#e4a75d 379px,#cf8532 399px,#915222 429px,#8c4f21 443px,#955523 481px,#a86428 493px,#cd8534 505px,#df9e51 513px,#f1ca90 527px,#f8e3b9 539px,#f7e8ca 551px,#f7e7c6 573px,#f8e6c3 599px,#f7e7c8 621px,#f8e3b9 631px,#f1c88e 643px,#e9b069 653px,#e4a85e 661px,#e7ac63 669px,#edbc7a 677px,#f5d6a2 685px,#f7eede 693px,#f6f4f0 695px,#eeeef3 697px,#bcb9d8 707px,#ada7ce 713px,#aca6cd 719px,#b9b6d6 725px,#f1f1f4 739px,#f6f6f5 741px,#f6f1e7 747px,#f6f2ea 755px,#f4f4f5 763px,#dbdbea 787px,#dcdceb 811px,#f2f2f4 859px)"></i><i style="background:linear-gradient(90deg,#f6f4f1 1px,#f6f5f3 59px,#f7eede 113px,#f8e2b7 141px,#f8e2b7 155px,#f7ebd4 177px,#f4f4f5 193px,#cacae2 215px,#cbcbe3 225px,#e5e5ee 237px,#f6f5f4 243px,#f7dfb1 257px,#eebf7f 269px,#eab36c 277px,#eab26b 287px,#efc182 299px,#f7dcad 317px,#f8e3b9 331px,#f7deb0 349px,#f2cb91 369px,#e0a054 393px,#d08734 405px,#955423 423px,#874b1f 435px,#874c1f 483px,#985723 497px,#c27a2e 509px,#d28936 513px,#efc283 529px,#f7dcad 539px,#f8e5c2 549px,#f7e7c5 563px,#f8e2b7 593px,#f8e5bf 619px,#f7dfb1 629px,#f0c589 639px,#e3a55b 649px,#da9544 657px,#d99342 665px,#e0a155 673px,#edbb79 681px,#f8e5c2 691px,#f5f4f4 697px,#c4c3de 707px,#b4b0d3 713px,#b3afd2 719px,#c0bedb 725px,#f3f3f5 739px,#f7f0e5 749px,#f6f4f0 761px,#f2f2f4 769px,#e7e7ef 793px,#f5f5f4 847px,#f6f5f5 859px)"></i><i style="background:linear-gradient(90deg,#f6f3eb 1px,#f6f3eb 65px,#f7efdf 113px,#f8e0b2 145px,#f8e0b3 159px,#f7e9ce 179px,#f5f5f4 195px,#c9c8e1 217px,#c6c5df 225px,#d7d7e8 235px,#f4f4f4 245px,#f6dbab 261px,#efc283 271px,#ecb773 279px,#ecb875 289px,#f4d29c 307px,#f8e2b8 321px,#f7e6c5 339px,#f8e5c0 359px,#f6daa9 375px,#ecb976 393px,#d38936 409px,#945423 423px,#854b1f 433px,#854a1f 485px,#955423 499px,#c2792e 511px,#d38934 515px,#edbc7a 529px,#f5d8a5 539px,#f8e3bc 549px,#f8e4be 561px,#f6daa8 591px,#f8e0b3 619px,#f6d9a8 627px,#f0c589 635px,#d99342 649px,#cd8331 655px,#c67d2f 663px,#d38a37 671px,#e3a55a 679px,#efc182 685px,#f8e1b5 691px,#f6f2e9 697px,#f3f3f5 699px,#c7c6e0 709px,#bcb9d8 715px,#c0bddb 721px,#f6f5f5 739px,#f7f0e4 747px,#f6f1e7 759px,#f5f4f4 775px,#f6f3ec 815px,#f6f2eb 843px,#f6f4ee 859px)"></i><i style="background:linear-gradient(90deg,#f6f1e7 1px,#f7f0e5 85px,#f7efdf 115px,#f7e7c6 131px,#f7dcac 147px,#f6dbab 161px,#f7e7c7 181px,#f5f4f4 199px,#c8c7e1 219px,#c4c3de 227px,#d4d4e7 237px,#f1f1f4 247px,#f5f4f3 249px,#f6d9a7 267px,#f0c78b 277px,#efc385 287px,#f3d09a 301px,#f8e4bc 319px,#f7ecd7 347px,#f7edda 365px,#f7e7c7 379px,#f5d8a6 391px,#edba77 401px,#d08633 413px,#995724 423px,#884c1f 431px,#874b1f 481px,#955423 495px,#b36d2a 505px,#d28935 513px,#eec080 529px,#f5d8a6 539px,#f8e2b8 549px,#f8e2b6 561px,#f3cf98 587px,#f3d19b 603px,#f5d8a6 619px,#f3d099 627px,#edb976 635px,#d38936 647px,#b66f2b 655px,#ae6929 661px,#b46e2a 667px,#d08633 675px,#e0a155 681px,#efc183 687px,#f8e3b9 693px,#f6f3ec 699px,#f2f2f4 701px,#d2d2e6 709px,#c8c7e0 715px,#cbcae2 721px,#f5f5f5 737px,#f7efe1 747px,#f7f0e3 763px,#f6f1e6 785px,#f7ecd5 819px,#f6f2e9 859px)"></i><i style="background:linear-gradient(90deg,#f7f0e3 1px,#f7efe0 117px,#f7e8ca 131px,#f5d8a6 149px,#f5d5a1 161px,#f8e0b4 177px,#f7eedd 195px,#f4f4f5 203px,#c9c8e1 221px,#c3c2dd 229px,#d2d2e6 239px,#f3f3f5 251px,#f6f2eb 255px,#f7ddae 273px,#f4d29d 283px,#f5d5a1 295px,#f7e7c8 323px,#f5f4f1 355px,#f5f2ee 377px,#f7efdf 385px,#f8e3ba 395px,#f1c88d 403px,#e1a155 411px,#d58c39 415px,#be762d 419px,#9d5b25 425px,#8d5021 431px,#8b4e20 443px,#985723 481px,#ab6728 493px,#ce8534 505px,#de9d4f 513px,#f2cb91 529px,#f7ddad 539px,#f8e2b6 549px,#f6daaa 563px,#f0c487 585px,#efc386 599px,#f3cf98 619px,#f0c78b 627px,#e8af67 635px,#ce8431 645px,#a96528 653px,#9c5a25 659px,#9e5b25 665px,#ad6829 671px,#cb8130 677px,#d48b38 679px,#ecb874 687px,#f8e4be 695px,#f6f3ee 701px,#f3f3f5 703px,#d9d9e9 711px,#d4d4e7 719px,#ececf2 731px,#f5f5f5 735px,#f7efdf 745px,#f7edda 763px,#f7ead1 787px,#f8e6c2 811px,#f7eacf 833px,#f7f1e5 859px)"></i><i style="background:linear-gradient(90deg,#f7eede 1px,#f7efe1 119px,#f7eacf 131px,#f4d4a0 151px,#f3cf98 163px,#f5d8a6 177px,#f7ead0 195px,#f6f5f3 205px,#e8e8f0 211px,#c7c6e0 225px,#c5c3de 233px,#dadaea 245px,#f3f3f4 255px,#f6f2e8 261px,#f8e4bd 277px,#f7dfb1 289px,#f8e5c0 311px,#f7efdf 335px,#f3f3f4 347px,#dfdfec 365px,#e3e3ed 377px,#f2f2f3 387px,#f6f3eb 391px,#f8e2b9 401px,#ebb570 411px,#d48b38 419px,#bf772d 423px,#a36026 429px,#975623 435px,#9b5a24 445px,#b8712c 467px,#ca8234 485px,#da9646 497px,#f3ce97 523px,#f7dfb1 535px,#f8e2b6 547px,#f5d6a4 561px,#edba78 583px,#ebb671 595px,#f0c68a 619px,#efc284 625px,#e8ae66 633px,#cd8331 643px,#a36026 651px,#945422 657px,#955523 667px,#a96528 673px,#cb8230 679px,#dc9849 683px,#f1c88e 691px,#f8e0b2 695px,#f6f3ed 703px,#f4f4f4 705px,#e2e2ed 713px,#e2e2ed 721px,#f6f5f4 733px,#f7edda 745px,#f8e6c4 781px,#f7dfb1 805px,#f8e3bb 823px,#f7efe1 857px,#f7f0e2 859px)"></i><i style="background:linear-gradient(90deg,#f7edd9 1px,#f7efe1 107px,#f7f0e2 123px,#f7e9cc 135px,#f5d6a4 149px,#f1ca90 161px,#f2cc94 173px,#f7e0b2 189px,#f7f0e4 205px,#f5f4f3 209px,#cacae2 227px,#c6c5df 235px,#d9d9e9 247px,#f4f4f4 261px,#f7e6c5 283px,#f8e4be 297px,#f7e9ce 321px,#f6f1e7 335px,#f4f4f5 341px,#cccbe3 363px,#c9c8e1 373px,#dcdcea 385px,#f2f2f4 393px,#f5f4f1 395px,#f8e2b9 405px,#e6ab62 417px,#d7903e 423px,#c27a2e 429px,#b56f2b 435px,#ba732c 443px,#cf8737 453px,#df9f52 467px,#eebe7e 497px,#f7dfb1 523px,#f8e3bb 537px,#f7deaf 551px,#e8af68 583px,#e6ab61 595px,#ecb671 609px,#eebe7e 619px,#edbc7a 625px,#e4a85e 633px,#d18632 641px,#9b5a24 651px,#8f5121 657px,#905122 667px,#a15e26 673px,#d18732 681px,#efc385 691px,#f8e2b8 697px,#f6f2ea 705px,#f6f5f2 707px,#ebebf1 717px,#f6f5f4 729px,#f7ebd5 745px,#f8e1b6 779px,#f5d6a2 799px,#f6daa9 815px,#f7edda 851px,#f7efe0 859px)"></i><i style="background:linear-gradient(90deg,#f7ebd3 1px,#f7ecd6 45px,#f7efdf 107px,#f7f0e3 125px,#f7ebd3 135px,#f7ddad 147px,#f1c98e 159px,#f0c486 169px,#f2cb92 181px,#f8e5c0 199px,#f5f4f3 213px,#cecee4 229px,#c9c8e1 237px,#d9d9e9 249px,#f5f4f4 267px,#f7e8cb 287px,#f8e6c4 303px,#f7ead0 321px,#f6f1e8 333px,#f6f5f4 337px,#bdbad9 361px,#b5b1d4 371px,#c2c0dc 381px,#f3f3f5 397px,#f6f4f0 399px,#f7e0b3 409px,#e8af68 421px,#db9747 429px,#d78f3d 435px,#da9545 443px,#f0c589 465px,#f5d6a4 481px,#f8e5c1 519px,#f8e4be 537px,#f6dbab 551px,#e6ab63 579px,#e0a154 591px,#e3a65c 603px,#ecb874 619px,#ecb672 625px,#e2a559 633px,#cd8331 641px,#a15e26 649px,#905121 655px,#8d4f21 665px,#965523 671px,#b36d2a 677px,#ce8431 681px,#eab36d 689px,#f7deb0 697px,#f7eedd 705px,#f6f4f0 711px,#f6f5f3 723px,#f7e9cc 747px,#f6dbaa 775px,#f2cd95 793px,#f3cf98 807px,#f7e6c5 835px,#f7eedd 857px,#f7eede 859px)"></i><i style="background:linear-gradient(90deg,#f7e9ce 1px,#f7e8cb 33px,#f7efdf 111px,#f7f0e5 127px,#f7ecd5 137px,#f7dcad 149px,#f0c589 161px,#eebe7e 171px,#f0c589 183px,#f7dfb2 199px,#f5f4f3 217px,#d1d1e6 233px,#cfcfe5 243px,#f6f5f4 273px,#f7eacf 289px,#f7e7c5 303px,#f7ead0 321px,#f6f2eb 333px,#f4f4f5 337px,#bbb8d7 357px,#aaa4cb 367px,#aca6cd 375px,#c2c0dc 385px,#f3f3f5 399px,#f6f4f0 401px,#f7ddad 413px,#ecb976 425px,#e8ae66 433px,#e9b26c 441px,#f0c78b 451px,#f7e0b5 463px,#f7e8cb 475px,#f7ecd6 497px,#f7e9cc 527px,#f8e2b6 545px,#f0c487 563px,#e3a55a 579px,#dc994a 591px,#df9f52 603px,#ebb36d 619px,#e9b16a 627px,#e2a358 633px,#ce8331 641px,#9b5924 651px,#8e5021 659px,#935322 669px,#aa6528 675px,#cf8531 681px,#eebd7c 691px,#f8e2b6 699px,#f7edd9 707px,#f6f2e8 715px,#f7f0e3 725px,#f6dbaa 765px,#f0c689 787px,#f0c689 801px,#f6d8a7 819px,#f7e7c5 835px,#f7eedc 857px,#f7eedd 859px)"></i><i style="background:linear-gradient(90deg,#f7e8c9 1px,#f8e5c1 29px,#f7eedc 113px,#f7f1e5 129px,#f7ecd7 139px,#f7ddad 151px,#efc284 163px,#edba77 173px,#eebd7d 183px,#f4d29c 197px,#f7e9cc 211px,#f5f4f3 221px,#d4d4e7 237px,#d5d5e7 247px,#f5f5f4 277px,#f7e9cd 293px,#f7e6c5 307px,#f7ead1 323px,#f6f2ea 333px,#f5f5f5 337px,#bebcda 355px,#a9a3cb 365px,#a7a1ca 373px,#bab7d7 383px,#f0f0f3 399px,#f6f6f5 401px,#f8e1b5 415px,#f2ce96 425px,#f1c98f 433px,#f3d09a 441px,#f7ead1 459px,#f6f3ed 473px,#f6f4ef 505px,#f7ead0 533px,#f6dbab 551px,#e2a559 577px,#da9545 589px,#db9647 599px,#eab26b 621px,#e7ad65 629px,#db9747 637px,#d28733 641px,#a15e26 651px,#935322 657px,#945423 667px,#a76327 673px,#d38935 681px,#eebe7d 691px,#f8dfb2 699px,#f7ead0 707px,#f7eedc 717px,#f7ead0 731px,#f6daa9 757px,#eebf7f 781px,#edbc7b 793px,#f1c88d 807px,#f8e4bd 829px,#f7ecd7 849px,#f7eedd 859px)"></i><i style="background:linear-gradient(90deg,#f7e6c5 1px,#f8e2b7 29px,#f7e7c7 67px,#f7edda 115px,#f7f0e4 133px,#f7edd9 141px,#f7ddae 153px,#efc081 165px,#ebb671 175px,#ecb874 185px,#f2cc94 199px,#f8e6c3 213px,#f5f4f2 225px,#e9e9f0 231px,#d8d8e9 243px,#ececf2 275px,#f6f5f4 281px,#f7e9cd 295px,#f8e6c4 307px,#f7e8cb 321px,#f7f1e5 333px,#f3f3f5 339px,#b7b4d5 361px,#afaacf 369px,#b5b1d3 377px,#d9d9e9 391px,#f2f2f4 399px,#f6f5f3 401px,#f7e7c7 413px,#f7e0b5 423px,#f7e0b6 433px,#f7ead0 445px,#f6f3ec 455px,#ececf2 465px,#e0e0ed 485px,#eaeaf1 509px,#f5f3f1 523px,#f7ecd8 537px,#f6dbab 553px,#e4a85e 575px,#da9545 587px,#d99443 597px,#e2a559 611px,#eab26c 623px,#e6ac63 631px,#da9544 639px,#d08632 643px,#a66227 653px,#995824 661px,#9f5c25 667px,#bb742c 675px,#d18733 679px,#eec081 691px,#f7deaf 699px,#f7e7c8 707px,#f7ead1 717px,#f8e6c3 733px,#f5d7a5 751px,#ecb773 777px,#ebb56f 789px,#efc283 803px,#f8e3bb 827px,#f7ecd5 847px,#f7eedc 859px)"></i><i style="background:linear-gradient(90deg,#f8e6c3 1px,#f7dcad 31px,#f8e1b4 55px,#f7e9cc 97px,#f7eedc 123px,#f7efe2 137px,#f7ebd4 145px,#f7deaf 155px,#eebf7f 167px,#eab26c 177px,#ebb46e 187px,#efc386 199px,#f8e6c2 217px,#f6f4f1 229px,#ececf2 235px,#dedeeb 247px,#e6e6ef 275px,#f4f4f5 283px,#f7f0e4 289px,#f7e8ca 299px,#f8e5c2 311px,#f7e9cc 325px,#f6f1e8 337px,#f5f4f3 341px,#c6c4df 363px,#c3c1dd 373px,#d6d6e8 385px,#f4f4f5 397px,#f7ebd3 411px,#f7e8cb 421px,#f7ecd8 433px,#f5f2ee 443px,#ededf2 449px,#d0d0e5 469px,#c9c8e1 489px,#d6d6e8 511px,#f4f3f2 533px,#f7efdf 541px,#f7deaf 555px,#e6ab62 575px,#db9848 587px,#da9545 597px,#e3a65b 611px,#ebb46e 623px,#e9b068 631px,#de9c4e 639px,#d28834 645px,#b06b2a 655px,#aa6528 663px,#ba732c 671px,#d38935 677px,#edbc7a 689px,#f5d7a5 697px,#f8e3b9 703px,#f7e7c7 713px,#f8e5c0 727px,#f5d5a2 745px,#eab26b 771px,#e7ad65 783px,#ecb671 795px,#f8e2b7 823px,#f7ead1 841px,#f7eddb 859px)"></i><i style="background:linear-gradient(90deg,#f8e5c2 1px,#f5d5a2 33px,#f5d7a5 53px,#f7e7c6 95px,#f7edda 127px,#f7efdf 139px,#f7ebd4 147px,#f7dfb1 157px,#edbb78 171px,#e9b069 179px,#e9b068 189px,#edbb79 199px,#f8e3ba 219px,#f5f4f2 235px,#e7e7ef 245px,#e0e0ec 275px,#f5f5f4 287px,#f7e9cd 299px,#f8e5c0 309px,#f7e7c6 325px,#f7efdf 339px,#f4f3f2 347px,#dcdceb 365px,#dfdfec 377px,#f3f2f2 391px,#f7ecd6 409px,#f7eddb 421px,#f4f3f1 433px,#e7e7f0 441px,#c1bfdc 463px,#b4b0d3 481px,#b9b5d6 501px,#d4d4e7 523px,#f3f3f4 539px,#f7f0e4 545px,#f6dcac 559px,#e9b16a 575px,#de9d4f 587px,#dd9a4c 597px,#e5a95f 611px,#ecb874 625px,#eab26b 633px,#d99443 645px,#ce8331 651px,#be762d 659px,#c37a2e 667px,#d28935 673px,#eab36d 685px,#f4d39e 695px,#f8e1b5 703px,#f8e4be 715px,#f7ddae 731px,#e7ad64 765px,#e3a65b 777px,#e7ae65 789px,#f1c88e 805px,#f8e2b7 821px,#f7ead0 839px,#f7edda 859px)"></i><i style="background:linear-gradient(90deg,#f8e5c2 1px,#f3cf98 35px,#f2ce96 53px,#f8e5bf 97px,#f7eedc 141px,#f7e9cd 151px,#f6daa9 161px,#edbb78 173px,#e8af67 181px,#e7ad64 191px,#ecb773 201px,#f6dbaa 219px,#f6f4ef 239px,#f1f1f4 245px,#dcdcea 275px,#e4e4ee 283px,#f3f3f5 289px,#f6f2e8 293px,#f7e7c7 303px,#f8e4bc 315px,#f7e7c6 333px,#f5f2ee 359px,#f6f3ec 381px,#f7ebd2 401px,#f7ecd7 413px,#f5f4f4 427px,#b9b5d6 457px,#a7a0c9 475px,#a69fc9 495px,#b8b5d5 515px,#e3e3ee 537px,#f5f4f3 545px,#f7dfb0 561px,#ebb570 577px,#e2a358 589px,#e2a458 601px,#eebd7b 625px,#ecb976 633px,#d58c39 655px,#d38a37 665px,#db9748 673px,#f0c68a 689px,#f6dbaa 699px,#f8e1b5 709px,#f7ddae 723px,#f0c68a 741px,#e5a95f 759px,#e09f53 771px,#e3a65b 783px,#eebd7c 797px,#f8e1b4 817px,#f7e9ce 835px,#f7edd9 859px)"></i><i style="background:linear-gradient(90deg,#f8e6c3 1px,#f5d8a6 21px,#f0c68b 43px,#f0c68a 59px,#f8e3bb 103px,#f7ecd7 143px,#f7e8cb 153px,#f6daa9 163px,#ecb773 177px,#e6ab62 187px,#e7ad65 197px,#eebd7d 209px,#f8e4be 229px,#f6f5f3 247px,#e1e1ed 267px,#d8d8e9 279px,#e6e6ef 287px,#f6f5f3 293px,#f7e8cb 303px,#f8e3ba 313px,#f8e3bb 333px,#f7eacf 365px,#f8e5c0 397px,#f7e9cd 409px,#f6f5f3 423px,#e5e5ef 431px,#b4b0d3 453px,#9e96c3 473px,#9d94c2 495px,#afaacf 515px,#d6d6e8 535px,#f5f5f5 547px,#f6dbab 565px,#edbb79 579px,#e8ae66 589px,#e7ad64 601px,#efc284 625px,#eebe7e 635px,#de9d4f 655px,#dd9b4c 665px,#e5aa61 675px,#f4d19c 693px,#f6dcab 703px,#f6daa9 717px,#f1c88d 733px,#e2a357 755px,#dc994b 767px,#e0a054 779px,#ecb976 793px,#f7dfb1 813px,#f7e8ca 829px,#f7ecd8 859px)"></i><i style="background:linear-gradient(90deg,#f7e7c6 1px,#f6d9a8 21px,#efc182 45px,#eebe7e 61px,#f2cb92 81px,#f8e3b9 111px,#f7ebd2 145px,#f7e7c8 155px,#f6daaa 165px,#ecb874 179px,#e6ab62 189px,#e6ab62 199px,#edba78 211px,#f8e4bc 233px,#f6f5f2 253px,#ebebf1 263px,#d5d5e7 279px,#dedeeb 287px,#f5f5f4 295px,#f7e8c9 305px,#f8e2b6 315px,#f7dfb1 343px,#f6daa9 375px,#f6d9a8 393px,#f8e2b9 405px,#f7f0e3 419px,#f6f5f2 423px,#eeeef2 427px,#b4afd2 451px,#9d94c2 469px,#9a91bf 493px,#a59ec8 509px,#bebbda 525px,#f4f4f5 547px,#f6f2ea 551px,#f6d8a7 569px,#eec081 583px,#ecb773 595px,#edbc7b 609px,#f1c88e 627px,#f0c487 637px,#e7ac63 655px,#e5aa61 665px,#ecb975 677px,#f4d19c 693px,#f5d8a5 705px,#f3d09a 719px,#ebb671 737px,#dc994a 755px,#da9544 767px,#e1a256 779px,#efc385 795px,#f8e0b2 811px,#f7e8cb 829px,#f7ecd6 859px)"></i><i style="background:linear-gradient(90deg,#f7e7c8 1px,#f7dcac 21px,#edbc7a 49px,#ecb772 63px,#eebf7f 79px,#f8e1b4 115px,#f7e9cd 147px,#f7e6c5 157px,#f6daaa 167px,#ebb671 183px,#e5aa61 193px,#e7ad65 205px,#eebf7e 217px,#f8e3ba 237px,#f6f5f3 259px,#e5e5ee 269px,#d2d2e6 281px,#dcdceb 289px,#f5f5f4 297px,#f7e7c6 307px,#f8dfb2 317px,#f0c78b 383px,#f2ce96 397px,#f7e0b3 409px,#f6f5f2 425px,#ededf2 429px,#b9b6d6 449px,#a098c4 467px,#9a91bf 487px,#a49cc7 505px,#bfbdda 523px,#f3f3f5 545px,#f6f3ec 549px,#f7dfb1 569px,#f1c98e 587px,#efc386 601px,#f3ce97 629px,#f1c78c 641px,#ecb672 659px,#edba77 671px,#f3d19b 695px,#f3d19a 709px,#efc285 723px,#db9747 749px,#d7903e 761px,#dd9b4d 773px,#edbc7b 789px,#f7deb0 807px,#f7e7c7 823px,#f7ebd5 857px,#f7ecd5 859px)"></i><i style="background:linear-gradient(90deg,#f7e8ca 1px,#f7ddae 23px,#ecb672 55px,#eab16a 69px,#edba78 85px,#f7dfb1 121px,#f7e7c7 147px,#f8e5c1 159px,#f6daaa 169px,#ebb46e 187px,#e6aa61 197px,#e8ae66 209px,#efc386 223px,#f8e4be 243px,#f6f5f3 263px,#e0e0ed 273px,#d1d1e6 283px,#d6d6e8 289px,#f6f5f4 299px,#f7e8cb 307px,#f8e0b3 315px,#f3d19b 337px,#edba77 377px,#edbb79 391px,#f1c98e 403px,#f8e4be 417px,#f5f4f2 429px,#e6e6ef 435px,#bab7d7 453px,#a69fc8 469px,#a098c4 487px,#aca6cd 505px,#cbcbe2 523px,#f4f3f4 541px,#f7e6c5 561px,#f4d19c 593px,#f3cf98 611px,#f4d29c 633px,#eebf7f 661px,#f0c487 677px,#f2ce96 697px,#f1c88d 711px,#e8ae66 729px,#d7913f 747px,#d58c39 757px,#dc9849 769px,#eebf7f 787px,#f7ddae 803px,#f7e7c6 819px,#f7ebd3 853px,#f7ebd4 859px)"></i><i style="background:linear-gradient(90deg,#f7e9cc 1px,#f8e1b4 23px,#ebb46e 59px,#e7ad65 75px,#ecb773 91px,#f7deaf 127px,#f8e6c2 151px,#f8e3bb 163px,#f5d6a3 173px,#ebb36d 191px,#e6ab62 203px,#eab26c 215px,#f8e4bd 247px,#f6f1e8 263px,#f5f5f4 267px,#d1d1e6 283px,#d3d3e6 289px,#e9e9f0 297px,#f6f5f2 301px,#f7e7c7 309px,#f6dbab 319px,#eab16b 375px,#eab16a 391px,#eebd7c 403px,#f5d5a2 415px,#f7ebd4 427px,#f6f4ef 433px,#eaeaf1 439px,#c2c0dc 457px,#b0abd0 473px,#aea8ce 491px,#bdbad9 507px,#f2f2f4 533px,#f6f2ea 539px,#f7e9cc 553px,#f5d6a3 609px,#f4d39e 637px,#efc385 663px,#f1c98e 699px,#eebe7e 713px,#d7903e 741px,#d38a35 751px,#d7903f 761px,#e9b069 777px,#f6d9a8 797px,#f8e5c0 811px,#f7eacf 837px,#f7ebd3 859px)"></i><i style="background:linear-gradient(90deg,#f7e9cd 1px,#f8e2b7 25px,#e9b16a 65px,#e6aa61 81px,#ebb56f 97px,#f7ddad 133px,#f8e4be 153px,#f8e2b8 165px,#f4d39e 177px,#ebb46d 195px,#e7ac64 207px,#ebb56f 219px,#f8e4bd 251px,#f7f0e3 265px,#f6f5f3 269px,#e7e7ef 275px,#d1d1e6 285px,#d3d3e7 291px,#eaeaf1 299px,#f2f2f4 301px,#f6f4f0 303px,#f7e6c5 311px,#f6d9a7 321px,#e8af67 373px,#e7ad64 391px,#ecb975 405px,#f4d39e 419px,#f7e9cc 431px,#f4f3f0 441px,#eaeaf1 447px,#c9c8e1 467px,#c0bddb 485px,#cbcae2 503px,#f3f3f3 527px,#f7e9cc 547px,#f8e6c3 567px,#f8e2b8 591px,#f5d8a6 621px,#f2cd95 645px,#efc284 667px,#f0c487 697px,#ecb975 711px,#d68e3b 737px,#d28833 747px,#d78f3d 757px,#e8af68 773px,#f5d8a6 793px,#f8e4be 807px,#f7e9cd 833px,#f7ead2 859px)"></i><i style="background:linear-gradient(90deg,#f7e9ce 1px,#f8e3ba 27px,#f2cb92 49px,#e9b16a 69px,#e5a95f 85px,#eab26b 101px,#f6dcac 139px,#f8e3b9 157px,#f8e0b3 169px,#f1c98f 185px,#ebb46f 199px,#e8af67 211px,#ecb874 223px,#f8e3ba 253px,#f7efe0 267px,#f4f4f5 273px,#d5d5e7 285px,#d2d2e6 291px,#e5e5ee 299px,#f4f4f5 303px,#f8e3bb 315px,#f5d6a2 325px,#e9b16a 373px,#e8ae67 393px,#ecb975 407px,#f4d29d 423px,#f7e8c9 437px,#f6f3ee 449px,#eeeef2 457px,#dadaea 477px,#dcdceb 497px,#f3f2f3 517px,#f6f1e8 525px,#f7e8cb 541px,#f8e6c4 559px,#f8e5c0 585px,#f2cb92 643px,#eebf7f 665px,#eec081 695px,#ebb46e 709px,#d58c39 733px,#d28732 743px,#d68f3d 753px,#ebb46e 771px,#f5d8a6 789px,#f8e4bd 803px,#f7e9cc 831px,#f7ead1 859px)"></i><i style="background:linear-gradient(90deg,#f7e9ce 1px,#f8e4bd 29px,#f5d5a1 47px,#e9b16a 75px,#e5a960 91px,#eab26c 107px,#f6daa8 143px,#f8e1b5 161px,#f6dbab 175px,#ecb671 203px,#eab26b 215px,#edbc7a 227px,#f8e3ba 255px,#f7efe0 269px,#f4f4f5 275px,#d6d6e8 287px,#d4d4e7 293px,#e6e6ef 301px,#f5f4f5 305px,#f8e6c3 315px,#f6d8a7 325px,#ecb773 375px,#ebb671 395px,#efc283 413px,#f8e5c0 441px,#f6f3ec 463px,#f1f1f3 491px,#f6f3ec 509px,#f7e7c8 537px,#f8e6c2 561px,#f8e3bb 589px,#f1c88c 639px,#edbb78 661px,#edbc7a 693px,#e7ac63 709px,#d58c39 729px,#d28733 739px,#d99342 751px,#eebd7d 771px,#f6daaa 787px,#f8e5c0 803px,#f7e9cd 841px,#f7ead0 859px)"></i><i style="background:linear-gradient(90deg,#f7e9ce 1px,#f8e4be 33px,#f5d7a4 51px,#eab26b 81px,#e6ab62 97px,#ebb46e 113px,#f6d9a8 149px,#f8e0b2 167px,#f5d7a5 181px,#ecb874 207px,#ecb671 219px,#efc486 233px,#f8e3ba 255px,#f7f0e3 271px,#f4f4f5 277px,#d8d8e9 289px,#d8d8e9 297px,#f5f5f5 307px,#f8e6c4 317px,#f6daa9 327px,#f0c588 365px,#eebf80 391px,#f1c98e 413px,#f8e4bf 447px,#f7edda 473px,#f7eedc 495px,#f8e5bf 541px,#f8e3b9 585px,#f3d09a 619px,#ecb772 651px,#ebb670 669px,#edb976 689px,#e8ae66 703px,#d58d3a 725px,#d38934 735px,#d99444 747px,#eebe7e 767px,#f6daaa 783px,#f8e4bf 799px,#f7e9cc 841px,#f7eacf 859px)"></i><i style="background:linear-gradient(90deg,#f7e9ce 1px,#f8e4be 37px,#f5d7a4 57px,#ebb46f 87px,#e8ae66 103px,#ecb772 119px,#f6d9a8 155px,#f7deaf 171px,#f4d4a0 187px,#edba78 211px,#edba78 223px,#f1ca90 237px,#f8e4bd 255px,#f6f2ea 273px,#f5f5f6 277px,#d8d8e9 291px,#dadaea 299px,#f5f4f5 309px,#f8e5c0 321px,#f6dbab 331px,#f2cd95 367px,#f2ce96 397px,#f8e6c4 455px,#f7e9cd 485px,#f8e3b9 547px,#f8e0b2 585px,#f3cf99 611px,#e9b16a 643px,#e8ae67 661px,#ecb773 685px,#e7ad65 699px,#d58d39 723px,#d48b38 733px,#dd9a4b 745px,#f1c78c 767px,#f7dfb1 783px,#f8e6c3 803px,#f7e9cf 859px)"></i><i style="background:linear-gradient(90deg,#f7e9ce 1px,#f8e4bf 41px,#f6d9a8 61px,#ecb672 95px,#eab36c 111px,#eebe7d 129px,#f6d9a8 161px,#f6dcac 177px,#f3cf98 195px,#eebd7d 215px,#eebf7f 227px,#f3d19b 241px,#f8e5c2 255px,#f5f5f5 275px,#d7d7e9 293px,#dadaea 301px,#f4f4f5 311px,#f8e6c4 323px,#f7deb0 333px,#f5d8a5 357px,#f7ddad 393px,#f7e9cd 453px,#f7e8cb 487px,#f8e2b6 543px,#f7dcad 583px,#f2cd94 605px,#e6ab63 635px,#e3a65b 651px,#ebb570 683px,#e6ab62 697px,#d68f3d 719px,#d7903e 731px,#e2a459 745px,#f4d39e 769px,#f8e2b8 785px,#f7e7c7 815px,#f7e9ce 859px)"></i><i style="background:linear-gradient(90deg,#f7e9cd 1px,#f8e4be 47px,#f5d8a6 69px,#edbb78 101px,#ecb773 117px,#f0c588 139px,#f6d9a8 167px,#f6d9a8 185px,#efc182 219px,#f0c588 231px,#f6d9a8 245px,#f7efe0 263px,#f5f4f4 271px,#d5d5e7 293px,#d8d8e9 303px,#f5f4f3 315px,#f7e6c5 327px,#f8e0b3 339px,#f8e0b3 361px,#f7efdf 423px,#f7f0e4 461px,#f7e9cd 499px,#f8e2b6 539px,#f6daa9 579px,#f1ca90 599px,#e2a459 629px,#de9d50 643px,#e4a85e 661px,#ebb46e 679px,#e6ab63 693px,#d89241 715px,#d99342 727px,#e4a75d 741px,#f5d6a3 767px,#f8e3ba 783px,#f7e7c7 819px,#f7e9ce 859px)"></i><i style="background:linear-gradient(90deg,#f7e9cd 1px,#f8e4bd 53px,#f5d8a5 77px,#eebf7f 107px,#eebd7c 125px,#f3d19b 157px,#f6dbaa 179px,#f4d5a1 197px,#f0c588 221px,#f1c98e 233px,#f6daaa 245px,#f5f5f5 267px,#d3d3e7 287px,#cecde4 299px,#dbdbea 309px,#f1f1f4 317px,#f6f3eb 321px,#f7e8c9 331px,#f8e3bc 341px,#f8e5bf 357px,#f5f2ed 391px,#ececf2 419px,#f0f0f3 467px,#f6f3ec 487px,#f8e5bf 527px,#f5d6a3 577px,#efc284 597px,#de9c4e 623px,#d99444 637px,#df9f52 653px,#eab26c 673px,#e9b069 685px,#da9645 711px,#db9848 723px,#e8af67 739px,#f5d7a4 763px,#f8e3bb 781px,#f7e8c9 833px,#f7e9cd 859px)"></i><i style="background:linear-gradient(90deg,#f7e9cd 1px,#f8e4bd 59px,#f5d7a5 85px,#efc385 115px,#efc385 135px,#f6daa9 179px,#f5d6a3 199px,#f1c88d 225px,#f3ce97 237px,#f8e2b7 249px,#f5f5f6 265px,#cdcce4 283px,#c3c1dd 295px,#c9c8e1 305px,#e4e4ee 317px,#f4f3f3 323px,#f7eacf 335px,#f7e7c6 345px,#f7ead1 359px,#f5f3f0 375px,#ececf1 383px,#d5d5e7 405px,#d9d9e9 463px,#f4f3f2 497px,#f8e6c2 531px,#f5d6a2 571px,#efc284 589px,#da9544 617px,#d48b38 631px,#da9544 645px,#e9b169 667px,#eab26c 679px,#dc9a4b 707px,#de9c4e 719px,#eab26c 735px,#f5d6a2 757px,#f8e3b9 775px,#f7e7c7 821px,#f7e9cd 859px)"></i><i style="background:linear-gradient(90deg,#f7e9cd 1px,#f8e4bc 65px,#f5d6a3 95px,#f0c78b 123px,#f1c98e 145px,#f6d9a8 183px,#f5d5a2 205px,#f2cc93 227px,#f3d19c 239px,#f8e3bb 251px,#f5f5f6 265px,#c4c2de 283px,#b8b4d5 293px,#bcb9d8 305px,#d4d4e7 317px,#f2f2f4 327px,#f7efe0 335px,#f7ebd2 345px,#f7edd9 355px,#f3f3f5 369px,#c7c6e0 393px,#bebbda 407px,#c5c4de 449px,#cbcbe2 473px,#f5f4f3 507px,#f7e7c6 533px,#f5d6a3 565px,#eec080 583px,#d68d3a 611px,#cd8331 623px,#d38833 635px,#e9b069 663px,#ebb46d 675px,#df9e51 705px,#e3a55a 719px,#eec081 737px,#f6dbab 757px,#f8e4bd 777px,#f7e9cd 859px)"></i><i style="background:linear-gradient(90deg,#f7e9cd 1px,#f8e3bb 73px,#f1ca90 129px,#f2cd94 153px,#f6daa8 191px,#f4d29d 217px,#f3cf98 233px,#f5d8a6 245px,#f7e9cc 257px,#f6f4f1 265px,#f3f3f5 267px,#bcb9d8 285px,#ada8ce 295px,#b0abd0 305px,#c5c4df 317px,#f3f3f4 333px,#f7eede 345px,#f7f0e3 355px,#f6f5f5 363px,#bab7d7 393px,#b2aed1 407px,#bdbad9 439px,#bab6d7 467px,#cacae2 485px,#f5f5f5 511px,#f8e6c3 537px,#f5d7a4 559px,#eebe7d 577px,#d38a36 603px,#c2792e 617px,#c87f30 629px,#d48b38 637px,#e8ae66 657px,#ebb570 669px,#e2a357 701px,#e5aa61 715px,#f0c68a 735px,#f7deaf 755px,#f8e4bf 779px,#f7e9cd 859px)"></i><i style="background:linear-gradient(90deg,#f7e9cd 1px,#f8e3ba 79px,#f2cc94 135px,#f3cf98 161px,#f6d9a7 197px,#f3d19b 235px,#f6d9a7 247px,#f7e8cb 259px,#f4f4f4 269px,#b5b1d3 289px,#a7a1ca 299px,#aba5cc 309px,#c3c2dd 321px,#f1f1f4 337px,#f6f2e9 345px,#f6f1e6 353px,#f5f5f5 363px,#b9b6d6 393px,#b2add1 407px,#bbb8d7 437px,#b4b0d3 467px,#c1bfdc 483px,#f5f5f6 513px,#f8e4bc 541px,#f1ca91 563px,#e1a256 583px,#d18735 595px,#b8722c 609px,#b9722c 619px,#d38834 633px,#e8af67 653px,#ecb773 665px,#e4a85e 697px,#e8af68 711px,#f6dbab 747px,#f8e4bc 769px,#f7e9cd 859px)"></i><i style="background:linear-gradient(90deg,#f7e9cd 1px,#f8e3bb 83px,#f2cd95 143px,#f3d19b 173px,#f5d7a5 205px,#f4d29d 239px,#f6dbab 251px,#f7e9cd 263px,#f6f4f0 271px,#ededf2 275px,#b5b1d4 293px,#a8a1ca 303px,#aca7cd 313px,#c6c4df 325px,#f2f2f4 341px,#f6f3ee 347px,#f6f2e8 355px,#f3f3f5 367px,#c2c0dc 395px,#bcb9d8 411px,#bebbd9 439px,#b7b3d5 467px,#c3c2dd 483px,#f6f5f5 513px,#f6dbaa 547px,#edbb79 565px,#d08734 587px,#b26c2a 601px,#ae6929 611px,#c1792e 623px,#d48b37 631px,#e9b068 649px,#edb976 661px,#eab16b 681px,#e8ae66 697px,#ecb875 711px,#f6dbaa 741px,#f8e4bc 765px,#f7e9cd 859px)"></i><i style="background:linear-gradient(90deg,#f7e9cd 1px,#f8e3ba 89px,#f2cc93 149px,#f3ce97 179px,#f5d5a1 213px,#f4d39f 245px,#f7deaf 257px,#f7ead2 269px,#f4f3f1 277px,#ebebf1 281px,#bdbad9 297px,#b0abd0 307px,#b4b0d3 317px,#d3d3e7 331px,#f6f6f6 345px,#f7f1e5 355px,#f6f2e9 365px,#f2f2f4 375px,#d0d0e5 401px,#c2c0dc 467px,#d2d2e6 487px,#f5f4f4 509px,#f7dcad 541px,#edbb78 559px,#d18835 579px,#ad6929 593px,#a56127 603px,#b06b29 613px,#d08632 625px,#eab26b 645px,#edbc7a 657px,#ecb772 675px,#ebb46e 693px,#efc183 711px,#f7ddaf 739px,#f8e4be 767px,#f7e9cd 859px)"></i><i style="background:linear-gradient(90deg,#f7e9cd 1px,#f8e3ba 93px,#f1c88d 157px,#f1c98f 185px,#f3d19c 223px,#f4d39e 251px,#f8e0b4 265px,#f7efdf 279px,#f5f3ee 283px,#efeff3 287px,#c8c7e0 303px,#bfbdda 313px,#c6c5df 323px,#f6f6f6 345px,#f7eede 357px,#f7eede 369px,#f4f2f1 385px,#e7e7ef 399px,#d1d1e6 439px,#d1d1e6 469px,#e8e8f0 493px,#f5f4f3 503px,#f7ddaf 535px,#edba78 553px,#cf8533 573px,#a86427 587px,#9e5c25 597px,#a96528 607px,#d18733 621px,#e9b16a 639px,#eebe7d 651px,#eebd7c 667px,#ecb875 687px,#f0c486 705px,#f7dfb0 735px,#f8e5bf 767px,#f7e9cd 859px)"></i><i style="background:linear-gradient(90deg,#f7e9ce 1px,#f8e3ba 97px,#f4d39e 133px,#efc182 167px,#efc284 193px,#f2cd94 233px,#f4d29d 259px,#f7e0b3 273px,#f7f0e2 289px,#f2f0ef 295px,#e4e4ee 303px,#d6d6e8 317px,#dedeeb 329px,#f5f5f4 343px,#f7ecd6 357px,#f7e9cf 369px,#f7efdf 387px,#f4f3f2 403px,#e4e4ee 423px,#dadaea 451px,#e5e5ee 477px,#f4f3f3 493px,#f7ecd8 509px,#f7ddae 529px,#edba77 547px,#cd8331 567px,#a46127 581px,#9a5824 591px,#a46127 601px,#d38935 617px,#ebb46e 635px,#efc182 647px,#efc182 663px,#eebe7e 685px,#f2cd95 707px,#f8e1b5 735px,#f8e6c3 785px,#f7e9ce 859px)"></i><i style="background:linear-gradient(90deg,#f7e9ce 1px,#f8e3bb 101px,#f5d6a4 131px,#edb976 173px,#ecb773 195px,#f1c78c 247px,#f3cf98 269px,#f7e1b8 287px,#f6f2ea 307px,#f1f0f2 327px,#f6f3ec 339px,#f7e7c8 359px,#f8e5c2 375px,#f7ebd4 395px,#f5f4f4 415px,#dfdfec 443px,#e6e6ef 465px,#f5f4f3 483px,#f7dcad 523px,#eebf7e 539px,#d68e3c 557px,#c67d2f 563px,#a25f26 575px,#975623 585px,#a15e26 595px,#d08734 611px,#eab36e 629px,#efc385 641px,#f0c589 657px,#efc385 681px,#f5d5a2 709px,#f8e3b9 737px,#f7e9cf 859px)"></i><i style="background:linear-gradient(90deg,#f7eacf 1px,#f8e3ba 107px,#f5d7a4 135px,#e9b16a 179px,#e6ac63 201px,#efc284 263px,#f3ce97 287px,#f7e8c9 317px,#f7ead0 331px,#f8e0b4 369px,#f8e4bc 387px,#f7eedc 407px,#f6f6f6 419px,#dfdfec 441px,#e4e4ee 459px,#f6f5f4 477px,#f6dbaa 517px,#eebf7e 533px,#d68f3d 551px,#c67d2f 557px,#a25f26 569px,#965523 579px,#a05d25 589px,#c27a2e 601px,#d48b38 607px,#ecb773 625px,#f0c68a 637px,#f1c98e 653px,#f1c88d 679px,#f8e2b7 727px,#f7e8cb 835px,#f7eacf 859px)"></i><i style="background:linear-gradient(90deg,#f7ead0 1px,#f8e3bb 113px,#f5d8a6 139px,#e4a85e 185px,#df9f52 205px,#e4a85e 229px,#ecb874 265px,#efc283 299px,#f4d49f 331px,#f5d7a4 375px,#f8e3bc 395px,#f6f2ea 415px,#f6f6f5 419px,#dcdceb 439px,#ddddeb 455px,#f6f5f4 475px,#f8e3b9 503px,#f0c78c 523px,#e1a155 539px,#cf8532 549px,#a46127 563px,#985723 573px,#a15e26 583px,#c27a2e 595px,#d48b38 601px,#ecb874 619px,#f1c88d 631px,#f2cd94 647px,#f2cc94 675px,#f8e2b9 723px,#f7ead0 859px)"></i><i style="background:linear-gradient(90deg,#f7ead1 1px,#f8e3bb 119px,#f5d8a6 145px,#edbb79 171px,#dd9b4d 197px,#d89341 215px,#de9c4e 237px,#e7ad65 267px,#e9b16a 321px,#efc386 367px,#f5d7a4 389px,#f7ecd6 409px,#f6f6f6 419px,#d9d9e9 437px,#d6d6e8 451px,#ededf2 469px,#f6f5f4 475px,#f8e2b8 499px,#f0c487 519px,#df9e51 535px,#cc8231 545px,#a46127 559px,#9c5a24 569px,#a86427 579px,#d08734 593px,#ecb976 613px,#f1ca90 625px,#f3d099 641px,#f3d19b 673px,#f8e3ba 719px,#f7ead1 859px)"></i><i style="background:linear-gradient(90deg,#f7ead2 1px,#f8e3bb 127px,#f6d9a7 151px,#eebd7c 175px,#d89241 205px,#d28834 221px,#d68f3d 241px,#e2a358 271px,#e1a255 295px,#dc9849 329px,#e0a154 353px,#ecb874 377px,#f4d4a0 395px,#f7ead0 409px,#f6f6f6 419px,#d5d5e7 437px,#d0d0e5 449px,#e4e4ee 465px,#f6f5f4 475px,#f6dcac 501px,#ebb570 521px,#d08633 539px,#aa6628 553px,#a15e26 563px,#ac6729 573px,#d28936 587px,#edba78 607px,#f2cc93 619px,#f4d39e 635px,#f5d5a1 671px,#f8e3bc 717px,#f7ead2 859px)"></i><i style="background:linear-gradient(90deg,#f7ebd3 1px,#f8e3bb 135px,#f6d9a7 159px,#eebf7e 181px,#d58d39 213px,#cd8331 223px,#ca8030 239px,#d68e3b 257px,#de9c4e 279px,#dc9849 299px,#cf8533 327px,#cd8433 349px,#d8913f 365px,#e8af68 385px,#f3d099 399px,#f7e6c5 409px,#f6f5f2 419px,#eeeef3 423px,#d3d3e6 437px,#cecee4 449px,#dfdfec 463px,#f6f5f3 475px,#f6d9a8 499px,#e5aa60 521px,#d08633 535px,#ae6929 549px,#a96528 559px,#b7702b 569px,#d18735 579px,#edbc7b 601px,#f3cf98 615px,#f5d6a3 633px,#f6d9a7 669px,#f8e4be 717px,#f7ebd3 859px)"></i><i style="background:linear-gradient(90deg,#f7ebd4 1px,#f8e3bc 143px,#f6d9a8 167px,#efc284 187px,#d48a36 221px,#c37a2e 239px,#c98030 255px,#d89140 275px,#db9748 293px,#d48b38 313px,#c1792e 331px,#b6702b 349px,#c0782e 365px,#d28937 377px,#e1a357 389px,#eebf80 399px,#f8e5bf 411px,#f6f5f3 421px,#e7e7f0 427px,#d2d2e6 439px,#d0d0e5 451px,#e9e9f0 467px,#f5f5f5 473px,#f6dbab 495px,#e5aa60 517px,#d28833 531px,#b56f2b 545px,#b36d2a 555px,#c87e2f 567px,#d7913f 575px,#eebe7e 595px,#f3d19b 609px,#f6d9a7 627px,#f7dcad 667px,#f8e5c0 721px,#f7ebd4 859px)"></i><i style="background:linear-gradient(90deg,#f7ecd5 1px,#f8e4bd 151px,#f6dbaa 175px,#f0c487 195px,#d58c39 229px,#c77e2f 241px,#c47b2e 257px,#d48b37 277px,#da9545 297px,#d58d3a 315px,#c27a2e 331px,#ab6728 351px,#ae6929 367px,#c57c2f 381px,#d68f3d 389px,#ebb46f 401px,#f8e2b7 413px,#f6f4ef 423px,#f4f4f5 425px,#d9d9e9 437px,#d3d3e7 449px,#e5e5ef 463px,#f5f5f4 471px,#f7deaf 491px,#e3a55b 515px,#d18732 529px,#bd762d 541px,#bf772d 551px,#d28936 563px,#eebd7c 587px,#f3d19c 601px,#f6dbaa 619px,#f8e0b2 667px,#f8e6c3 729px,#f7ecd5 859px)"></i><i style="background:linear-gradient(90deg,#f7ecd6 1px,#f8e4bd 161px,#f6dbaa 185px,#efc283 207px,#d58c39 241px,#c98030 255px,#cc8230 271px,#d68e3c 287px,#db9747 305px,#d7903d 321px,#c67d2f 337px,#aa6528 359px,#ab6628 373px,#bf772d 385px,#d48b37 393px,#eab46e 405px,#f8e3ba 417px,#f6f4f1 427px,#eeeef2 431px,#dcdceb 443px,#e1e1ed 455px,#f4f4f4 467px,#f7eedc 475px,#f6daaa 489px,#e1a357 513px,#d38834 527px,#c77e2f 539px,#d38936 553px,#e9b169 573px,#f3cf98 591px,#f6dbab 607px,#f8e3ba 675px,#f7ebd3 833px,#f7ecd6 859px)"></i><i style="background:linear-gradient(90deg,#f7ecd8 1px,#f8e4be 171px,#f6daa9 197px,#efc182 219px,#da9544 249px,#d28834 265px,#d48b37 283px,#dd9b4c 311px,#da9544 329px,#cb8130 347px,#b36d2a 367px,#b6702b 381px,#cf8431 393px,#dd9a4c 401px,#eebf7e 411px,#f8e4bc 421px,#f6f3ed 431px,#f2f2f4 435px,#e7e7f0 447px,#f5f4f2 463px,#f7dfb2 483px,#e5aa60 507px,#d68e3c 523px,#d28834 535px,#d8913f 547px,#edbc7b 571px,#f4d49f 587px,#f7dfb0 605px,#f8e4bf 681px,#f7ecd8 859px)"></i><i style="background:linear-gradient(90deg,#f7edd9 1px,#f8e4be 183px,#f6daaa 209px,#eec080 233px,#df9e50 259px,#d89241 277px,#dc994a 299px,#e1a257 323px,#dc994a 343px,#cd8332 365px,#c67d2f 381px,#d28834 393px,#e2a357 405px,#f0c486 415px,#f8e3bc 425px,#f7f0e3 435px,#f6f4f0 441px,#f6f4f0 455px,#f7eacf 469px,#f6daa9 481px,#e7ac64 503px,#da9545 519px,#d89240 531px,#df9f51 545px,#f2cd94 573px,#f7ddae 591px,#f8e2b6 621px,#f7edd9 859px)"></i><i style="background:linear-gradient(90deg,#f7edda 1px,#f8e4be 195px,#f6daa9 223px,#e4a75d 271px,#df9f52 291px,#e7ac63 335px,#e0a053 359px,#d89241 381px,#db9748 395px,#e6ab62 407px,#f3cf99 421px,#f8e5c0 431px,#f7ecd8 441px,#f7eedc 451px,#f7e8ca 463px,#f5d8a5 477px,#e7ac64 501px,#dd9c4d 517px,#df9e50 531px,#ebb570 549px,#f4d5a1 571px,#f8e1b5 591px,#f7edda 859px)"></i><i style="background:linear-gradient(90deg,#f7eedc 1px,#f8e5bf 207px,#f6dcac 235px,#eab26c 283px,#e7ad65 305px,#ecb773 345px,#e4a85d 389px,#e8af67 403px,#f0c588 417px,#f8e3ba 435px,#f7e7c7 447px,#f8e4be 459px,#f4d5a1 473px,#e9b069 497px,#e2a358 513px,#e4a85e 527px,#eebe7d 545px,#f6d9a8 567px,#f8e2b9 587px,#f7eedc 859px)"></i><i style="background:linear-gradient(90deg,#f7eedd 1px,#f8e5c0 221px,#f6daaa 253px,#eebe7d 295px,#edbc7a 319px,#efc385 357px,#edbc7b 397px,#f0c68a 413px,#f8e1b5 439px,#f8e2b6 453px,#f4d39e 469px,#eab26c 495px,#e6ab62 511px,#ebb570 527px,#f7dcac 561px,#f8e3bc 583px,#f7eedd 859px)"></i><i style="background:linear-gradient(90deg,#f7efdf 1px,#f8e5c1 235px,#f6daa8 273px,#f1c88e 309px,#f2cb91 341px,#f2ce96 377px,#f3cf97 407px,#f8e0b2 441px,#f6daaa 457px,#ecb671 493px,#ebb46e 509px,#efc283 527px,#f7deb0 555px,#f8e5bf 581px,#f7efdf 859px)"></i><i style="background:linear-gradient(90deg,#f7efe0 1px,#f8e6c3 249px,#f5d8a6 301px,#f4d39e 333px,#f7ddaf 421px,#f8dfb1 445px,#f3d19c 465px,#eebd7c 489px,#edbc7b 505px,#f2cd96 527px,#f8e2b7 553px,#f8e6c3 585px,#f7efe0 859px)"></i></div></div>
<svg width="1920" height="1330" viewBox="0 0 1920 1330">
<path d="M1424.1,465.0 L1413.4,464.2 L1402.7,463.3 L1392.1,462.2 L1381.6,461.0 L1371.2,459.7 L1360.9,458.2 L1350.8,456.6 L1340.7,454.9 L1330.7,453.1 L1320.9,451.2 L1311.2,449.1 L1301.6,446.9 L1292.2,444.6 L1282.9,442.2 L1273.8,439.7 L1264.8,437.1 L1255.9,434.3 L1247.2,431.5 L1238.7,428.6 L1230.3,425.5 L1222.1,422.4 L1214.1,419.2 L1206.2,415.9 L1198.6,412.5 L1191.1,409.0 L1183.7,405.4 L1176.6,401.8 L1169.7,398.1 L1162.9,394.3 L1156.3,390.4 L1150.0,386.5 L1143.8,382.4 L1137.8,378.4 L1132.1,374.2 L1126.5,370.0 L1121.1,365.7 L1116.0,361.4 L1111.0,357.1 L1106.3,352.6 L1101.7,348.1 L1097.4,343.6 L1093.3,339.0 L1089.4,334.4 L1085.7,329.8 L1082.3,325.1 L1079.0,320.4 L1076.0,315.6 L1073.2,310.8 L1070.6,306.0 L1068.3,301.2 L1066.1,296.3 L1064.2,291.4 L1062.5,286.5 L1061.1,281.6 L1059.8,276.6 L1058.8,271.7 L1058.0,266.7 L1057.5,261.7 L1057.1,256.8 L1057.0,251.8 L1057.1,246.8 L1057.5,241.9 L1058.0,236.9 L1058.8,231.9 L1059.8,227.0 L1061.1,222.0 L1062.5,217.1 L1064.2,212.2 L1066.1,207.3 L1068.3,202.4 L1070.6,197.6 L1073.2,192.8 L1076.0,188.0 L1079.0,183.2 L1082.3,178.5 L1085.7,173.8 L1089.4,169.2 L1093.3,164.6 L1097.4,160.0 L1101.7,155.5 L1106.3,151.0 L1111.0,146.5 L1116.0,142.2 L1121.1,137.9 L1126.5,133.6 L1132.1,129.4 L1137.8,125.2 L1143.8,121.2 L1150.0,117.1 L1156.3,113.2 L1162.9,109.3 L1169.7,105.5 L1176.6,101.8 L1183.7,98.2 L1191.1,94.6 L1198.6,91.1 L1206.2,87.7 L1214.1,84.4 L1222.1,81.2 L1230.3,78.1 L1238.7,75.0 L1247.2,72.1 L1255.9,69.3 L1264.8,66.5 L1273.8,63.9 L1282.9,61.4 L1292.2,59.0 L1301.6,56.7 L1311.2,54.5 L1320.9,52.4 L1330.7,50.5 L1340.7,48.7 L1350.8,47.0 L1360.9,45.4 L1371.2,43.9 L1381.6,42.6 L1392.1,41.4 L1402.7,40.3 L1413.4,39.4 L1424.1,38.6 M1424.1,465.0 L1414.5,463.5 L1405.0,462.0 L1395.7,460.3 L1386.5,458.5 L1377.4,456.6 L1368.5,454.6 L1359.7,452.5 L1351.0,450.3 L1342.5,448.0 L1334.2,445.6 L1326.0,443.1 L1317.9,440.5 L1310.0,437.8 L1302.2,435.1 L1294.6,432.3 L1287.2,429.3 L1279.9,426.4 L1272.8,423.3 L1265.8,420.1 L1259.0,416.9 L1252.3,413.7 L1245.8,410.3 L1239.5,406.9 L1233.3,403.4 L1227.3,399.9 L1221.4,396.3 L1215.7,392.6 L1210.2,388.9 L1204.9,385.2 L1199.7,381.4 L1194.6,377.5 L1189.8,373.6 L1185.1,369.7 L1180.6,365.7 L1176.2,361.6 L1172.0,357.5 L1168.0,353.4 L1164.2,349.3 L1160.5,345.1 L1157.0,340.8 L1153.6,336.6 L1150.4,332.3 L1147.4,328.0 L1144.6,323.6 L1141.9,319.3 L1139.5,314.9 L1137.1,310.5 L1135.0,306.0 L1133.0,301.6 L1131.2,297.1 L1129.6,292.6 L1128.1,288.1 L1126.8,283.6 L1125.7,279.1 L1124.8,274.6 L1124.0,270.0 L1123.4,265.5 L1122.9,260.9 L1122.7,256.4 L1122.6,251.8 L1122.7,247.2 L1122.9,242.7 L1123.4,238.1 L1124.0,233.6 L1124.8,229.0 L1125.7,224.5 L1126.8,220.0 L1128.1,215.5 L1129.6,211.0 L1131.2,206.5 L1133.0,202.0 L1135.0,197.6 L1137.1,193.1 L1139.5,188.7 L1141.9,184.3 L1144.6,180.0 L1147.4,175.6 L1150.4,171.3 L1153.6,167.0 L1157.0,162.8 L1160.5,158.5 L1164.2,154.3 L1168.0,150.2 L1172.0,146.1 L1176.2,142.0 L1180.6,137.9 L1185.1,133.9 L1189.8,130.0 L1194.6,126.1 L1199.7,122.2 L1204.9,118.4 L1210.2,114.7 L1215.7,111.0 L1221.4,107.3 L1227.3,103.7 L1233.3,100.2 L1239.5,96.7 L1245.8,93.3 L1252.3,89.9 L1259.0,86.7 L1265.8,83.5 L1272.8,80.3 L1279.9,77.2 L1287.2,74.3 L1294.6,71.3 L1302.2,68.5 L1310.0,65.8 L1317.9,63.1 L1326.0,60.5 L1334.2,58.0 L1342.5,55.6 L1351.0,53.3 L1359.7,51.1 L1368.5,49.0 L1377.4,47.0 L1386.5,45.1 L1395.7,43.3 L1405.0,41.6 L1414.5,40.1 L1424.1,38.6 M1424.1,465.0 L1416.3,463.0 L1408.6,460.9 L1401.1,458.7 L1393.7,456.4 L1386.4,454.0 L1379.3,451.6 L1372.4,449.1 L1365.6,446.5 L1358.9,443.9 L1352.4,441.1 L1346.0,438.3 L1339.7,435.5 L1333.6,432.6 L1327.6,429.6 L1321.7,426.5 L1316.0,423.4 L1310.5,420.3 L1305.0,417.1 L1299.7,413.8 L1294.5,410.5 L1289.5,407.1 L1284.6,403.7 L1279.8,400.3 L1275.2,396.8 L1270.6,393.2 L1266.3,389.6 L1262.0,386.0 L1257.9,382.3 L1253.9,378.6 L1250.0,374.9 L1246.3,371.1 L1242.7,367.3 L1239.2,363.5 L1235.9,359.6 L1232.7,355.7 L1229.6,351.7 L1226.6,347.8 L1223.8,343.8 L1221.1,339.8 L1218.5,335.7 L1216.0,331.7 L1213.7,327.6 L1211.5,323.5 L1209.4,319.4 L1207.5,315.3 L1205.6,311.1 L1203.9,306.9 L1202.4,302.7 L1200.9,298.5 L1199.6,294.3 L1198.4,290.1 L1197.4,285.9 L1196.4,281.6 L1195.6,277.4 L1194.9,273.1 L1194.3,268.9 L1193.9,264.6 L1193.6,260.3 L1193.4,256.1 L1193.3,251.8 L1193.4,247.5 L1193.6,243.3 L1193.9,239.0 L1194.3,234.7 L1194.9,230.5 L1195.6,226.2 L1196.4,222.0 L1197.4,217.7 L1198.4,213.5 L1199.6,209.3 L1200.9,205.1 L1202.4,200.9 L1203.9,196.7 L1205.6,192.5 L1207.5,188.3 L1209.4,184.2 L1211.5,180.1 L1213.7,176.0 L1216.0,171.9 L1218.5,167.9 L1221.1,163.8 L1223.8,159.8 L1226.6,155.8 L1229.6,151.9 L1232.7,147.9 L1235.9,144.0 L1239.2,140.1 L1242.7,136.3 L1246.3,132.5 L1250.0,128.7 L1253.9,125.0 L1257.9,121.3 L1262.0,117.6 L1266.3,114.0 L1270.6,110.4 L1275.2,106.8 L1279.8,103.3 L1284.6,99.9 L1289.5,96.5 L1294.5,93.1 L1299.7,89.8 L1305.0,86.5 L1310.5,83.3 L1316.0,80.2 L1321.7,77.1 L1327.6,74.0 L1333.6,71.0 L1339.7,68.1 L1346.0,65.3 L1352.4,62.5 L1358.9,59.7 L1365.6,57.1 L1372.4,54.5 L1379.3,52.0 L1386.4,49.6 L1393.7,47.2 L1401.1,44.9 L1408.6,42.7 L1416.3,40.6 L1424.1,38.6 M1424.1,465.0 L1418.6,462.5 L1413.2,460.0 L1407.9,457.5 L1402.8,454.8 L1397.7,452.1 L1392.8,449.4 L1388.0,446.6 L1383.3,443.8 L1378.7,440.9 L1374.2,437.9 L1369.9,434.9 L1365.6,431.9 L1361.4,428.8 L1357.4,425.7 L1353.4,422.5 L1349.5,419.3 L1345.8,416.0 L1342.1,412.7 L1338.5,409.4 L1335.1,406.0 L1331.7,402.6 L1328.4,399.2 L1325.2,395.7 L1322.1,392.2 L1319.1,388.7 L1316.2,385.1 L1313.3,381.5 L1310.6,377.9 L1307.9,374.2 L1305.4,370.5 L1302.9,366.8 L1300.5,363.1 L1298.2,359.3 L1296.0,355.5 L1293.9,351.7 L1291.8,347.9 L1289.9,344.0 L1288.0,340.2 L1286.2,336.3 L1284.5,332.4 L1282.9,328.5 L1281.4,324.5 L1279.9,320.6 L1278.6,316.6 L1277.3,312.6 L1276.1,308.6 L1275.0,304.6 L1274.0,300.6 L1273.0,296.6 L1272.1,292.5 L1271.4,288.5 L1270.7,284.4 L1270.0,280.4 L1269.5,276.3 L1269.1,272.2 L1268.7,268.1 L1268.4,264.1 L1268.2,260.0 L1268.1,255.9 L1268.0,251.8 L1268.1,247.7 L1268.2,243.6 L1268.4,239.5 L1268.7,235.5 L1269.1,231.4 L1269.5,227.3 L1270.0,223.2 L1270.7,219.2 L1271.4,215.1 L1272.1,211.1 L1273.0,207.0 L1274.0,203.0 L1275.0,199.0 L1276.1,195.0 L1277.3,191.0 L1278.6,187.0 L1279.9,183.0 L1281.4,179.1 L1282.9,175.1 L1284.5,171.2 L1286.2,167.3 L1288.0,163.4 L1289.9,159.6 L1291.8,155.7 L1293.9,151.9 L1296.0,148.1 L1298.2,144.3 L1300.5,140.5 L1302.9,136.8 L1305.4,133.1 L1307.9,129.4 L1310.6,125.7 L1313.3,122.1 L1316.2,118.5 L1319.1,114.9 L1322.1,111.4 L1325.2,107.9 L1328.4,104.4 L1331.7,101.0 L1335.1,97.6 L1338.5,94.2 L1342.1,90.9 L1345.8,87.6 L1349.5,84.3 L1353.4,81.1 L1357.4,77.9 L1361.4,74.8 L1365.6,71.7 L1369.9,68.7 L1374.2,65.7 L1378.7,62.7 L1383.3,59.8 L1388.0,57.0 L1392.8,54.2 L1397.7,51.5 L1402.8,48.8 L1407.9,46.1 L1413.2,43.6 L1418.6,41.1 L1424.1,38.6 M1424.1,465.0 L1421.2,462.3 L1418.5,459.5 L1415.8,456.7 L1413.1,453.9 L1410.5,451.0 L1408.0,448.1 L1405.6,445.1 L1403.2,442.1 L1400.8,439.1 L1398.6,436.0 L1396.3,432.9 L1394.2,429.7 L1392.1,426.6 L1390.0,423.3 L1388.0,420.1 L1386.1,416.8 L1384.2,413.5 L1382.3,410.2 L1380.5,406.8 L1378.8,403.4 L1377.1,400.0 L1375.4,396.5 L1373.8,393.1 L1372.3,389.5 L1370.8,386.0 L1369.3,382.5 L1367.9,378.9 L1366.5,375.3 L1365.2,371.7 L1363.9,368.0 L1362.7,364.3 L1361.5,360.6 L1360.4,356.9 L1359.3,353.2 L1358.2,349.5 L1357.2,345.7 L1356.2,341.9 L1355.3,338.1 L1354.4,334.3 L1353.6,330.5 L1352.8,326.6 L1352.0,322.8 L1351.3,318.9 L1350.6,315.0 L1350.0,311.1 L1349.4,307.2 L1348.8,303.3 L1348.3,299.4 L1347.9,295.4 L1347.4,291.5 L1347.0,287.5 L1346.7,283.6 L1346.4,279.6 L1346.1,275.7 L1345.9,271.7 L1345.7,267.7 L1345.6,263.7 L1345.5,259.8 L1345.4,255.8 L1345.4,251.8 L1345.4,247.8 L1345.5,243.8 L1345.6,239.9 L1345.7,235.9 L1345.9,231.9 L1346.1,227.9 L1346.4,224.0 L1346.7,220.0 L1347.0,216.1 L1347.4,212.1 L1347.9,208.2 L1348.3,204.2 L1348.8,200.3 L1349.4,196.4 L1350.0,192.5 L1350.6,188.6 L1351.3,184.7 L1352.0,180.8 L1352.8,177.0 L1353.6,173.1 L1354.4,169.3 L1355.3,165.5 L1356.2,161.7 L1357.2,157.9 L1358.2,154.1 L1359.3,150.4 L1360.4,146.7 L1361.5,143.0 L1362.7,139.3 L1363.9,135.6 L1365.2,131.9 L1366.5,128.3 L1367.9,124.7 L1369.3,121.1 L1370.8,117.6 L1372.3,114.1 L1373.8,110.5 L1375.4,107.1 L1377.1,103.6 L1378.8,100.2 L1380.5,96.8 L1382.3,93.4 L1384.2,90.1 L1386.1,86.8 L1388.0,83.5 L1390.0,80.3 L1392.1,77.0 L1394.2,73.9 L1396.3,70.7 L1398.6,67.6 L1400.8,64.5 L1403.2,61.5 L1405.6,58.5 L1408.0,55.5 L1410.5,52.6 L1413.1,49.7 L1415.8,46.9 L1418.5,44.1 L1421.2,41.3 L1424.1,38.6 M1424.1,465.0 L1424.1,462.2 L1424.1,459.3 L1424.1,456.5 L1424.1,453.5 L1424.1,450.6 L1424.1,447.6 L1424.1,444.6 L1424.1,441.5 L1424.1,438.5 L1424.1,435.3 L1424.1,432.2 L1424.1,429.0 L1424.1,425.8 L1424.1,422.6 L1424.1,419.3 L1424.1,416.0 L1424.1,412.7 L1424.1,409.3 L1424.1,406.0 L1424.1,402.6 L1424.1,399.1 L1424.1,395.7 L1424.1,392.2 L1424.1,388.7 L1424.1,385.2 L1424.1,381.6 L1424.1,378.0 L1424.1,374.4 L1424.1,370.8 L1424.1,367.2 L1424.1,363.5 L1424.1,359.8 L1424.1,356.2 L1424.1,352.4 L1424.1,348.7 L1424.1,345.0 L1424.1,341.2 L1424.1,337.4 L1424.1,333.6 L1424.1,329.8 L1424.1,326.0 L1424.1,322.2 L1424.1,318.3 L1424.1,314.5 L1424.1,310.6 L1424.1,306.7 L1424.1,302.9 L1424.1,299.0 L1424.1,295.1 L1424.1,291.2 L1424.1,287.2 L1424.1,283.3 L1424.1,279.4 L1424.1,275.5 L1424.1,271.5 L1424.1,267.6 L1424.1,263.6 L1424.1,259.7 L1424.1,255.7 L1424.1,251.8 L1424.1,247.9 L1424.1,243.9 L1424.1,240.0 L1424.1,236.0 L1424.1,232.1 L1424.1,228.1 L1424.1,224.2 L1424.1,220.3 L1424.1,216.4 L1424.1,212.4 L1424.1,208.5 L1424.1,204.6 L1424.1,200.7 L1424.1,196.9 L1424.1,193.0 L1424.1,189.1 L1424.1,185.3 L1424.1,181.4 L1424.1,177.6 L1424.1,173.8 L1424.1,170.0 L1424.1,166.2 L1424.1,162.4 L1424.1,158.6 L1424.1,154.9 L1424.1,151.2 L1424.1,147.4 L1424.1,143.8 L1424.1,140.1 L1424.1,136.4 L1424.1,132.8 L1424.1,129.2 L1424.1,125.6 L1424.1,122.0 L1424.1,118.4 L1424.1,114.9 L1424.1,111.4 L1424.1,107.9 L1424.1,104.5 L1424.1,101.0 L1424.1,97.6 L1424.1,94.3 L1424.1,90.9 L1424.1,87.6 L1424.1,84.3 L1424.1,81.0 L1424.1,77.8 L1424.1,74.6 L1424.1,71.4 L1424.1,68.3 L1424.1,65.1 L1424.1,62.1 L1424.1,59.0 L1424.1,56.0 L1424.1,53.0 L1424.1,50.1 L1424.1,47.1 L1424.1,44.3 L1424.1,41.4 L1424.1,38.6 M1424.1,465.0 L1427.0,462.3 L1429.7,459.5 L1432.4,456.7 L1435.1,453.9 L1437.7,451.0 L1440.2,448.1 L1442.6,445.1 L1445.0,442.1 L1447.4,439.1 L1449.6,436.0 L1451.9,432.9 L1454.0,429.7 L1456.1,426.6 L1458.2,423.3 L1460.2,420.1 L1462.1,416.8 L1464.0,413.5 L1465.9,410.2 L1467.7,406.8 L1469.4,403.4 L1471.1,400.0 L1472.8,396.5 L1474.4,393.1 L1475.9,389.5 L1477.4,386.0 L1478.9,382.5 L1480.3,378.9 L1481.7,375.3 L1483.0,371.7 L1484.3,368.0 L1485.5,364.3 L1486.7,360.6 L1487.8,356.9 L1488.9,353.2 L1490.0,349.5 L1491.0,345.7 L1492.0,341.9 L1492.9,338.1 L1493.8,334.3 L1494.6,330.5 L1495.4,326.6 L1496.2,322.8 L1496.9,318.9 L1497.6,315.0 L1498.2,311.1 L1498.8,307.2 L1499.4,303.3 L1499.9,299.4 L1500.3,295.4 L1500.8,291.5 L1501.2,287.5 L1501.5,283.6 L1501.8,279.6 L1502.1,275.7 L1502.3,271.7 L1502.5,267.7 L1502.6,263.7 L1502.7,259.8 L1502.8,255.8 L1502.8,251.8 L1502.8,247.8 L1502.7,243.8 L1502.6,239.9 L1502.5,235.9 L1502.3,231.9 L1502.1,227.9 L1501.8,224.0 L1501.5,220.0 L1501.2,216.1 L1500.8,212.1 L1500.3,208.2 L1499.9,204.2 L1499.4,200.3 L1498.8,196.4 L1498.2,192.5 L1497.6,188.6 L1496.9,184.7 L1496.2,180.8 L1495.4,177.0 L1494.6,173.1 L1493.8,169.3 L1492.9,165.5 L1492.0,161.7 L1491.0,157.9 L1490.0,154.1 L1488.9,150.4 L1487.8,146.7 L1486.7,143.0 L1485.5,139.3 L1484.3,135.6 L1483.0,131.9 L1481.7,128.3 L1480.3,124.7 L1478.9,121.1 L1477.4,117.6 L1475.9,114.1 L1474.4,110.5 L1472.8,107.1 L1471.1,103.6 L1469.4,100.2 L1467.7,96.8 L1465.9,93.4 L1464.0,90.1 L1462.1,86.8 L1460.2,83.5 L1458.2,80.3 L1456.1,77.0 L1454.0,73.9 L1451.9,70.7 L1449.6,67.6 L1447.4,64.5 L1445.0,61.5 L1442.6,58.5 L1440.2,55.5 L1437.7,52.6 L1435.1,49.7 L1432.4,46.9 L1429.7,44.1 L1427.0,41.3 L1424.1,38.6 M1424.1,465.0 L1429.6,462.5 L1435.0,460.0 L1440.3,457.5 L1445.4,454.8 L1450.5,452.1 L1455.4,449.4 L1460.2,446.6 L1464.9,443.8 L1469.5,440.9 L1474.0,437.9 L1478.3,434.9 L1482.6,431.9 L1486.8,428.8 L1490.8,425.7 L1494.8,422.5 L1498.7,419.3 L1502.4,416.0 L1506.1,412.7 L1509.7,409.4 L1513.1,406.0 L1516.5,402.6 L1519.8,399.2 L1523.0,395.7 L1526.1,392.2 L1529.1,388.7 L1532.0,385.1 L1534.9,381.5 L1537.6,377.9 L1540.3,374.2 L1542.8,370.5 L1545.3,366.8 L1547.7,363.1 L1550.0,359.3 L1552.2,355.5 L1554.3,351.7 L1556.4,347.9 L1558.3,344.0 L1560.2,340.2 L1562.0,336.3 L1563.7,332.4 L1565.3,328.5 L1566.8,324.5 L1568.3,320.6 L1569.6,316.6 L1570.9,312.6 L1572.1,308.6 L1573.2,304.6 L1574.2,300.6 L1575.2,296.6 L1576.1,292.5 L1576.8,288.5 L1577.5,284.4 L1578.2,280.4 L1578.7,276.3 L1579.1,272.2 L1579.5,268.1 L1579.8,264.1 L1580.0,260.0 L1580.1,255.9 L1580.2,251.8 L1580.1,247.7 L1580.0,243.6 L1579.8,239.5 L1579.5,235.5 L1579.1,231.4 L1578.7,227.3 L1578.2,223.2 L1577.5,219.2 L1576.8,215.1 L1576.1,211.1 L1575.2,207.0 L1574.2,203.0 L1573.2,199.0 L1572.1,195.0 L1570.9,191.0 L1569.6,187.0 L1568.3,183.0 L1566.8,179.1 L1565.3,175.1 L1563.7,171.2 L1562.0,167.3 L1560.2,163.4 L1558.3,159.6 L1556.4,155.7 L1554.3,151.9 L1552.2,148.1 L1550.0,144.3 L1547.7,140.5 L1545.3,136.8 L1542.8,133.1 L1540.3,129.4 L1537.6,125.7 L1534.9,122.1 L1532.0,118.5 L1529.1,114.9 L1526.1,111.4 L1523.0,107.9 L1519.8,104.4 L1516.5,101.0 L1513.1,97.6 L1509.7,94.2 L1506.1,90.9 L1502.4,87.6 L1498.7,84.3 L1494.8,81.1 L1490.8,77.9 L1486.8,74.8 L1482.6,71.7 L1478.3,68.7 L1474.0,65.7 L1469.5,62.7 L1464.9,59.8 L1460.2,57.0 L1455.4,54.2 L1450.5,51.5 L1445.4,48.8 L1440.3,46.1 L1435.0,43.6 L1429.6,41.1 L1424.1,38.6 M1424.1,465.0 L1431.9,463.0 L1439.6,460.9 L1447.1,458.7 L1454.5,456.4 L1461.8,454.0 L1468.9,451.6 L1475.8,449.1 L1482.6,446.5 L1489.3,443.9 L1495.8,441.1 L1502.2,438.3 L1508.5,435.5 L1514.6,432.6 L1520.6,429.6 L1526.5,426.5 L1532.2,423.4 L1537.7,420.3 L1543.2,417.1 L1548.5,413.8 L1553.7,410.5 L1558.7,407.1 L1563.6,403.7 L1568.4,400.3 L1573.0,396.8 L1577.6,393.2 L1581.9,389.6 L1586.2,386.0 L1590.3,382.3 L1594.3,378.6 L1598.2,374.9 L1601.9,371.1 L1605.5,367.3 L1609.0,363.5 L1612.3,359.6 L1615.5,355.7 L1618.6,351.7 L1621.6,347.8 L1624.4,343.8 L1627.1,339.8 L1629.7,335.7 L1632.2,331.7 L1634.5,327.6 L1636.7,323.5 L1638.8,319.4 L1640.7,315.3 L1642.6,311.1 L1644.3,306.9 L1645.8,302.7 L1647.3,298.5 L1648.6,294.3 L1649.8,290.1 L1650.8,285.9 L1651.8,281.6 L1652.6,277.4 L1653.3,273.1 L1653.9,268.9 L1654.3,264.6 L1654.6,260.3 L1654.8,256.1 L1654.9,251.8 L1654.8,247.5 L1654.6,243.3 L1654.3,239.0 L1653.9,234.7 L1653.3,230.5 L1652.6,226.2 L1651.8,222.0 L1650.8,217.7 L1649.8,213.5 L1648.6,209.3 L1647.3,205.1 L1645.8,200.9 L1644.3,196.7 L1642.6,192.5 L1640.7,188.3 L1638.8,184.2 L1636.7,180.1 L1634.5,176.0 L1632.2,171.9 L1629.7,167.9 L1627.1,163.8 L1624.4,159.8 L1621.6,155.8 L1618.6,151.9 L1615.5,147.9 L1612.3,144.0 L1609.0,140.1 L1605.5,136.3 L1601.9,132.5 L1598.2,128.7 L1594.3,125.0 L1590.3,121.3 L1586.2,117.6 L1581.9,114.0 L1577.6,110.4 L1573.0,106.8 L1568.4,103.3 L1563.6,99.9 L1558.7,96.5 L1553.7,93.1 L1548.5,89.8 L1543.2,86.5 L1537.7,83.3 L1532.2,80.2 L1526.5,77.1 L1520.6,74.0 L1514.6,71.0 L1508.5,68.1 L1502.2,65.3 L1495.8,62.5 L1489.3,59.7 L1482.6,57.1 L1475.8,54.5 L1468.9,52.0 L1461.8,49.6 L1454.5,47.2 L1447.1,44.9 L1439.6,42.7 L1431.9,40.6 L1424.1,38.6 M1424.1,465.0 L1433.7,463.5 L1443.2,462.0 L1452.5,460.3 L1461.7,458.5 L1470.8,456.6 L1479.7,454.6 L1488.5,452.5 L1497.2,450.3 L1505.7,448.0 L1514.0,445.6 L1522.2,443.1 L1530.3,440.5 L1538.2,437.8 L1546.0,435.1 L1553.6,432.3 L1561.0,429.3 L1568.3,426.4 L1575.4,423.3 L1582.4,420.1 L1589.2,416.9 L1595.9,413.7 L1602.4,410.3 L1608.7,406.9 L1614.9,403.4 L1620.9,399.9 L1626.8,396.3 L1632.5,392.6 L1638.0,388.9 L1643.3,385.2 L1648.5,381.4 L1653.6,377.5 L1658.4,373.6 L1663.1,369.7 L1667.6,365.7 L1672.0,361.6 L1676.2,357.5 L1680.2,353.4 L1684.0,349.3 L1687.7,345.1 L1691.2,340.8 L1694.6,336.6 L1697.8,332.3 L1700.8,328.0 L1703.6,323.6 L1706.3,319.3 L1708.7,314.9 L1711.1,310.5 L1713.2,306.0 L1715.2,301.6 L1717.0,297.1 L1718.6,292.6 L1720.1,288.1 L1721.4,283.6 L1722.5,279.1 L1723.4,274.6 L1724.2,270.0 L1724.8,265.5 L1725.3,260.9 L1725.5,256.4 L1725.6,251.8 L1725.5,247.2 L1725.3,242.7 L1724.8,238.1 L1724.2,233.6 L1723.4,229.0 L1722.5,224.5 L1721.4,220.0 L1720.1,215.5 L1718.6,211.0 L1717.0,206.5 L1715.2,202.0 L1713.2,197.6 L1711.1,193.1 L1708.7,188.7 L1706.3,184.3 L1703.6,180.0 L1700.8,175.6 L1697.8,171.3 L1694.6,167.0 L1691.2,162.8 L1687.7,158.5 L1684.0,154.3 L1680.2,150.2 L1676.2,146.1 L1672.0,142.0 L1667.6,137.9 L1663.1,133.9 L1658.4,130.0 L1653.6,126.1 L1648.5,122.2 L1643.3,118.4 L1638.0,114.7 L1632.5,111.0 L1626.8,107.3 L1620.9,103.7 L1614.9,100.2 L1608.7,96.7 L1602.4,93.3 L1595.9,89.9 L1589.2,86.7 L1582.4,83.5 L1575.4,80.3 L1568.3,77.2 L1561.0,74.3 L1553.6,71.3 L1546.0,68.5 L1538.2,65.8 L1530.3,63.1 L1522.2,60.5 L1514.0,58.0 L1505.7,55.6 L1497.2,53.3 L1488.5,51.1 L1479.7,49.0 L1470.8,47.0 L1461.7,45.1 L1452.5,43.3 L1443.2,41.6 L1433.7,40.1 L1424.1,38.6 M1424.1,465.0 L1434.8,464.2 L1445.5,463.3 L1456.1,462.2 L1466.6,461.0 L1477.0,459.7 L1487.3,458.2 L1497.4,456.6 L1507.5,454.9 L1517.5,453.1 L1527.3,451.2 L1537.0,449.1 L1546.6,446.9 L1556.0,444.6 L1565.3,442.2 L1574.4,439.7 L1583.4,437.1 L1592.3,434.3 L1601.0,431.5 L1609.5,428.6 L1617.9,425.5 L1626.1,422.4 L1634.1,419.2 L1642.0,415.9 L1649.6,412.5 L1657.1,409.0 L1664.5,405.4 L1671.6,401.8 L1678.5,398.1 L1685.3,394.3 L1691.9,390.4 L1698.2,386.5 L1704.4,382.4 L1710.4,378.4 L1716.1,374.2 L1721.7,370.0 L1727.1,365.7 L1732.2,361.4 L1737.2,357.1 L1741.9,352.6 L1746.5,348.1 L1750.8,343.6 L1754.9,339.0 L1758.8,334.4 L1762.5,329.8 L1765.9,325.1 L1769.2,320.4 L1772.2,315.6 L1775.0,310.8 L1777.6,306.0 L1779.9,301.2 L1782.1,296.3 L1784.0,291.4 L1785.7,286.5 L1787.1,281.6 L1788.4,276.6 L1789.4,271.7 L1790.2,266.7 L1790.7,261.7 L1791.1,256.8 L1791.2,251.8 L1791.1,246.8 L1790.7,241.9 L1790.2,236.9 L1789.4,231.9 L1788.4,227.0 L1787.1,222.0 L1785.7,217.1 L1784.0,212.2 L1782.1,207.3 L1779.9,202.4 L1777.6,197.6 L1775.0,192.8 L1772.2,188.0 L1769.2,183.2 L1765.9,178.5 L1762.5,173.8 L1758.8,169.2 L1754.9,164.6 L1750.8,160.0 L1746.5,155.5 L1741.9,151.0 L1737.2,146.5 L1732.2,142.2 L1727.1,137.9 L1721.7,133.6 L1716.1,129.4 L1710.4,125.2 L1704.4,121.2 L1698.2,117.1 L1691.9,113.2 L1685.3,109.3 L1678.5,105.5 L1671.6,101.8 L1664.5,98.2 L1657.1,94.6 L1649.6,91.1 L1642.0,87.7 L1634.1,84.4 L1626.1,81.2 L1617.9,78.1 L1609.5,75.0 L1601.0,72.1 L1592.3,69.3 L1583.4,66.5 L1574.4,63.9 L1565.3,61.4 L1556.0,59.0 L1546.6,56.7 L1537.0,54.5 L1527.3,52.4 L1517.5,50.5 L1507.5,48.7 L1497.4,47.0 L1487.3,45.4 L1477.0,43.9 L1466.6,42.6 L1456.1,41.4 L1445.5,40.3 L1434.8,39.4 L1424.1,38.6 M1313.7,457.7 L1314.2,457.0 L1314.6,456.3 L1315.2,455.7 L1315.8,455.0 L1316.5,454.3 L1317.2,453.7 L1318.1,453.0 L1318.9,452.4 L1319.9,451.8 L1320.9,451.2 L1322.0,450.6 L1323.1,450.0 L1324.3,449.4 L1325.5,448.8 L1326.8,448.2 L1328.2,447.7 L1329.6,447.1 L1331.1,446.6 L1332.6,446.1 L1334.2,445.6 L1335.8,445.1 L1337.5,444.6 L1339.2,444.1 L1340.9,443.7 L1342.7,443.2 L1344.6,442.8 L1346.5,442.3 L1348.4,441.9 L1350.4,441.5 L1352.4,441.1 L1354.4,440.8 L1356.5,440.4 L1358.6,440.0 L1360.7,439.7 L1362.9,439.4 L1365.1,439.1 L1367.4,438.8 L1369.6,438.5 L1371.9,438.2 L1374.2,437.9 L1376.6,437.7 L1378.9,437.4 L1381.3,437.2 L1383.7,437.0 L1386.2,436.8 L1388.6,436.6 L1391.1,436.4 L1393.6,436.3 L1396.0,436.1 L1398.6,436.0 L1401.1,435.9 L1403.6,435.8 L1406.1,435.7 L1408.7,435.6 L1411.3,435.5 L1413.8,435.4 L1416.4,435.4 L1419.0,435.4 L1421.5,435.3 L1424.1,435.3 L1426.7,435.3 L1429.2,435.4 L1431.8,435.4 L1434.4,435.4 L1436.9,435.5 L1439.5,435.6 L1442.1,435.7 L1444.6,435.8 L1447.1,435.9 L1449.6,436.0 L1452.2,436.1 L1454.6,436.3 L1457.1,436.4 L1459.6,436.6 L1462.0,436.8 L1464.5,437.0 L1466.9,437.2 L1469.3,437.4 L1471.6,437.7 L1474.0,437.9 L1476.3,438.2 L1478.6,438.5 L1480.8,438.8 L1483.1,439.1 L1485.3,439.4 L1487.5,439.7 L1489.6,440.0 L1491.7,440.4 L1493.8,440.8 L1495.8,441.1 L1497.8,441.5 L1499.8,441.9 L1501.7,442.3 L1503.6,442.8 L1505.5,443.2 L1507.3,443.7 L1509.0,444.1 L1510.7,444.6 L1512.4,445.1 L1514.0,445.6 L1515.6,446.1 L1517.1,446.6 L1518.6,447.1 L1520.0,447.7 L1521.4,448.2 L1522.7,448.8 L1523.9,449.4 L1525.1,450.0 L1526.2,450.6 L1527.3,451.2 L1528.3,451.8 L1529.3,452.4 L1530.1,453.0 L1531.0,453.7 L1531.7,454.3 L1532.4,455.0 L1533.0,455.7 L1533.6,456.3 L1534.0,457.0 L1534.5,457.7 M1210.9,436.4 L1212.4,435.2 L1213.9,434.1 L1215.6,432.9 L1217.4,431.8 L1219.3,430.7 L1221.3,429.6 L1223.4,428.6 L1225.6,427.5 L1227.9,426.5 L1230.3,425.5 L1232.8,424.6 L1235.4,423.6 L1238.1,422.7 L1240.8,421.8 L1243.6,421.0 L1246.6,420.1 L1249.5,419.3 L1252.6,418.5 L1255.8,417.7 L1259.0,416.9 L1262.2,416.2 L1265.6,415.5 L1269.0,414.8 L1272.5,414.1 L1276.0,413.5 L1279.6,412.8 L1283.3,412.2 L1287.0,411.6 L1290.7,411.0 L1294.5,410.5 L1298.4,410.0 L1302.3,409.4 L1306.2,409.0 L1310.2,408.5 L1314.3,408.0 L1318.4,407.6 L1322.5,407.2 L1326.6,406.8 L1330.8,406.4 L1335.1,406.0 L1339.3,405.7 L1343.6,405.4 L1347.9,405.1 L1352.3,404.8 L1356.6,404.5 L1361.0,404.2 L1365.4,404.0 L1369.9,403.8 L1374.3,403.6 L1378.8,403.4 L1383.3,403.2 L1387.8,403.1 L1392.3,403.0 L1396.8,402.9 L1401.3,402.8 L1405.9,402.7 L1410.4,402.6 L1415.0,402.6 L1419.5,402.6 L1424.1,402.6 L1428.7,402.6 L1433.2,402.6 L1437.8,402.6 L1442.3,402.7 L1446.9,402.8 L1451.4,402.9 L1455.9,403.0 L1460.4,403.1 L1464.9,403.2 L1469.4,403.4 L1473.9,403.6 L1478.3,403.8 L1482.8,404.0 L1487.2,404.2 L1491.6,404.5 L1495.9,404.8 L1500.3,405.1 L1504.6,405.4 L1508.9,405.7 L1513.1,406.0 L1517.4,406.4 L1521.6,406.8 L1525.7,407.2 L1529.8,407.6 L1533.9,408.0 L1538.0,408.5 L1542.0,409.0 L1545.9,409.4 L1549.8,410.0 L1553.7,410.5 L1557.5,411.0 L1561.2,411.6 L1564.9,412.2 L1568.6,412.8 L1572.2,413.5 L1575.7,414.1 L1579.2,414.8 L1582.6,415.5 L1586.0,416.2 L1589.2,416.9 L1592.4,417.7 L1595.6,418.5 L1598.7,419.3 L1601.6,420.1 L1604.6,421.0 L1607.4,421.8 L1610.1,422.7 L1612.8,423.6 L1615.4,424.6 L1617.9,425.5 L1620.3,426.5 L1622.6,427.5 L1624.8,428.6 L1626.9,429.6 L1628.9,430.7 L1630.8,431.8 L1632.6,432.9 L1634.3,434.1 L1635.8,435.2 L1637.3,436.4 M1122.6,402.6 L1125.5,401.2 L1128.4,399.8 L1131.5,398.5 L1134.8,397.3 L1138.1,396.0 L1141.5,394.8 L1145.1,393.7 L1148.7,392.6 L1152.5,391.5 L1156.3,390.4 L1160.3,389.4 L1164.3,388.4 L1168.5,387.4 L1172.7,386.5 L1177.0,385.5 L1181.4,384.7 L1185.8,383.8 L1190.4,383.0 L1195.0,382.2 L1199.7,381.4 L1204.4,380.6 L1209.3,379.9 L1214.1,379.2 L1219.1,378.5 L1224.1,377.8 L1229.2,377.2 L1234.3,376.6 L1239.5,376.0 L1244.7,375.4 L1250.0,374.9 L1255.4,374.4 L1260.8,373.9 L1266.2,373.4 L1271.7,372.9 L1277.2,372.5 L1282.8,372.0 L1288.4,371.6 L1294.0,371.2 L1299.7,370.9 L1305.4,370.5 L1311.1,370.2 L1316.9,369.9 L1322.7,369.6 L1328.5,369.3 L1334.4,369.0 L1340.2,368.8 L1346.1,368.6 L1352.1,368.4 L1358.0,368.2 L1363.9,368.0 L1369.9,367.8 L1375.9,367.7 L1381.9,367.6 L1387.9,367.5 L1393.9,367.4 L1400.0,367.3 L1406.0,367.3 L1412.0,367.2 L1418.1,367.2 L1424.1,367.2 L1430.1,367.2 L1436.2,367.2 L1442.2,367.3 L1448.2,367.3 L1454.3,367.4 L1460.3,367.5 L1466.3,367.6 L1472.3,367.7 L1478.3,367.8 L1484.3,368.0 L1490.2,368.2 L1496.1,368.4 L1502.1,368.6 L1508.0,368.8 L1513.8,369.0 L1519.7,369.3 L1525.5,369.6 L1531.3,369.9 L1537.1,370.2 L1542.8,370.5 L1548.5,370.9 L1554.2,371.2 L1559.8,371.6 L1565.4,372.0 L1571.0,372.5 L1576.5,372.9 L1582.0,373.4 L1587.4,373.9 L1592.8,374.4 L1598.2,374.9 L1603.5,375.4 L1608.7,376.0 L1613.9,376.6 L1619.0,377.2 L1624.1,377.8 L1629.1,378.5 L1634.1,379.2 L1638.9,379.9 L1643.8,380.6 L1648.5,381.4 L1653.2,382.2 L1657.8,383.0 L1662.4,383.8 L1666.8,384.7 L1671.2,385.5 L1675.5,386.5 L1679.7,387.4 L1683.9,388.4 L1687.9,389.4 L1691.9,390.4 L1695.7,391.5 L1699.5,392.6 L1703.1,393.7 L1706.7,394.8 L1710.1,396.0 L1713.4,397.3 L1716.7,398.5 L1719.8,399.8 L1722.7,401.2 L1725.6,402.6 M1054.8,358.4 L1059.1,357.2 L1063.4,356.1 L1067.9,354.9 L1072.4,353.9 L1077.1,352.8 L1081.8,351.8 L1086.7,350.9 L1091.6,349.9 L1096.6,349.0 L1101.7,348.1 L1106.9,347.3 L1112.2,346.5 L1117.5,345.7 L1122.9,344.9 L1128.4,344.2 L1134.0,343.5 L1139.6,342.8 L1145.4,342.1 L1151.1,341.5 L1157.0,340.8 L1162.9,340.2 L1168.8,339.7 L1174.8,339.1 L1180.9,338.6 L1187.0,338.1 L1193.2,337.6 L1199.5,337.1 L1205.8,336.6 L1212.1,336.2 L1218.5,335.7 L1224.9,335.3 L1231.4,334.9 L1237.9,334.6 L1244.4,334.2 L1251.0,333.9 L1257.7,333.5 L1264.3,333.2 L1271.0,332.9 L1277.8,332.6 L1284.5,332.4 L1291.3,332.1 L1298.2,331.9 L1305.0,331.7 L1311.9,331.4 L1318.8,331.2 L1325.7,331.1 L1332.6,330.9 L1339.6,330.7 L1346.6,330.6 L1353.6,330.5 L1360.6,330.3 L1367.6,330.2 L1374.6,330.1 L1381.7,330.1 L1388.7,330.0 L1395.8,329.9 L1402.9,329.9 L1409.9,329.9 L1417.0,329.8 L1424.1,329.8 L1431.2,329.8 L1438.3,329.9 L1445.3,329.9 L1452.4,329.9 L1459.5,330.0 L1466.5,330.1 L1473.6,330.1 L1480.6,330.2 L1487.6,330.3 L1494.6,330.5 L1501.6,330.6 L1508.6,330.7 L1515.6,330.9 L1522.5,331.1 L1529.4,331.2 L1536.3,331.4 L1543.2,331.7 L1550.0,331.9 L1556.9,332.1 L1563.7,332.4 L1570.4,332.6 L1577.2,332.9 L1583.9,333.2 L1590.5,333.5 L1597.2,333.9 L1603.8,334.2 L1610.3,334.6 L1616.8,334.9 L1623.3,335.3 L1629.7,335.7 L1636.1,336.2 L1642.4,336.6 L1648.7,337.1 L1655.0,337.6 L1661.2,338.1 L1667.3,338.6 L1673.4,339.1 L1679.4,339.7 L1685.3,340.2 L1691.2,340.8 L1697.1,341.5 L1702.8,342.1 L1708.6,342.8 L1714.2,343.5 L1719.8,344.2 L1725.3,344.9 L1730.7,345.7 L1736.0,346.5 L1741.3,347.3 L1746.5,348.1 L1751.6,349.0 L1756.6,349.9 L1761.5,350.9 L1766.4,351.8 L1771.1,352.8 L1775.8,353.9 L1780.3,354.9 L1784.8,356.1 L1789.1,357.2 L1793.4,358.4 M1012.2,307.0 L1017.5,306.3 L1022.8,305.6 L1028.2,305.0 L1033.7,304.4 L1039.3,303.8 L1045.0,303.2 L1050.7,302.7 L1056.5,302.2 L1062.3,301.6 L1068.3,301.2 L1074.3,300.7 L1080.4,300.2 L1086.5,299.8 L1092.7,299.4 L1099.0,298.9 L1105.3,298.6 L1111.7,298.2 L1118.1,297.8 L1124.6,297.5 L1131.2,297.1 L1137.8,296.8 L1144.5,296.5 L1151.2,296.2 L1158.0,295.9 L1164.8,295.6 L1171.7,295.3 L1178.6,295.1 L1185.6,294.8 L1192.6,294.6 L1199.6,294.3 L1206.7,294.1 L1213.8,293.9 L1221.0,293.7 L1228.2,293.5 L1235.4,293.3 L1242.7,293.1 L1250.0,293.0 L1257.4,292.8 L1264.7,292.7 L1272.1,292.5 L1279.6,292.4 L1287.0,292.3 L1294.5,292.1 L1302.0,292.0 L1309.5,291.9 L1317.1,291.8 L1324.6,291.7 L1332.2,291.6 L1339.8,291.6 L1347.4,291.5 L1355.1,291.4 L1362.7,291.4 L1370.3,291.3 L1378.0,291.3 L1385.7,291.2 L1393.4,291.2 L1401.0,291.2 L1408.7,291.2 L1416.4,291.2 L1424.1,291.2 L1431.8,291.2 L1439.5,291.2 L1447.2,291.2 L1454.8,291.2 L1462.5,291.2 L1470.2,291.3 L1477.9,291.3 L1485.5,291.4 L1493.1,291.4 L1500.8,291.5 L1508.4,291.6 L1516.0,291.6 L1523.6,291.7 L1531.1,291.8 L1538.7,291.9 L1546.2,292.0 L1553.7,292.1 L1561.2,292.3 L1568.6,292.4 L1576.1,292.5 L1583.5,292.7 L1590.8,292.8 L1598.2,293.0 L1605.5,293.1 L1612.8,293.3 L1620.0,293.5 L1627.2,293.7 L1634.4,293.9 L1641.5,294.1 L1648.6,294.3 L1655.6,294.6 L1662.6,294.8 L1669.6,295.1 L1676.5,295.3 L1683.4,295.6 L1690.2,295.9 L1697.0,296.2 L1703.7,296.5 L1710.4,296.8 L1717.0,297.1 L1723.6,297.5 L1730.1,297.8 L1736.5,298.2 L1742.9,298.6 L1749.2,298.9 L1755.5,299.4 L1761.7,299.8 L1767.8,300.2 L1773.9,300.7 L1779.9,301.2 L1785.9,301.6 L1791.7,302.2 L1797.5,302.7 L1803.2,303.2 L1808.9,303.8 L1814.5,304.4 L1820.0,305.0 L1825.4,305.6 L1830.7,306.3 L1836.0,307.0 M997.7,251.8 L1003.3,251.8 L1009.0,251.8 L1014.8,251.8 L1020.6,251.8 L1026.5,251.8 L1032.5,251.8 L1038.5,251.8 L1044.6,251.8 L1050.8,251.8 L1057.0,251.8 L1063.3,251.8 L1069.7,251.8 L1076.1,251.8 L1082.6,251.8 L1089.1,251.8 L1095.7,251.8 L1102.3,251.8 L1109.0,251.8 L1115.8,251.8 L1122.6,251.8 L1129.5,251.8 L1136.4,251.8 L1143.3,251.8 L1150.3,251.8 L1157.4,251.8 L1164.5,251.8 L1171.6,251.8 L1178.8,251.8 L1186.1,251.8 L1193.3,251.8 L1200.7,251.8 L1208.0,251.8 L1215.4,251.8 L1222.8,251.8 L1230.3,251.8 L1237.8,251.8 L1245.3,251.8 L1252.8,251.8 L1260.4,251.8 L1268.0,251.8 L1275.7,251.8 L1283.3,251.8 L1291.0,251.8 L1298.7,251.8 L1306.5,251.8 L1314.2,251.8 L1322.0,251.8 L1329.8,251.8 L1337.6,251.8 L1345.4,251.8 L1353.2,251.8 L1361.1,251.8 L1368.9,251.8 L1376.8,251.8 L1384.7,251.8 L1392.5,251.8 L1400.4,251.8 L1408.3,251.8 L1416.2,251.8 L1424.1,251.8 L1432.0,251.8 L1439.9,251.8 L1447.8,251.8 L1455.7,251.8 L1463.5,251.8 L1471.4,251.8 L1479.3,251.8 L1487.1,251.8 L1495.0,251.8 L1502.8,251.8 L1510.6,251.8 L1518.4,251.8 L1526.2,251.8 L1534.0,251.8 L1541.7,251.8 L1549.5,251.8 L1557.2,251.8 L1564.9,251.8 L1572.5,251.8 L1580.2,251.8 L1587.8,251.8 L1595.4,251.8 L1602.9,251.8 L1610.4,251.8 L1617.9,251.8 L1625.4,251.8 L1632.8,251.8 L1640.2,251.8 L1647.5,251.8 L1654.9,251.8 L1662.1,251.8 L1669.4,251.8 L1676.6,251.8 L1683.7,251.8 L1690.8,251.8 L1697.9,251.8 L1704.9,251.8 L1711.8,251.8 L1718.7,251.8 L1725.6,251.8 L1732.4,251.8 L1739.2,251.8 L1745.9,251.8 L1752.5,251.8 L1759.1,251.8 L1765.6,251.8 L1772.1,251.8 L1778.5,251.8 L1784.9,251.8 L1791.2,251.8 L1797.4,251.8 L1803.6,251.8 L1809.7,251.8 L1815.7,251.8 L1821.7,251.8 L1827.6,251.8 L1833.4,251.8 L1839.2,251.8 L1844.9,251.8 L1850.5,251.8 M1012.2,196.6 L1017.5,197.3 L1022.8,198.0 L1028.2,198.6 L1033.7,199.2 L1039.3,199.8 L1045.0,200.4 L1050.7,200.9 L1056.5,201.4 L1062.3,202.0 L1068.3,202.4 L1074.3,202.9 L1080.4,203.4 L1086.5,203.8 L1092.7,204.2 L1099.0,204.7 L1105.3,205.0 L1111.7,205.4 L1118.1,205.8 L1124.6,206.1 L1131.2,206.5 L1137.8,206.8 L1144.5,207.1 L1151.2,207.4 L1158.0,207.7 L1164.8,208.0 L1171.7,208.3 L1178.6,208.5 L1185.6,208.8 L1192.6,209.0 L1199.6,209.3 L1206.7,209.5 L1213.8,209.7 L1221.0,209.9 L1228.2,210.1 L1235.4,210.3 L1242.7,210.5 L1250.0,210.6 L1257.4,210.8 L1264.7,210.9 L1272.1,211.1 L1279.6,211.2 L1287.0,211.3 L1294.5,211.5 L1302.0,211.6 L1309.5,211.7 L1317.1,211.8 L1324.6,211.9 L1332.2,212.0 L1339.8,212.0 L1347.4,212.1 L1355.1,212.2 L1362.7,212.2 L1370.3,212.3 L1378.0,212.3 L1385.7,212.4 L1393.4,212.4 L1401.0,212.4 L1408.7,212.4 L1416.4,212.4 L1424.1,212.4 L1431.8,212.4 L1439.5,212.4 L1447.2,212.4 L1454.8,212.4 L1462.5,212.4 L1470.2,212.3 L1477.9,212.3 L1485.5,212.2 L1493.1,212.2 L1500.8,212.1 L1508.4,212.0 L1516.0,212.0 L1523.6,211.9 L1531.1,211.8 L1538.7,211.7 L1546.2,211.6 L1553.7,211.5 L1561.2,211.3 L1568.6,211.2 L1576.1,211.1 L1583.5,210.9 L1590.8,210.8 L1598.2,210.6 L1605.5,210.5 L1612.8,210.3 L1620.0,210.1 L1627.2,209.9 L1634.4,209.7 L1641.5,209.5 L1648.6,209.3 L1655.6,209.0 L1662.6,208.8 L1669.6,208.5 L1676.5,208.3 L1683.4,208.0 L1690.2,207.7 L1697.0,207.4 L1703.7,207.1 L1710.4,206.8 L1717.0,206.5 L1723.6,206.1 L1730.1,205.8 L1736.5,205.4 L1742.9,205.0 L1749.2,204.7 L1755.5,204.2 L1761.7,203.8 L1767.8,203.4 L1773.9,202.9 L1779.9,202.4 L1785.9,202.0 L1791.7,201.4 L1797.5,200.9 L1803.2,200.4 L1808.9,199.8 L1814.5,199.2 L1820.0,198.6 L1825.4,198.0 L1830.7,197.3 L1836.0,196.6 M1054.8,145.2 L1059.1,146.4 L1063.4,147.5 L1067.9,148.7 L1072.4,149.7 L1077.1,150.8 L1081.8,151.8 L1086.7,152.7 L1091.6,153.7 L1096.6,154.6 L1101.7,155.5 L1106.9,156.3 L1112.2,157.1 L1117.5,157.9 L1122.9,158.7 L1128.4,159.4 L1134.0,160.1 L1139.6,160.8 L1145.4,161.5 L1151.1,162.1 L1157.0,162.8 L1162.9,163.4 L1168.8,163.9 L1174.8,164.5 L1180.9,165.0 L1187.0,165.5 L1193.2,166.0 L1199.5,166.5 L1205.8,167.0 L1212.1,167.4 L1218.5,167.9 L1224.9,168.3 L1231.4,168.7 L1237.9,169.0 L1244.4,169.4 L1251.0,169.7 L1257.7,170.1 L1264.3,170.4 L1271.0,170.7 L1277.8,171.0 L1284.5,171.2 L1291.3,171.5 L1298.2,171.7 L1305.0,171.9 L1311.9,172.2 L1318.8,172.4 L1325.7,172.5 L1332.6,172.7 L1339.6,172.9 L1346.6,173.0 L1353.6,173.1 L1360.6,173.3 L1367.6,173.4 L1374.6,173.5 L1381.7,173.5 L1388.7,173.6 L1395.8,173.7 L1402.9,173.7 L1409.9,173.7 L1417.0,173.8 L1424.1,173.8 L1431.2,173.8 L1438.3,173.7 L1445.3,173.7 L1452.4,173.7 L1459.5,173.6 L1466.5,173.5 L1473.6,173.5 L1480.6,173.4 L1487.6,173.3 L1494.6,173.1 L1501.6,173.0 L1508.6,172.9 L1515.6,172.7 L1522.5,172.5 L1529.4,172.4 L1536.3,172.2 L1543.2,171.9 L1550.0,171.7 L1556.9,171.5 L1563.7,171.2 L1570.4,171.0 L1577.2,170.7 L1583.9,170.4 L1590.5,170.1 L1597.2,169.7 L1603.8,169.4 L1610.3,169.0 L1616.8,168.7 L1623.3,168.3 L1629.7,167.9 L1636.1,167.4 L1642.4,167.0 L1648.7,166.5 L1655.0,166.0 L1661.2,165.5 L1667.3,165.0 L1673.4,164.5 L1679.4,163.9 L1685.3,163.4 L1691.2,162.8 L1697.1,162.1 L1702.8,161.5 L1708.6,160.8 L1714.2,160.1 L1719.8,159.4 L1725.3,158.7 L1730.7,157.9 L1736.0,157.1 L1741.3,156.3 L1746.5,155.5 L1751.6,154.6 L1756.6,153.7 L1761.5,152.7 L1766.4,151.8 L1771.1,150.8 L1775.8,149.7 L1780.3,148.7 L1784.8,147.5 L1789.1,146.4 L1793.4,145.2 M1122.6,101.1 L1125.5,102.4 L1128.4,103.8 L1131.5,105.1 L1134.8,106.3 L1138.1,107.6 L1141.5,108.8 L1145.1,109.9 L1148.7,111.0 L1152.5,112.1 L1156.3,113.2 L1160.3,114.2 L1164.3,115.2 L1168.5,116.2 L1172.7,117.1 L1177.0,118.1 L1181.4,118.9 L1185.8,119.8 L1190.4,120.6 L1195.0,121.4 L1199.7,122.2 L1204.4,123.0 L1209.3,123.7 L1214.1,124.4 L1219.1,125.1 L1224.1,125.8 L1229.2,126.4 L1234.3,127.0 L1239.5,127.6 L1244.7,128.2 L1250.0,128.7 L1255.4,129.2 L1260.8,129.7 L1266.2,130.2 L1271.7,130.7 L1277.2,131.1 L1282.8,131.6 L1288.4,132.0 L1294.0,132.4 L1299.7,132.7 L1305.4,133.1 L1311.1,133.4 L1316.9,133.7 L1322.7,134.0 L1328.5,134.3 L1334.4,134.6 L1340.2,134.8 L1346.1,135.0 L1352.1,135.2 L1358.0,135.4 L1363.9,135.6 L1369.9,135.8 L1375.9,135.9 L1381.9,136.0 L1387.9,136.1 L1393.9,136.2 L1400.0,136.3 L1406.0,136.3 L1412.0,136.4 L1418.1,136.4 L1424.1,136.4 L1430.1,136.4 L1436.2,136.4 L1442.2,136.3 L1448.2,136.3 L1454.3,136.2 L1460.3,136.1 L1466.3,136.0 L1472.3,135.9 L1478.3,135.8 L1484.3,135.6 L1490.2,135.4 L1496.1,135.2 L1502.1,135.0 L1508.0,134.8 L1513.8,134.6 L1519.7,134.3 L1525.5,134.0 L1531.3,133.7 L1537.1,133.4 L1542.8,133.1 L1548.5,132.7 L1554.2,132.4 L1559.8,132.0 L1565.4,131.6 L1571.0,131.1 L1576.5,130.7 L1582.0,130.2 L1587.4,129.7 L1592.8,129.2 L1598.2,128.7 L1603.5,128.2 L1608.7,127.6 L1613.9,127.0 L1619.0,126.4 L1624.1,125.8 L1629.1,125.1 L1634.1,124.4 L1638.9,123.7 L1643.8,123.0 L1648.5,122.2 L1653.2,121.4 L1657.8,120.6 L1662.4,119.8 L1666.8,118.9 L1671.2,118.1 L1675.5,117.1 L1679.7,116.2 L1683.9,115.2 L1687.9,114.2 L1691.9,113.2 L1695.7,112.1 L1699.5,111.0 L1703.1,109.9 L1706.7,108.8 L1710.1,107.6 L1713.4,106.3 L1716.7,105.1 L1719.8,103.8 L1722.7,102.4 L1725.6,101.1 M1210.9,67.2 L1212.4,68.4 L1213.9,69.5 L1215.6,70.7 L1217.4,71.8 L1219.3,72.9 L1221.3,74.0 L1223.4,75.0 L1225.6,76.1 L1227.9,77.1 L1230.3,78.1 L1232.8,79.0 L1235.4,80.0 L1238.1,80.9 L1240.8,81.8 L1243.6,82.6 L1246.6,83.5 L1249.5,84.3 L1252.6,85.1 L1255.8,85.9 L1259.0,86.7 L1262.2,87.4 L1265.6,88.1 L1269.0,88.8 L1272.5,89.5 L1276.0,90.1 L1279.6,90.8 L1283.3,91.4 L1287.0,92.0 L1290.7,92.6 L1294.5,93.1 L1298.4,93.6 L1302.3,94.2 L1306.2,94.6 L1310.2,95.1 L1314.3,95.6 L1318.4,96.0 L1322.5,96.4 L1326.6,96.8 L1330.8,97.2 L1335.1,97.6 L1339.3,97.9 L1343.6,98.2 L1347.9,98.5 L1352.3,98.8 L1356.6,99.1 L1361.0,99.4 L1365.4,99.6 L1369.9,99.8 L1374.3,100.0 L1378.8,100.2 L1383.3,100.4 L1387.8,100.5 L1392.3,100.6 L1396.8,100.7 L1401.3,100.8 L1405.9,100.9 L1410.4,101.0 L1415.0,101.0 L1419.5,101.0 L1424.1,101.0 L1428.7,101.0 L1433.2,101.0 L1437.8,101.0 L1442.3,100.9 L1446.9,100.8 L1451.4,100.7 L1455.9,100.6 L1460.4,100.5 L1464.9,100.4 L1469.4,100.2 L1473.9,100.0 L1478.3,99.8 L1482.8,99.6 L1487.2,99.4 L1491.6,99.1 L1495.9,98.8 L1500.3,98.5 L1504.6,98.2 L1508.9,97.9 L1513.1,97.6 L1517.4,97.2 L1521.6,96.8 L1525.7,96.4 L1529.8,96.0 L1533.9,95.6 L1538.0,95.1 L1542.0,94.6 L1545.9,94.2 L1549.8,93.6 L1553.7,93.1 L1557.5,92.6 L1561.2,92.0 L1564.9,91.4 L1568.6,90.8 L1572.2,90.1 L1575.7,89.5 L1579.2,88.8 L1582.6,88.1 L1586.0,87.4 L1589.2,86.7 L1592.4,85.9 L1595.6,85.1 L1598.7,84.3 L1601.6,83.5 L1604.6,82.6 L1607.4,81.8 L1610.1,80.9 L1612.8,80.0 L1615.4,79.0 L1617.9,78.1 L1620.3,77.1 L1622.6,76.1 L1624.8,75.0 L1626.9,74.0 L1628.9,72.9 L1630.8,71.8 L1632.6,70.7 L1634.3,69.5 L1635.8,68.4 L1637.3,67.2 M1313.7,45.9 L1314.2,46.6 L1314.6,47.3 L1315.2,47.9 L1315.8,48.6 L1316.5,49.3 L1317.2,49.9 L1318.1,50.6 L1318.9,51.2 L1319.9,51.8 L1320.9,52.4 L1322.0,53.0 L1323.1,53.6 L1324.3,54.2 L1325.5,54.8 L1326.8,55.4 L1328.2,55.9 L1329.6,56.5 L1331.1,57.0 L1332.6,57.5 L1334.2,58.0 L1335.8,58.5 L1337.5,59.0 L1339.2,59.5 L1340.9,59.9 L1342.7,60.4 L1344.6,60.8 L1346.5,61.3 L1348.4,61.7 L1350.4,62.1 L1352.4,62.5 L1354.4,62.8 L1356.5,63.2 L1358.6,63.6 L1360.7,63.9 L1362.9,64.2 L1365.1,64.5 L1367.4,64.8 L1369.6,65.1 L1371.9,65.4 L1374.2,65.7 L1376.6,65.9 L1378.9,66.2 L1381.3,66.4 L1383.7,66.6 L1386.2,66.8 L1388.6,67.0 L1391.1,67.2 L1393.6,67.3 L1396.0,67.5 L1398.6,67.6 L1401.1,67.7 L1403.6,67.8 L1406.1,67.9 L1408.7,68.0 L1411.3,68.1 L1413.8,68.2 L1416.4,68.2 L1419.0,68.2 L1421.5,68.3 L1424.1,68.3 L1426.7,68.3 L1429.2,68.2 L1431.8,68.2 L1434.4,68.2 L1436.9,68.1 L1439.5,68.0 L1442.1,67.9 L1444.6,67.8 L1447.1,67.7 L1449.6,67.6 L1452.2,67.5 L1454.6,67.3 L1457.1,67.2 L1459.6,67.0 L1462.0,66.8 L1464.5,66.6 L1466.9,66.4 L1469.3,66.2 L1471.6,65.9 L1474.0,65.7 L1476.3,65.4 L1478.6,65.1 L1480.8,64.8 L1483.1,64.5 L1485.3,64.2 L1487.5,63.9 L1489.6,63.6 L1491.7,63.2 L1493.8,62.8 L1495.8,62.5 L1497.8,62.1 L1499.8,61.7 L1501.7,61.3 L1503.6,60.8 L1505.5,60.4 L1507.3,59.9 L1509.0,59.5 L1510.7,59.0 L1512.4,58.5 L1514.0,58.0 L1515.6,57.5 L1517.1,57.0 L1518.6,56.5 L1520.0,55.9 L1521.4,55.4 L1522.7,54.8 L1523.9,54.2 L1525.1,53.6 L1526.2,53.0 L1527.3,52.4 L1528.3,51.8 L1529.3,51.2 L1530.1,50.6 L1531.0,49.9 L1531.7,49.3 L1532.4,48.6 L1533.0,47.9 L1533.6,47.3 L1534.0,46.6 L1534.5,45.9" fill="none" stroke="#222" stroke-opacity="0.85" stroke-width="1.3" stroke-dasharray="2.2 6.6"/>
<defs><linearGradient id="mbcb"><stop offset="0.000" stop-color="rgb(45, 15, 80)"/><stop offset="0.100" stop-color="rgb(80, 45, 135)"/><stop offset="0.200" stop-color="rgb(115, 98, 160)"/><stop offset="0.300" stop-color="rgb(165, 158, 200)"/><stop offset="0.400" stop-color="rgb(205, 205, 228)"/><stop offset="0.500" stop-color="rgb(246, 246, 246)"/><stop offset="0.600" stop-color="rgb(248, 225, 180)"/><stop offset="0.700" stop-color="rgb(235, 180, 110)"/><stop offset="0.800" stop-color="rgb(210, 135, 50)"/><stop offset="0.900" stop-color="rgb(150, 85, 35)"/><stop offset="1.000" stop-color="rgb(110, 60, 25)"/></linearGradient></defs>
<rect x="1096.4" y="474.1" width="661.0" height="20.5" fill="url(#mbcb)" stroke="#111" stroke-width="1.6"/>
<line x1="1261.7" y1="494.6" x2="1261.7" y2="487.1" stroke="#333" stroke-width="1.5"/>
<line x1="1426.9" y1="494.6" x2="1426.9" y2="487.1" stroke="#333" stroke-width="1.5"/>
<line x1="1592.2" y1="494.6" x2="1592.2" y2="487.1" stroke="#333" stroke-width="1.5"/>
<text x="1096.4" y="531.6" font-size="29" text-anchor="middle">−1.0</text>
<text x="1261.7" y="531.6" font-size="29" text-anchor="middle">−0.5</text>
<text x="1426.9" y="531.6" font-size="29" text-anchor="middle">0</text>
<text x="1592.2" y="531.6" font-size="29" text-anchor="middle">0.5</text>
<text x="1757.4" y="531.6" font-size="29" text-anchor="middle">1.0</text>
<text x="1426.5" y="575.1" font-size="29" text-anchor="middle">mT</text>
<text transform="translate(997.8,38.6) scale(1.14,1)" font-size="32" font-weight="bold" style="stroke-width:1.3px">b</text>
<path d="M1424.1,1059.1 L1413.4,1058.3 L1402.7,1057.4 L1392.1,1056.3 L1381.6,1055.1 L1371.2,1053.8 L1360.9,1052.3 L1350.8,1050.7 L1340.7,1049.0 L1330.7,1047.2 L1320.9,1045.3 L1311.2,1043.2 L1301.6,1041.0 L1292.2,1038.7 L1282.9,1036.3 L1273.8,1033.8 L1264.8,1031.2 L1255.9,1028.4 L1247.2,1025.6 L1238.7,1022.7 L1230.3,1019.6 L1222.1,1016.5 L1214.1,1013.3 L1206.2,1010.0 L1198.6,1006.6 L1191.1,1003.1 L1183.7,999.5 L1176.6,995.9 L1169.7,992.2 L1162.9,988.4 L1156.3,984.5 L1150.0,980.6 L1143.8,976.5 L1137.8,972.5 L1132.1,968.3 L1126.5,964.1 L1121.1,959.8 L1116.0,955.5 L1111.0,951.2 L1106.3,946.7 L1101.7,942.2 L1097.4,937.7 L1093.3,933.1 L1089.4,928.5 L1085.7,923.9 L1082.3,919.2 L1079.0,914.5 L1076.0,909.7 L1073.2,904.9 L1070.6,900.1 L1068.3,895.3 L1066.1,890.4 L1064.2,885.5 L1062.5,880.6 L1061.1,875.7 L1059.8,870.7 L1058.8,865.8 L1058.0,860.8 L1057.5,855.8 L1057.1,850.9 L1057.0,845.9 L1057.1,840.9 L1057.5,836.0 L1058.0,831.0 L1058.8,826.0 L1059.8,821.1 L1061.1,816.1 L1062.5,811.2 L1064.2,806.3 L1066.1,801.4 L1068.3,796.5 L1070.6,791.7 L1073.2,786.9 L1076.0,782.1 L1079.0,777.3 L1082.3,772.6 L1085.7,767.9 L1089.4,763.3 L1093.3,758.7 L1097.4,754.1 L1101.7,749.6 L1106.3,745.1 L1111.0,740.6 L1116.0,736.3 L1121.1,732.0 L1126.5,727.7 L1132.1,723.5 L1137.8,719.3 L1143.8,715.3 L1150.0,711.2 L1156.3,707.3 L1162.9,703.4 L1169.7,699.6 L1176.6,695.9 L1183.7,692.3 L1191.1,688.7 L1198.6,685.2 L1206.2,681.8 L1214.1,678.5 L1222.1,675.3 L1230.3,672.2 L1238.7,669.1 L1247.2,666.2 L1255.9,663.4 L1264.8,660.6 L1273.8,658.0 L1282.9,655.5 L1292.2,653.1 L1301.6,650.8 L1311.2,648.6 L1320.9,646.5 L1330.7,644.6 L1340.7,642.8 L1350.8,641.1 L1360.9,639.5 L1371.2,638.0 L1381.6,636.7 L1392.1,635.5 L1402.7,634.4 L1413.4,633.5 L1424.1,632.7 M1424.1,1059.1 L1414.5,1057.6 L1405.0,1056.1 L1395.7,1054.4 L1386.5,1052.6 L1377.4,1050.7 L1368.5,1048.7 L1359.7,1046.6 L1351.0,1044.4 L1342.5,1042.1 L1334.2,1039.7 L1326.0,1037.2 L1317.9,1034.6 L1310.0,1031.9 L1302.2,1029.2 L1294.6,1026.4 L1287.2,1023.4 L1279.9,1020.5 L1272.8,1017.4 L1265.8,1014.2 L1259.0,1011.0 L1252.3,1007.8 L1245.8,1004.4 L1239.5,1001.0 L1233.3,997.5 L1227.3,994.0 L1221.4,990.4 L1215.7,986.7 L1210.2,983.0 L1204.9,979.3 L1199.7,975.5 L1194.6,971.6 L1189.8,967.7 L1185.1,963.8 L1180.6,959.8 L1176.2,955.7 L1172.0,951.6 L1168.0,947.5 L1164.2,943.4 L1160.5,939.2 L1157.0,934.9 L1153.6,930.7 L1150.4,926.4 L1147.4,922.1 L1144.6,917.7 L1141.9,913.4 L1139.5,909.0 L1137.1,904.6 L1135.0,900.1 L1133.0,895.7 L1131.2,891.2 L1129.6,886.7 L1128.1,882.2 L1126.8,877.7 L1125.7,873.2 L1124.8,868.7 L1124.0,864.1 L1123.4,859.6 L1122.9,855.0 L1122.7,850.5 L1122.6,845.9 L1122.7,841.3 L1122.9,836.8 L1123.4,832.2 L1124.0,827.7 L1124.8,823.1 L1125.7,818.6 L1126.8,814.1 L1128.1,809.6 L1129.6,805.1 L1131.2,800.6 L1133.0,796.1 L1135.0,791.7 L1137.1,787.2 L1139.5,782.8 L1141.9,778.4 L1144.6,774.1 L1147.4,769.7 L1150.4,765.4 L1153.6,761.1 L1157.0,756.9 L1160.5,752.6 L1164.2,748.4 L1168.0,744.3 L1172.0,740.2 L1176.2,736.1 L1180.6,732.0 L1185.1,728.0 L1189.8,724.1 L1194.6,720.2 L1199.7,716.3 L1204.9,712.5 L1210.2,708.8 L1215.7,705.1 L1221.4,701.4 L1227.3,697.8 L1233.3,694.3 L1239.5,690.8 L1245.8,687.4 L1252.3,684.0 L1259.0,680.8 L1265.8,677.6 L1272.8,674.4 L1279.9,671.3 L1287.2,668.4 L1294.6,665.4 L1302.2,662.6 L1310.0,659.9 L1317.9,657.2 L1326.0,654.6 L1334.2,652.1 L1342.5,649.7 L1351.0,647.4 L1359.7,645.2 L1368.5,643.1 L1377.4,641.1 L1386.5,639.2 L1395.7,637.4 L1405.0,635.7 L1414.5,634.2 L1424.1,632.7 M1424.1,1059.1 L1416.3,1057.1 L1408.6,1055.0 L1401.1,1052.8 L1393.7,1050.5 L1386.4,1048.1 L1379.3,1045.7 L1372.4,1043.2 L1365.6,1040.6 L1358.9,1038.0 L1352.4,1035.2 L1346.0,1032.4 L1339.7,1029.6 L1333.6,1026.7 L1327.6,1023.7 L1321.7,1020.6 L1316.0,1017.5 L1310.5,1014.4 L1305.0,1011.2 L1299.7,1007.9 L1294.5,1004.6 L1289.5,1001.2 L1284.6,997.8 L1279.8,994.4 L1275.2,990.9 L1270.6,987.3 L1266.3,983.7 L1262.0,980.1 L1257.9,976.4 L1253.9,972.7 L1250.0,969.0 L1246.3,965.2 L1242.7,961.4 L1239.2,957.6 L1235.9,953.7 L1232.7,949.8 L1229.6,945.8 L1226.6,941.9 L1223.8,937.9 L1221.1,933.9 L1218.5,929.8 L1216.0,925.8 L1213.7,921.7 L1211.5,917.6 L1209.4,913.5 L1207.5,909.4 L1205.6,905.2 L1203.9,901.0 L1202.4,896.8 L1200.9,892.6 L1199.6,888.4 L1198.4,884.2 L1197.4,880.0 L1196.4,875.7 L1195.6,871.5 L1194.9,867.2 L1194.3,863.0 L1193.9,858.7 L1193.6,854.4 L1193.4,850.2 L1193.3,845.9 L1193.4,841.6 L1193.6,837.4 L1193.9,833.1 L1194.3,828.8 L1194.9,824.6 L1195.6,820.3 L1196.4,816.1 L1197.4,811.8 L1198.4,807.6 L1199.6,803.4 L1200.9,799.2 L1202.4,795.0 L1203.9,790.8 L1205.6,786.6 L1207.5,782.4 L1209.4,778.3 L1211.5,774.2 L1213.7,770.1 L1216.0,766.0 L1218.5,762.0 L1221.1,757.9 L1223.8,753.9 L1226.6,749.9 L1229.6,746.0 L1232.7,742.0 L1235.9,738.1 L1239.2,734.2 L1242.7,730.4 L1246.3,726.6 L1250.0,722.8 L1253.9,719.1 L1257.9,715.4 L1262.0,711.7 L1266.3,708.1 L1270.6,704.5 L1275.2,700.9 L1279.8,697.4 L1284.6,694.0 L1289.5,690.6 L1294.5,687.2 L1299.7,683.9 L1305.0,680.6 L1310.5,677.4 L1316.0,674.3 L1321.7,671.2 L1327.6,668.1 L1333.6,665.1 L1339.7,662.2 L1346.0,659.4 L1352.4,656.6 L1358.9,653.8 L1365.6,651.2 L1372.4,648.6 L1379.3,646.1 L1386.4,643.7 L1393.7,641.3 L1401.1,639.0 L1408.6,636.8 L1416.3,634.7 L1424.1,632.7 M1424.1,1059.1 L1418.6,1056.6 L1413.2,1054.1 L1407.9,1051.6 L1402.8,1048.9 L1397.7,1046.2 L1392.8,1043.5 L1388.0,1040.7 L1383.3,1037.9 L1378.7,1035.0 L1374.2,1032.0 L1369.9,1029.0 L1365.6,1026.0 L1361.4,1022.9 L1357.4,1019.8 L1353.4,1016.6 L1349.5,1013.4 L1345.8,1010.1 L1342.1,1006.8 L1338.5,1003.5 L1335.1,1000.1 L1331.7,996.7 L1328.4,993.3 L1325.2,989.8 L1322.1,986.3 L1319.1,982.8 L1316.2,979.2 L1313.3,975.6 L1310.6,972.0 L1307.9,968.3 L1305.4,964.6 L1302.9,960.9 L1300.5,957.2 L1298.2,953.4 L1296.0,949.6 L1293.9,945.8 L1291.8,942.0 L1289.9,938.1 L1288.0,934.3 L1286.2,930.4 L1284.5,926.5 L1282.9,922.6 L1281.4,918.6 L1279.9,914.7 L1278.6,910.7 L1277.3,906.7 L1276.1,902.7 L1275.0,898.7 L1274.0,894.7 L1273.0,890.7 L1272.1,886.6 L1271.4,882.6 L1270.7,878.5 L1270.0,874.5 L1269.5,870.4 L1269.1,866.3 L1268.7,862.2 L1268.4,858.2 L1268.2,854.1 L1268.1,850.0 L1268.0,845.9 L1268.1,841.8 L1268.2,837.7 L1268.4,833.6 L1268.7,829.6 L1269.1,825.5 L1269.5,821.4 L1270.0,817.3 L1270.7,813.3 L1271.4,809.2 L1272.1,805.2 L1273.0,801.1 L1274.0,797.1 L1275.0,793.1 L1276.1,789.1 L1277.3,785.1 L1278.6,781.1 L1279.9,777.1 L1281.4,773.2 L1282.9,769.2 L1284.5,765.3 L1286.2,761.4 L1288.0,757.5 L1289.9,753.7 L1291.8,749.8 L1293.9,746.0 L1296.0,742.2 L1298.2,738.4 L1300.5,734.6 L1302.9,730.9 L1305.4,727.2 L1307.9,723.5 L1310.6,719.8 L1313.3,716.2 L1316.2,712.6 L1319.1,709.0 L1322.1,705.5 L1325.2,702.0 L1328.4,698.5 L1331.7,695.1 L1335.1,691.7 L1338.5,688.3 L1342.1,685.0 L1345.8,681.7 L1349.5,678.4 L1353.4,675.2 L1357.4,672.0 L1361.4,668.9 L1365.6,665.8 L1369.9,662.8 L1374.2,659.8 L1378.7,656.8 L1383.3,653.9 L1388.0,651.1 L1392.8,648.3 L1397.7,645.6 L1402.8,642.9 L1407.9,640.2 L1413.2,637.7 L1418.6,635.2 L1424.1,632.7 M1424.1,1059.1 L1421.2,1056.4 L1418.5,1053.6 L1415.8,1050.8 L1413.1,1048.0 L1410.5,1045.1 L1408.0,1042.2 L1405.6,1039.2 L1403.2,1036.2 L1400.8,1033.2 L1398.6,1030.1 L1396.3,1027.0 L1394.2,1023.8 L1392.1,1020.7 L1390.0,1017.4 L1388.0,1014.2 L1386.1,1010.9 L1384.2,1007.6 L1382.3,1004.3 L1380.5,1000.9 L1378.8,997.5 L1377.1,994.1 L1375.4,990.6 L1373.8,987.2 L1372.3,983.6 L1370.8,980.1 L1369.3,976.6 L1367.9,973.0 L1366.5,969.4 L1365.2,965.8 L1363.9,962.1 L1362.7,958.4 L1361.5,954.7 L1360.4,951.0 L1359.3,947.3 L1358.2,943.6 L1357.2,939.8 L1356.2,936.0 L1355.3,932.2 L1354.4,928.4 L1353.6,924.6 L1352.8,920.7 L1352.0,916.9 L1351.3,913.0 L1350.6,909.1 L1350.0,905.2 L1349.4,901.3 L1348.8,897.4 L1348.3,893.5 L1347.9,889.5 L1347.4,885.6 L1347.0,881.6 L1346.7,877.7 L1346.4,873.7 L1346.1,869.8 L1345.9,865.8 L1345.7,861.8 L1345.6,857.8 L1345.5,853.9 L1345.4,849.9 L1345.4,845.9 L1345.4,841.9 L1345.5,837.9 L1345.6,834.0 L1345.7,830.0 L1345.9,826.0 L1346.1,822.0 L1346.4,818.1 L1346.7,814.1 L1347.0,810.2 L1347.4,806.2 L1347.9,802.3 L1348.3,798.3 L1348.8,794.4 L1349.4,790.5 L1350.0,786.6 L1350.6,782.7 L1351.3,778.8 L1352.0,774.9 L1352.8,771.1 L1353.6,767.2 L1354.4,763.4 L1355.3,759.6 L1356.2,755.8 L1357.2,752.0 L1358.2,748.2 L1359.3,744.5 L1360.4,740.8 L1361.5,737.1 L1362.7,733.4 L1363.9,729.7 L1365.2,726.0 L1366.5,722.4 L1367.9,718.8 L1369.3,715.2 L1370.8,711.7 L1372.3,708.2 L1373.8,704.6 L1375.4,701.2 L1377.1,697.7 L1378.8,694.3 L1380.5,690.9 L1382.3,687.5 L1384.2,684.2 L1386.1,680.9 L1388.0,677.6 L1390.0,674.4 L1392.1,671.1 L1394.2,668.0 L1396.3,664.8 L1398.6,661.7 L1400.8,658.6 L1403.2,655.6 L1405.6,652.6 L1408.0,649.6 L1410.5,646.7 L1413.1,643.8 L1415.8,641.0 L1418.5,638.2 L1421.2,635.4 L1424.1,632.7 M1424.1,1059.1 L1424.1,1056.3 L1424.1,1053.4 L1424.1,1050.6 L1424.1,1047.6 L1424.1,1044.7 L1424.1,1041.7 L1424.1,1038.7 L1424.1,1035.6 L1424.1,1032.6 L1424.1,1029.4 L1424.1,1026.3 L1424.1,1023.1 L1424.1,1019.9 L1424.1,1016.7 L1424.1,1013.4 L1424.1,1010.1 L1424.1,1006.8 L1424.1,1003.4 L1424.1,1000.1 L1424.1,996.6 L1424.1,993.2 L1424.1,989.8 L1424.1,986.3 L1424.1,982.8 L1424.1,979.3 L1424.1,975.7 L1424.1,972.1 L1424.1,968.5 L1424.1,964.9 L1424.1,961.3 L1424.1,957.6 L1424.1,953.9 L1424.1,950.3 L1424.1,946.5 L1424.1,942.8 L1424.1,939.1 L1424.1,935.3 L1424.1,931.5 L1424.1,927.7 L1424.1,923.9 L1424.1,920.1 L1424.1,916.3 L1424.1,912.4 L1424.1,908.6 L1424.1,904.7 L1424.1,900.8 L1424.1,897.0 L1424.1,893.1 L1424.1,889.2 L1424.1,885.3 L1424.1,881.3 L1424.1,877.4 L1424.1,873.5 L1424.1,869.6 L1424.1,865.6 L1424.1,861.7 L1424.1,857.7 L1424.1,853.8 L1424.1,849.8 L1424.1,845.9 L1424.1,842.0 L1424.1,838.0 L1424.1,834.1 L1424.1,830.1 L1424.1,826.2 L1424.1,822.2 L1424.1,818.3 L1424.1,814.4 L1424.1,810.5 L1424.1,806.5 L1424.1,802.6 L1424.1,798.7 L1424.1,794.8 L1424.1,791.0 L1424.1,787.1 L1424.1,783.2 L1424.1,779.4 L1424.1,775.5 L1424.1,771.7 L1424.1,767.9 L1424.1,764.1 L1424.1,760.3 L1424.1,756.5 L1424.1,752.7 L1424.1,749.0 L1424.1,745.3 L1424.1,741.5 L1424.1,737.9 L1424.1,734.2 L1424.1,730.5 L1424.1,726.9 L1424.1,723.3 L1424.1,719.7 L1424.1,716.1 L1424.1,712.5 L1424.1,709.0 L1424.1,705.5 L1424.1,702.0 L1424.1,698.6 L1424.1,695.1 L1424.1,691.7 L1424.1,688.4 L1424.1,685.0 L1424.1,681.7 L1424.1,678.4 L1424.1,675.1 L1424.1,671.9 L1424.1,668.7 L1424.1,665.5 L1424.1,662.4 L1424.1,659.2 L1424.1,656.2 L1424.1,653.1 L1424.1,650.1 L1424.1,647.1 L1424.1,644.2 L1424.1,641.2 L1424.1,638.4 L1424.1,635.5 L1424.1,632.7 M1424.1,1059.1 L1427.0,1056.4 L1429.7,1053.6 L1432.4,1050.8 L1435.1,1048.0 L1437.7,1045.1 L1440.2,1042.2 L1442.6,1039.2 L1445.0,1036.2 L1447.4,1033.2 L1449.6,1030.1 L1451.9,1027.0 L1454.0,1023.8 L1456.1,1020.7 L1458.2,1017.4 L1460.2,1014.2 L1462.1,1010.9 L1464.0,1007.6 L1465.9,1004.3 L1467.7,1000.9 L1469.4,997.5 L1471.1,994.1 L1472.8,990.6 L1474.4,987.2 L1475.9,983.6 L1477.4,980.1 L1478.9,976.6 L1480.3,973.0 L1481.7,969.4 L1483.0,965.8 L1484.3,962.1 L1485.5,958.4 L1486.7,954.7 L1487.8,951.0 L1488.9,947.3 L1490.0,943.6 L1491.0,939.8 L1492.0,936.0 L1492.9,932.2 L1493.8,928.4 L1494.6,924.6 L1495.4,920.7 L1496.2,916.9 L1496.9,913.0 L1497.6,909.1 L1498.2,905.2 L1498.8,901.3 L1499.4,897.4 L1499.9,893.5 L1500.3,889.5 L1500.8,885.6 L1501.2,881.6 L1501.5,877.7 L1501.8,873.7 L1502.1,869.8 L1502.3,865.8 L1502.5,861.8 L1502.6,857.8 L1502.7,853.9 L1502.8,849.9 L1502.8,845.9 L1502.8,841.9 L1502.7,837.9 L1502.6,834.0 L1502.5,830.0 L1502.3,826.0 L1502.1,822.0 L1501.8,818.1 L1501.5,814.1 L1501.2,810.2 L1500.8,806.2 L1500.3,802.3 L1499.9,798.3 L1499.4,794.4 L1498.8,790.5 L1498.2,786.6 L1497.6,782.7 L1496.9,778.8 L1496.2,774.9 L1495.4,771.1 L1494.6,767.2 L1493.8,763.4 L1492.9,759.6 L1492.0,755.8 L1491.0,752.0 L1490.0,748.2 L1488.9,744.5 L1487.8,740.8 L1486.7,737.1 L1485.5,733.4 L1484.3,729.7 L1483.0,726.0 L1481.7,722.4 L1480.3,718.8 L1478.9,715.2 L1477.4,711.7 L1475.9,708.2 L1474.4,704.6 L1472.8,701.2 L1471.1,697.7 L1469.4,694.3 L1467.7,690.9 L1465.9,687.5 L1464.0,684.2 L1462.1,680.9 L1460.2,677.6 L1458.2,674.4 L1456.1,671.1 L1454.0,668.0 L1451.9,664.8 L1449.6,661.7 L1447.4,658.6 L1445.0,655.6 L1442.6,652.6 L1440.2,649.6 L1437.7,646.7 L1435.1,643.8 L1432.4,641.0 L1429.7,638.2 L1427.0,635.4 L1424.1,632.7 M1424.1,1059.1 L1429.6,1056.6 L1435.0,1054.1 L1440.3,1051.6 L1445.4,1048.9 L1450.5,1046.2 L1455.4,1043.5 L1460.2,1040.7 L1464.9,1037.9 L1469.5,1035.0 L1474.0,1032.0 L1478.3,1029.0 L1482.6,1026.0 L1486.8,1022.9 L1490.8,1019.8 L1494.8,1016.6 L1498.7,1013.4 L1502.4,1010.1 L1506.1,1006.8 L1509.7,1003.5 L1513.1,1000.1 L1516.5,996.7 L1519.8,993.3 L1523.0,989.8 L1526.1,986.3 L1529.1,982.8 L1532.0,979.2 L1534.9,975.6 L1537.6,972.0 L1540.3,968.3 L1542.8,964.6 L1545.3,960.9 L1547.7,957.2 L1550.0,953.4 L1552.2,949.6 L1554.3,945.8 L1556.4,942.0 L1558.3,938.1 L1560.2,934.3 L1562.0,930.4 L1563.7,926.5 L1565.3,922.6 L1566.8,918.6 L1568.3,914.7 L1569.6,910.7 L1570.9,906.7 L1572.1,902.7 L1573.2,898.7 L1574.2,894.7 L1575.2,890.7 L1576.1,886.6 L1576.8,882.6 L1577.5,878.5 L1578.2,874.5 L1578.7,870.4 L1579.1,866.3 L1579.5,862.2 L1579.8,858.2 L1580.0,854.1 L1580.1,850.0 L1580.2,845.9 L1580.1,841.8 L1580.0,837.7 L1579.8,833.6 L1579.5,829.6 L1579.1,825.5 L1578.7,821.4 L1578.2,817.3 L1577.5,813.3 L1576.8,809.2 L1576.1,805.2 L1575.2,801.1 L1574.2,797.1 L1573.2,793.1 L1572.1,789.1 L1570.9,785.1 L1569.6,781.1 L1568.3,777.1 L1566.8,773.2 L1565.3,769.2 L1563.7,765.3 L1562.0,761.4 L1560.2,757.5 L1558.3,753.7 L1556.4,749.8 L1554.3,746.0 L1552.2,742.2 L1550.0,738.4 L1547.7,734.6 L1545.3,730.9 L1542.8,727.2 L1540.3,723.5 L1537.6,719.8 L1534.9,716.2 L1532.0,712.6 L1529.1,709.0 L1526.1,705.5 L1523.0,702.0 L1519.8,698.5 L1516.5,695.1 L1513.1,691.7 L1509.7,688.3 L1506.1,685.0 L1502.4,681.7 L1498.7,678.4 L1494.8,675.2 L1490.8,672.0 L1486.8,668.9 L1482.6,665.8 L1478.3,662.8 L1474.0,659.8 L1469.5,656.8 L1464.9,653.9 L1460.2,651.1 L1455.4,648.3 L1450.5,645.6 L1445.4,642.9 L1440.3,640.2 L1435.0,637.7 L1429.6,635.2 L1424.1,632.7 M1424.1,1059.1 L1431.9,1057.1 L1439.6,1055.0 L1447.1,1052.8 L1454.5,1050.5 L1461.8,1048.1 L1468.9,1045.7 L1475.8,1043.2 L1482.6,1040.6 L1489.3,1038.0 L1495.8,1035.2 L1502.2,1032.4 L1508.5,1029.6 L1514.6,1026.7 L1520.6,1023.7 L1526.5,1020.6 L1532.2,1017.5 L1537.7,1014.4 L1543.2,1011.2 L1548.5,1007.9 L1553.7,1004.6 L1558.7,1001.2 L1563.6,997.8 L1568.4,994.4 L1573.0,990.9 L1577.6,987.3 L1581.9,983.7 L1586.2,980.1 L1590.3,976.4 L1594.3,972.7 L1598.2,969.0 L1601.9,965.2 L1605.5,961.4 L1609.0,957.6 L1612.3,953.7 L1615.5,949.8 L1618.6,945.8 L1621.6,941.9 L1624.4,937.9 L1627.1,933.9 L1629.7,929.8 L1632.2,925.8 L1634.5,921.7 L1636.7,917.6 L1638.8,913.5 L1640.7,909.4 L1642.6,905.2 L1644.3,901.0 L1645.8,896.8 L1647.3,892.6 L1648.6,888.4 L1649.8,884.2 L1650.8,880.0 L1651.8,875.7 L1652.6,871.5 L1653.3,867.2 L1653.9,863.0 L1654.3,858.7 L1654.6,854.4 L1654.8,850.2 L1654.9,845.9 L1654.8,841.6 L1654.6,837.4 L1654.3,833.1 L1653.9,828.8 L1653.3,824.6 L1652.6,820.3 L1651.8,816.1 L1650.8,811.8 L1649.8,807.6 L1648.6,803.4 L1647.3,799.2 L1645.8,795.0 L1644.3,790.8 L1642.6,786.6 L1640.7,782.4 L1638.8,778.3 L1636.7,774.2 L1634.5,770.1 L1632.2,766.0 L1629.7,762.0 L1627.1,757.9 L1624.4,753.9 L1621.6,749.9 L1618.6,746.0 L1615.5,742.0 L1612.3,738.1 L1609.0,734.2 L1605.5,730.4 L1601.9,726.6 L1598.2,722.8 L1594.3,719.1 L1590.3,715.4 L1586.2,711.7 L1581.9,708.1 L1577.6,704.5 L1573.0,700.9 L1568.4,697.4 L1563.6,694.0 L1558.7,690.6 L1553.7,687.2 L1548.5,683.9 L1543.2,680.6 L1537.7,677.4 L1532.2,674.3 L1526.5,671.2 L1520.6,668.1 L1514.6,665.1 L1508.5,662.2 L1502.2,659.4 L1495.8,656.6 L1489.3,653.8 L1482.6,651.2 L1475.8,648.6 L1468.9,646.1 L1461.8,643.7 L1454.5,641.3 L1447.1,639.0 L1439.6,636.8 L1431.9,634.7 L1424.1,632.7 M1424.1,1059.1 L1433.7,1057.6 L1443.2,1056.1 L1452.5,1054.4 L1461.7,1052.6 L1470.8,1050.7 L1479.7,1048.7 L1488.5,1046.6 L1497.2,1044.4 L1505.7,1042.1 L1514.0,1039.7 L1522.2,1037.2 L1530.3,1034.6 L1538.2,1031.9 L1546.0,1029.2 L1553.6,1026.4 L1561.0,1023.4 L1568.3,1020.5 L1575.4,1017.4 L1582.4,1014.2 L1589.2,1011.0 L1595.9,1007.8 L1602.4,1004.4 L1608.7,1001.0 L1614.9,997.5 L1620.9,994.0 L1626.8,990.4 L1632.5,986.7 L1638.0,983.0 L1643.3,979.3 L1648.5,975.5 L1653.6,971.6 L1658.4,967.7 L1663.1,963.8 L1667.6,959.8 L1672.0,955.7 L1676.2,951.6 L1680.2,947.5 L1684.0,943.4 L1687.7,939.2 L1691.2,934.9 L1694.6,930.7 L1697.8,926.4 L1700.8,922.1 L1703.6,917.7 L1706.3,913.4 L1708.7,909.0 L1711.1,904.6 L1713.2,900.1 L1715.2,895.7 L1717.0,891.2 L1718.6,886.7 L1720.1,882.2 L1721.4,877.7 L1722.5,873.2 L1723.4,868.7 L1724.2,864.1 L1724.8,859.6 L1725.3,855.0 L1725.5,850.5 L1725.6,845.9 L1725.5,841.3 L1725.3,836.8 L1724.8,832.2 L1724.2,827.7 L1723.4,823.1 L1722.5,818.6 L1721.4,814.1 L1720.1,809.6 L1718.6,805.1 L1717.0,800.6 L1715.2,796.1 L1713.2,791.7 L1711.1,787.2 L1708.7,782.8 L1706.3,778.4 L1703.6,774.1 L1700.8,769.7 L1697.8,765.4 L1694.6,761.1 L1691.2,756.9 L1687.7,752.6 L1684.0,748.4 L1680.2,744.3 L1676.2,740.2 L1672.0,736.1 L1667.6,732.0 L1663.1,728.0 L1658.4,724.1 L1653.6,720.2 L1648.5,716.3 L1643.3,712.5 L1638.0,708.8 L1632.5,705.1 L1626.8,701.4 L1620.9,697.8 L1614.9,694.3 L1608.7,690.8 L1602.4,687.4 L1595.9,684.0 L1589.2,680.8 L1582.4,677.6 L1575.4,674.4 L1568.3,671.3 L1561.0,668.4 L1553.6,665.4 L1546.0,662.6 L1538.2,659.9 L1530.3,657.2 L1522.2,654.6 L1514.0,652.1 L1505.7,649.7 L1497.2,647.4 L1488.5,645.2 L1479.7,643.1 L1470.8,641.1 L1461.7,639.2 L1452.5,637.4 L1443.2,635.7 L1433.7,634.2 L1424.1,632.7 M1424.1,1059.1 L1434.8,1058.3 L1445.5,1057.4 L1456.1,1056.3 L1466.6,1055.1 L1477.0,1053.8 L1487.3,1052.3 L1497.4,1050.7 L1507.5,1049.0 L1517.5,1047.2 L1527.3,1045.3 L1537.0,1043.2 L1546.6,1041.0 L1556.0,1038.7 L1565.3,1036.3 L1574.4,1033.8 L1583.4,1031.2 L1592.3,1028.4 L1601.0,1025.6 L1609.5,1022.7 L1617.9,1019.6 L1626.1,1016.5 L1634.1,1013.3 L1642.0,1010.0 L1649.6,1006.6 L1657.1,1003.1 L1664.5,999.5 L1671.6,995.9 L1678.5,992.2 L1685.3,988.4 L1691.9,984.5 L1698.2,980.6 L1704.4,976.5 L1710.4,972.5 L1716.1,968.3 L1721.7,964.1 L1727.1,959.8 L1732.2,955.5 L1737.2,951.2 L1741.9,946.7 L1746.5,942.2 L1750.8,937.7 L1754.9,933.1 L1758.8,928.5 L1762.5,923.9 L1765.9,919.2 L1769.2,914.5 L1772.2,909.7 L1775.0,904.9 L1777.6,900.1 L1779.9,895.3 L1782.1,890.4 L1784.0,885.5 L1785.7,880.6 L1787.1,875.7 L1788.4,870.7 L1789.4,865.8 L1790.2,860.8 L1790.7,855.8 L1791.1,850.9 L1791.2,845.9 L1791.1,840.9 L1790.7,836.0 L1790.2,831.0 L1789.4,826.0 L1788.4,821.1 L1787.1,816.1 L1785.7,811.2 L1784.0,806.3 L1782.1,801.4 L1779.9,796.5 L1777.6,791.7 L1775.0,786.9 L1772.2,782.1 L1769.2,777.3 L1765.9,772.6 L1762.5,767.9 L1758.8,763.3 L1754.9,758.7 L1750.8,754.1 L1746.5,749.6 L1741.9,745.1 L1737.2,740.6 L1732.2,736.3 L1727.1,732.0 L1721.7,727.7 L1716.1,723.5 L1710.4,719.3 L1704.4,715.3 L1698.2,711.2 L1691.9,707.3 L1685.3,703.4 L1678.5,699.6 L1671.6,695.9 L1664.5,692.3 L1657.1,688.7 L1649.6,685.2 L1642.0,681.8 L1634.1,678.5 L1626.1,675.3 L1617.9,672.2 L1609.5,669.1 L1601.0,666.2 L1592.3,663.4 L1583.4,660.6 L1574.4,658.0 L1565.3,655.5 L1556.0,653.1 L1546.6,650.8 L1537.0,648.6 L1527.3,646.5 L1517.5,644.6 L1507.5,642.8 L1497.4,641.1 L1487.3,639.5 L1477.0,638.0 L1466.6,636.7 L1456.1,635.5 L1445.5,634.4 L1434.8,633.5 L1424.1,632.7 M1313.7,1051.8 L1314.2,1051.1 L1314.6,1050.4 L1315.2,1049.8 L1315.8,1049.1 L1316.5,1048.4 L1317.2,1047.8 L1318.1,1047.1 L1318.9,1046.5 L1319.9,1045.9 L1320.9,1045.3 L1322.0,1044.7 L1323.1,1044.1 L1324.3,1043.5 L1325.5,1042.9 L1326.8,1042.3 L1328.2,1041.8 L1329.6,1041.2 L1331.1,1040.7 L1332.6,1040.2 L1334.2,1039.7 L1335.8,1039.2 L1337.5,1038.7 L1339.2,1038.2 L1340.9,1037.8 L1342.7,1037.3 L1344.6,1036.9 L1346.5,1036.4 L1348.4,1036.0 L1350.4,1035.6 L1352.4,1035.2 L1354.4,1034.9 L1356.5,1034.5 L1358.6,1034.1 L1360.7,1033.8 L1362.9,1033.5 L1365.1,1033.2 L1367.4,1032.9 L1369.6,1032.6 L1371.9,1032.3 L1374.2,1032.0 L1376.6,1031.8 L1378.9,1031.5 L1381.3,1031.3 L1383.7,1031.1 L1386.2,1030.9 L1388.6,1030.7 L1391.1,1030.5 L1393.6,1030.4 L1396.0,1030.2 L1398.6,1030.1 L1401.1,1030.0 L1403.6,1029.9 L1406.1,1029.8 L1408.7,1029.7 L1411.3,1029.6 L1413.8,1029.5 L1416.4,1029.5 L1419.0,1029.5 L1421.5,1029.4 L1424.1,1029.4 L1426.7,1029.4 L1429.2,1029.5 L1431.8,1029.5 L1434.4,1029.5 L1436.9,1029.6 L1439.5,1029.7 L1442.1,1029.8 L1444.6,1029.9 L1447.1,1030.0 L1449.6,1030.1 L1452.2,1030.2 L1454.6,1030.4 L1457.1,1030.5 L1459.6,1030.7 L1462.0,1030.9 L1464.5,1031.1 L1466.9,1031.3 L1469.3,1031.5 L1471.6,1031.8 L1474.0,1032.0 L1476.3,1032.3 L1478.6,1032.6 L1480.8,1032.9 L1483.1,1033.2 L1485.3,1033.5 L1487.5,1033.8 L1489.6,1034.1 L1491.7,1034.5 L1493.8,1034.9 L1495.8,1035.2 L1497.8,1035.6 L1499.8,1036.0 L1501.7,1036.4 L1503.6,1036.9 L1505.5,1037.3 L1507.3,1037.8 L1509.0,1038.2 L1510.7,1038.7 L1512.4,1039.2 L1514.0,1039.7 L1515.6,1040.2 L1517.1,1040.7 L1518.6,1041.2 L1520.0,1041.8 L1521.4,1042.3 L1522.7,1042.9 L1523.9,1043.5 L1525.1,1044.1 L1526.2,1044.7 L1527.3,1045.3 L1528.3,1045.9 L1529.3,1046.5 L1530.1,1047.1 L1531.0,1047.8 L1531.7,1048.4 L1532.4,1049.1 L1533.0,1049.8 L1533.6,1050.4 L1534.0,1051.1 L1534.5,1051.8 M1210.9,1030.5 L1212.4,1029.3 L1213.9,1028.2 L1215.6,1027.0 L1217.4,1025.9 L1219.3,1024.8 L1221.3,1023.7 L1223.4,1022.7 L1225.6,1021.6 L1227.9,1020.6 L1230.3,1019.6 L1232.8,1018.7 L1235.4,1017.7 L1238.1,1016.8 L1240.8,1015.9 L1243.6,1015.1 L1246.6,1014.2 L1249.5,1013.4 L1252.6,1012.6 L1255.8,1011.8 L1259.0,1011.0 L1262.2,1010.3 L1265.6,1009.6 L1269.0,1008.9 L1272.5,1008.2 L1276.0,1007.6 L1279.6,1006.9 L1283.3,1006.3 L1287.0,1005.7 L1290.7,1005.1 L1294.5,1004.6 L1298.4,1004.1 L1302.3,1003.5 L1306.2,1003.1 L1310.2,1002.6 L1314.3,1002.1 L1318.4,1001.7 L1322.5,1001.3 L1326.6,1000.9 L1330.8,1000.5 L1335.1,1000.1 L1339.3,999.8 L1343.6,999.5 L1347.9,999.2 L1352.3,998.9 L1356.6,998.6 L1361.0,998.3 L1365.4,998.1 L1369.9,997.9 L1374.3,997.7 L1378.8,997.5 L1383.3,997.3 L1387.8,997.2 L1392.3,997.1 L1396.8,997.0 L1401.3,996.9 L1405.9,996.8 L1410.4,996.7 L1415.0,996.7 L1419.5,996.7 L1424.1,996.6 L1428.7,996.7 L1433.2,996.7 L1437.8,996.7 L1442.3,996.8 L1446.9,996.9 L1451.4,997.0 L1455.9,997.1 L1460.4,997.2 L1464.9,997.3 L1469.4,997.5 L1473.9,997.7 L1478.3,997.9 L1482.8,998.1 L1487.2,998.3 L1491.6,998.6 L1495.9,998.9 L1500.3,999.2 L1504.6,999.5 L1508.9,999.8 L1513.1,1000.1 L1517.4,1000.5 L1521.6,1000.9 L1525.7,1001.3 L1529.8,1001.7 L1533.9,1002.1 L1538.0,1002.6 L1542.0,1003.1 L1545.9,1003.5 L1549.8,1004.1 L1553.7,1004.6 L1557.5,1005.1 L1561.2,1005.7 L1564.9,1006.3 L1568.6,1006.9 L1572.2,1007.6 L1575.7,1008.2 L1579.2,1008.9 L1582.6,1009.6 L1586.0,1010.3 L1589.2,1011.0 L1592.4,1011.8 L1595.6,1012.6 L1598.7,1013.4 L1601.6,1014.2 L1604.6,1015.1 L1607.4,1015.9 L1610.1,1016.8 L1612.8,1017.7 L1615.4,1018.7 L1617.9,1019.6 L1620.3,1020.6 L1622.6,1021.6 L1624.8,1022.7 L1626.9,1023.7 L1628.9,1024.8 L1630.8,1025.9 L1632.6,1027.0 L1634.3,1028.2 L1635.8,1029.3 L1637.3,1030.5 M1122.6,996.6 L1125.5,995.3 L1128.4,993.9 L1131.5,992.6 L1134.8,991.4 L1138.1,990.1 L1141.5,988.9 L1145.1,987.8 L1148.7,986.7 L1152.5,985.6 L1156.3,984.5 L1160.3,983.5 L1164.3,982.5 L1168.5,981.5 L1172.7,980.6 L1177.0,979.6 L1181.4,978.8 L1185.8,977.9 L1190.4,977.1 L1195.0,976.3 L1199.7,975.5 L1204.4,974.7 L1209.3,974.0 L1214.1,973.3 L1219.1,972.6 L1224.1,971.9 L1229.2,971.3 L1234.3,970.7 L1239.5,970.1 L1244.7,969.5 L1250.0,969.0 L1255.4,968.5 L1260.8,968.0 L1266.2,967.5 L1271.7,967.0 L1277.2,966.6 L1282.8,966.1 L1288.4,965.7 L1294.0,965.3 L1299.7,965.0 L1305.4,964.6 L1311.1,964.3 L1316.9,964.0 L1322.7,963.7 L1328.5,963.4 L1334.4,963.1 L1340.2,962.9 L1346.1,962.7 L1352.1,962.5 L1358.0,962.3 L1363.9,962.1 L1369.9,961.9 L1375.9,961.8 L1381.9,961.7 L1387.9,961.6 L1393.9,961.5 L1400.0,961.4 L1406.0,961.4 L1412.0,961.3 L1418.1,961.3 L1424.1,961.3 L1430.1,961.3 L1436.2,961.3 L1442.2,961.4 L1448.2,961.4 L1454.3,961.5 L1460.3,961.6 L1466.3,961.7 L1472.3,961.8 L1478.3,961.9 L1484.3,962.1 L1490.2,962.3 L1496.1,962.5 L1502.1,962.7 L1508.0,962.9 L1513.8,963.1 L1519.7,963.4 L1525.5,963.7 L1531.3,964.0 L1537.1,964.3 L1542.8,964.6 L1548.5,965.0 L1554.2,965.3 L1559.8,965.7 L1565.4,966.1 L1571.0,966.6 L1576.5,967.0 L1582.0,967.5 L1587.4,968.0 L1592.8,968.5 L1598.2,969.0 L1603.5,969.5 L1608.7,970.1 L1613.9,970.7 L1619.0,971.3 L1624.1,971.9 L1629.1,972.6 L1634.1,973.3 L1638.9,974.0 L1643.8,974.7 L1648.5,975.5 L1653.2,976.3 L1657.8,977.1 L1662.4,977.9 L1666.8,978.8 L1671.2,979.6 L1675.5,980.6 L1679.7,981.5 L1683.9,982.5 L1687.9,983.5 L1691.9,984.5 L1695.7,985.6 L1699.5,986.7 L1703.1,987.8 L1706.7,988.9 L1710.1,990.1 L1713.4,991.4 L1716.7,992.6 L1719.8,993.9 L1722.7,995.3 L1725.6,996.6 M1054.8,952.5 L1059.1,951.3 L1063.4,950.2 L1067.9,949.0 L1072.4,948.0 L1077.1,946.9 L1081.8,945.9 L1086.7,945.0 L1091.6,944.0 L1096.6,943.1 L1101.7,942.2 L1106.9,941.4 L1112.2,940.6 L1117.5,939.8 L1122.9,939.0 L1128.4,938.3 L1134.0,937.6 L1139.6,936.9 L1145.4,936.2 L1151.1,935.6 L1157.0,934.9 L1162.9,934.3 L1168.8,933.8 L1174.8,933.2 L1180.9,932.7 L1187.0,932.2 L1193.2,931.7 L1199.5,931.2 L1205.8,930.7 L1212.1,930.3 L1218.5,929.8 L1224.9,929.4 L1231.4,929.0 L1237.9,928.7 L1244.4,928.3 L1251.0,928.0 L1257.7,927.6 L1264.3,927.3 L1271.0,927.0 L1277.8,926.7 L1284.5,926.5 L1291.3,926.2 L1298.2,926.0 L1305.0,925.8 L1311.9,925.5 L1318.8,925.3 L1325.7,925.2 L1332.6,925.0 L1339.6,924.8 L1346.6,924.7 L1353.6,924.6 L1360.6,924.4 L1367.6,924.3 L1374.6,924.2 L1381.7,924.2 L1388.7,924.1 L1395.8,924.0 L1402.9,924.0 L1409.9,924.0 L1417.0,923.9 L1424.1,923.9 L1431.2,923.9 L1438.3,924.0 L1445.3,924.0 L1452.4,924.0 L1459.5,924.1 L1466.5,924.2 L1473.6,924.2 L1480.6,924.3 L1487.6,924.4 L1494.6,924.6 L1501.6,924.7 L1508.6,924.8 L1515.6,925.0 L1522.5,925.2 L1529.4,925.3 L1536.3,925.5 L1543.2,925.8 L1550.0,926.0 L1556.9,926.2 L1563.7,926.5 L1570.4,926.7 L1577.2,927.0 L1583.9,927.3 L1590.5,927.6 L1597.2,928.0 L1603.8,928.3 L1610.3,928.7 L1616.8,929.0 L1623.3,929.4 L1629.7,929.8 L1636.1,930.3 L1642.4,930.7 L1648.7,931.2 L1655.0,931.7 L1661.2,932.2 L1667.3,932.7 L1673.4,933.2 L1679.4,933.8 L1685.3,934.3 L1691.2,934.9 L1697.1,935.6 L1702.8,936.2 L1708.6,936.9 L1714.2,937.6 L1719.8,938.3 L1725.3,939.0 L1730.7,939.8 L1736.0,940.6 L1741.3,941.4 L1746.5,942.2 L1751.6,943.1 L1756.6,944.0 L1761.5,945.0 L1766.4,945.9 L1771.1,946.9 L1775.8,948.0 L1780.3,949.0 L1784.8,950.2 L1789.1,951.3 L1793.4,952.5 M1012.2,901.1 L1017.5,900.4 L1022.8,899.7 L1028.2,899.1 L1033.7,898.5 L1039.3,897.9 L1045.0,897.3 L1050.7,896.8 L1056.5,896.3 L1062.3,895.7 L1068.3,895.3 L1074.3,894.8 L1080.4,894.3 L1086.5,893.9 L1092.7,893.5 L1099.0,893.0 L1105.3,892.7 L1111.7,892.3 L1118.1,891.9 L1124.6,891.6 L1131.2,891.2 L1137.8,890.9 L1144.5,890.6 L1151.2,890.3 L1158.0,890.0 L1164.8,889.7 L1171.7,889.4 L1178.6,889.2 L1185.6,888.9 L1192.6,888.7 L1199.6,888.4 L1206.7,888.2 L1213.8,888.0 L1221.0,887.8 L1228.2,887.6 L1235.4,887.4 L1242.7,887.2 L1250.0,887.1 L1257.4,886.9 L1264.7,886.8 L1272.1,886.6 L1279.6,886.5 L1287.0,886.4 L1294.5,886.2 L1302.0,886.1 L1309.5,886.0 L1317.1,885.9 L1324.6,885.8 L1332.2,885.7 L1339.8,885.7 L1347.4,885.6 L1355.1,885.5 L1362.7,885.5 L1370.3,885.4 L1378.0,885.4 L1385.7,885.3 L1393.4,885.3 L1401.0,885.3 L1408.7,885.3 L1416.4,885.3 L1424.1,885.3 L1431.8,885.3 L1439.5,885.3 L1447.2,885.3 L1454.8,885.3 L1462.5,885.3 L1470.2,885.4 L1477.9,885.4 L1485.5,885.5 L1493.1,885.5 L1500.8,885.6 L1508.4,885.7 L1516.0,885.7 L1523.6,885.8 L1531.1,885.9 L1538.7,886.0 L1546.2,886.1 L1553.7,886.2 L1561.2,886.4 L1568.6,886.5 L1576.1,886.6 L1583.5,886.8 L1590.8,886.9 L1598.2,887.1 L1605.5,887.2 L1612.8,887.4 L1620.0,887.6 L1627.2,887.8 L1634.4,888.0 L1641.5,888.2 L1648.6,888.4 L1655.6,888.7 L1662.6,888.9 L1669.6,889.2 L1676.5,889.4 L1683.4,889.7 L1690.2,890.0 L1697.0,890.3 L1703.7,890.6 L1710.4,890.9 L1717.0,891.2 L1723.6,891.6 L1730.1,891.9 L1736.5,892.3 L1742.9,892.7 L1749.2,893.0 L1755.5,893.5 L1761.7,893.9 L1767.8,894.3 L1773.9,894.8 L1779.9,895.3 L1785.9,895.7 L1791.7,896.3 L1797.5,896.8 L1803.2,897.3 L1808.9,897.9 L1814.5,898.5 L1820.0,899.1 L1825.4,899.7 L1830.7,900.4 L1836.0,901.1 M997.7,845.9 L1003.3,845.9 L1009.0,845.9 L1014.8,845.9 L1020.6,845.9 L1026.5,845.9 L1032.5,845.9 L1038.5,845.9 L1044.6,845.9 L1050.8,845.9 L1057.0,845.9 L1063.3,845.9 L1069.7,845.9 L1076.1,845.9 L1082.6,845.9 L1089.1,845.9 L1095.7,845.9 L1102.3,845.9 L1109.0,845.9 L1115.8,845.9 L1122.6,845.9 L1129.5,845.9 L1136.4,845.9 L1143.3,845.9 L1150.3,845.9 L1157.4,845.9 L1164.5,845.9 L1171.6,845.9 L1178.8,845.9 L1186.1,845.9 L1193.3,845.9 L1200.7,845.9 L1208.0,845.9 L1215.4,845.9 L1222.8,845.9 L1230.3,845.9 L1237.8,845.9 L1245.3,845.9 L1252.8,845.9 L1260.4,845.9 L1268.0,845.9 L1275.7,845.9 L1283.3,845.9 L1291.0,845.9 L1298.7,845.9 L1306.5,845.9 L1314.2,845.9 L1322.0,845.9 L1329.8,845.9 L1337.6,845.9 L1345.4,845.9 L1353.2,845.9 L1361.1,845.9 L1368.9,845.9 L1376.8,845.9 L1384.7,845.9 L1392.5,845.9 L1400.4,845.9 L1408.3,845.9 L1416.2,845.9 L1424.1,845.9 L1432.0,845.9 L1439.9,845.9 L1447.8,845.9 L1455.7,845.9 L1463.5,845.9 L1471.4,845.9 L1479.3,845.9 L1487.1,845.9 L1495.0,845.9 L1502.8,845.9 L1510.6,845.9 L1518.4,845.9 L1526.2,845.9 L1534.0,845.9 L1541.7,845.9 L1549.5,845.9 L1557.2,845.9 L1564.9,845.9 L1572.5,845.9 L1580.2,845.9 L1587.8,845.9 L1595.4,845.9 L1602.9,845.9 L1610.4,845.9 L1617.9,845.9 L1625.4,845.9 L1632.8,845.9 L1640.2,845.9 L1647.5,845.9 L1654.9,845.9 L1662.1,845.9 L1669.4,845.9 L1676.6,845.9 L1683.7,845.9 L1690.8,845.9 L1697.9,845.9 L1704.9,845.9 L1711.8,845.9 L1718.7,845.9 L1725.6,845.9 L1732.4,845.9 L1739.2,845.9 L1745.9,845.9 L1752.5,845.9 L1759.1,845.9 L1765.6,845.9 L1772.1,845.9 L1778.5,845.9 L1784.9,845.9 L1791.2,845.9 L1797.4,845.9 L1803.6,845.9 L1809.7,845.9 L1815.7,845.9 L1821.7,845.9 L1827.6,845.9 L1833.4,845.9 L1839.2,845.9 L1844.9,845.9 L1850.5,845.9 M1012.2,790.7 L1017.5,791.4 L1022.8,792.1 L1028.2,792.7 L1033.7,793.3 L1039.3,793.9 L1045.0,794.5 L1050.7,795.0 L1056.5,795.5 L1062.3,796.1 L1068.3,796.5 L1074.3,797.0 L1080.4,797.5 L1086.5,797.9 L1092.7,798.3 L1099.0,798.8 L1105.3,799.1 L1111.7,799.5 L1118.1,799.9 L1124.6,800.2 L1131.2,800.6 L1137.8,800.9 L1144.5,801.2 L1151.2,801.5 L1158.0,801.8 L1164.8,802.1 L1171.7,802.4 L1178.6,802.6 L1185.6,802.9 L1192.6,803.1 L1199.6,803.4 L1206.7,803.6 L1213.8,803.8 L1221.0,804.0 L1228.2,804.2 L1235.4,804.4 L1242.7,804.6 L1250.0,804.7 L1257.4,804.9 L1264.7,805.0 L1272.1,805.2 L1279.6,805.3 L1287.0,805.4 L1294.5,805.6 L1302.0,805.7 L1309.5,805.8 L1317.1,805.9 L1324.6,806.0 L1332.2,806.1 L1339.8,806.1 L1347.4,806.2 L1355.1,806.3 L1362.7,806.3 L1370.3,806.4 L1378.0,806.4 L1385.7,806.5 L1393.4,806.5 L1401.0,806.5 L1408.7,806.5 L1416.4,806.5 L1424.1,806.5 L1431.8,806.5 L1439.5,806.5 L1447.2,806.5 L1454.8,806.5 L1462.5,806.5 L1470.2,806.4 L1477.9,806.4 L1485.5,806.3 L1493.1,806.3 L1500.8,806.2 L1508.4,806.1 L1516.0,806.1 L1523.6,806.0 L1531.1,805.9 L1538.7,805.8 L1546.2,805.7 L1553.7,805.6 L1561.2,805.4 L1568.6,805.3 L1576.1,805.2 L1583.5,805.0 L1590.8,804.9 L1598.2,804.7 L1605.5,804.6 L1612.8,804.4 L1620.0,804.2 L1627.2,804.0 L1634.4,803.8 L1641.5,803.6 L1648.6,803.4 L1655.6,803.1 L1662.6,802.9 L1669.6,802.6 L1676.5,802.4 L1683.4,802.1 L1690.2,801.8 L1697.0,801.5 L1703.7,801.2 L1710.4,800.9 L1717.0,800.6 L1723.6,800.2 L1730.1,799.9 L1736.5,799.5 L1742.9,799.1 L1749.2,798.8 L1755.5,798.3 L1761.7,797.9 L1767.8,797.5 L1773.9,797.0 L1779.9,796.5 L1785.9,796.1 L1791.7,795.5 L1797.5,795.0 L1803.2,794.5 L1808.9,793.9 L1814.5,793.3 L1820.0,792.7 L1825.4,792.1 L1830.7,791.4 L1836.0,790.7 M1054.8,739.3 L1059.1,740.5 L1063.4,741.6 L1067.9,742.8 L1072.4,743.8 L1077.1,744.9 L1081.8,745.9 L1086.7,746.8 L1091.6,747.8 L1096.6,748.7 L1101.7,749.6 L1106.9,750.4 L1112.2,751.2 L1117.5,752.0 L1122.9,752.8 L1128.4,753.5 L1134.0,754.2 L1139.6,754.9 L1145.4,755.6 L1151.1,756.2 L1157.0,756.9 L1162.9,757.5 L1168.8,758.0 L1174.8,758.6 L1180.9,759.1 L1187.0,759.6 L1193.2,760.1 L1199.5,760.6 L1205.8,761.1 L1212.1,761.5 L1218.5,762.0 L1224.9,762.4 L1231.4,762.8 L1237.9,763.1 L1244.4,763.5 L1251.0,763.8 L1257.7,764.2 L1264.3,764.5 L1271.0,764.8 L1277.8,765.1 L1284.5,765.3 L1291.3,765.6 L1298.2,765.8 L1305.0,766.0 L1311.9,766.3 L1318.8,766.5 L1325.7,766.6 L1332.6,766.8 L1339.6,767.0 L1346.6,767.1 L1353.6,767.2 L1360.6,767.4 L1367.6,767.5 L1374.6,767.6 L1381.7,767.6 L1388.7,767.7 L1395.8,767.8 L1402.9,767.8 L1409.9,767.8 L1417.0,767.9 L1424.1,767.9 L1431.2,767.9 L1438.3,767.8 L1445.3,767.8 L1452.4,767.8 L1459.5,767.7 L1466.5,767.6 L1473.6,767.6 L1480.6,767.5 L1487.6,767.4 L1494.6,767.2 L1501.6,767.1 L1508.6,767.0 L1515.6,766.8 L1522.5,766.6 L1529.4,766.5 L1536.3,766.3 L1543.2,766.0 L1550.0,765.8 L1556.9,765.6 L1563.7,765.3 L1570.4,765.1 L1577.2,764.8 L1583.9,764.5 L1590.5,764.2 L1597.2,763.8 L1603.8,763.5 L1610.3,763.1 L1616.8,762.8 L1623.3,762.4 L1629.7,762.0 L1636.1,761.5 L1642.4,761.1 L1648.7,760.6 L1655.0,760.1 L1661.2,759.6 L1667.3,759.1 L1673.4,758.6 L1679.4,758.0 L1685.3,757.5 L1691.2,756.9 L1697.1,756.2 L1702.8,755.6 L1708.6,754.9 L1714.2,754.2 L1719.8,753.5 L1725.3,752.8 L1730.7,752.0 L1736.0,751.2 L1741.3,750.4 L1746.5,749.6 L1751.6,748.7 L1756.6,747.8 L1761.5,746.8 L1766.4,745.9 L1771.1,744.9 L1775.8,743.8 L1780.3,742.8 L1784.8,741.6 L1789.1,740.5 L1793.4,739.3 M1122.6,695.1 L1125.5,696.5 L1128.4,697.9 L1131.5,699.2 L1134.8,700.4 L1138.1,701.7 L1141.5,702.9 L1145.1,704.0 L1148.7,705.1 L1152.5,706.2 L1156.3,707.3 L1160.3,708.3 L1164.3,709.3 L1168.5,710.3 L1172.7,711.2 L1177.0,712.2 L1181.4,713.0 L1185.8,713.9 L1190.4,714.7 L1195.0,715.5 L1199.7,716.3 L1204.4,717.1 L1209.3,717.8 L1214.1,718.5 L1219.1,719.2 L1224.1,719.9 L1229.2,720.5 L1234.3,721.1 L1239.5,721.7 L1244.7,722.3 L1250.0,722.8 L1255.4,723.3 L1260.8,723.8 L1266.2,724.3 L1271.7,724.8 L1277.2,725.2 L1282.8,725.7 L1288.4,726.1 L1294.0,726.5 L1299.7,726.8 L1305.4,727.2 L1311.1,727.5 L1316.9,727.8 L1322.7,728.1 L1328.5,728.4 L1334.4,728.7 L1340.2,728.9 L1346.1,729.1 L1352.1,729.3 L1358.0,729.5 L1363.9,729.7 L1369.9,729.9 L1375.9,730.0 L1381.9,730.1 L1387.9,730.2 L1393.9,730.3 L1400.0,730.4 L1406.0,730.4 L1412.0,730.5 L1418.1,730.5 L1424.1,730.5 L1430.1,730.5 L1436.2,730.5 L1442.2,730.4 L1448.2,730.4 L1454.3,730.3 L1460.3,730.2 L1466.3,730.1 L1472.3,730.0 L1478.3,729.9 L1484.3,729.7 L1490.2,729.5 L1496.1,729.3 L1502.1,729.1 L1508.0,728.9 L1513.8,728.7 L1519.7,728.4 L1525.5,728.1 L1531.3,727.8 L1537.1,727.5 L1542.8,727.2 L1548.5,726.8 L1554.2,726.5 L1559.8,726.1 L1565.4,725.7 L1571.0,725.2 L1576.5,724.8 L1582.0,724.3 L1587.4,723.8 L1592.8,723.3 L1598.2,722.8 L1603.5,722.3 L1608.7,721.7 L1613.9,721.1 L1619.0,720.5 L1624.1,719.9 L1629.1,719.2 L1634.1,718.5 L1638.9,717.8 L1643.8,717.1 L1648.5,716.3 L1653.2,715.5 L1657.8,714.7 L1662.4,713.9 L1666.8,713.0 L1671.2,712.2 L1675.5,711.2 L1679.7,710.3 L1683.9,709.3 L1687.9,708.3 L1691.9,707.3 L1695.7,706.2 L1699.5,705.1 L1703.1,704.0 L1706.7,702.9 L1710.1,701.7 L1713.4,700.4 L1716.7,699.2 L1719.8,697.9 L1722.7,696.5 L1725.6,695.1 M1210.9,661.3 L1212.4,662.5 L1213.9,663.6 L1215.6,664.8 L1217.4,665.9 L1219.3,667.0 L1221.3,668.1 L1223.4,669.1 L1225.6,670.2 L1227.9,671.2 L1230.3,672.2 L1232.8,673.1 L1235.4,674.1 L1238.1,675.0 L1240.8,675.9 L1243.6,676.7 L1246.6,677.6 L1249.5,678.4 L1252.6,679.2 L1255.8,680.0 L1259.0,680.8 L1262.2,681.5 L1265.6,682.2 L1269.0,682.9 L1272.5,683.6 L1276.0,684.2 L1279.6,684.9 L1283.3,685.5 L1287.0,686.1 L1290.7,686.7 L1294.5,687.2 L1298.4,687.7 L1302.3,688.3 L1306.2,688.7 L1310.2,689.2 L1314.3,689.7 L1318.4,690.1 L1322.5,690.5 L1326.6,690.9 L1330.8,691.3 L1335.1,691.7 L1339.3,692.0 L1343.6,692.3 L1347.9,692.6 L1352.3,692.9 L1356.6,693.2 L1361.0,693.5 L1365.4,693.7 L1369.9,693.9 L1374.3,694.1 L1378.8,694.3 L1383.3,694.5 L1387.8,694.6 L1392.3,694.7 L1396.8,694.8 L1401.3,694.9 L1405.9,695.0 L1410.4,695.1 L1415.0,695.1 L1419.5,695.1 L1424.1,695.1 L1428.7,695.1 L1433.2,695.1 L1437.8,695.1 L1442.3,695.0 L1446.9,694.9 L1451.4,694.8 L1455.9,694.7 L1460.4,694.6 L1464.9,694.5 L1469.4,694.3 L1473.9,694.1 L1478.3,693.9 L1482.8,693.7 L1487.2,693.5 L1491.6,693.2 L1495.9,692.9 L1500.3,692.6 L1504.6,692.3 L1508.9,692.0 L1513.1,691.7 L1517.4,691.3 L1521.6,690.9 L1525.7,690.5 L1529.8,690.1 L1533.9,689.7 L1538.0,689.2 L1542.0,688.7 L1545.9,688.3 L1549.8,687.7 L1553.7,687.2 L1557.5,686.7 L1561.2,686.1 L1564.9,685.5 L1568.6,684.9 L1572.2,684.2 L1575.7,683.6 L1579.2,682.9 L1582.6,682.2 L1586.0,681.5 L1589.2,680.8 L1592.4,680.0 L1595.6,679.2 L1598.7,678.4 L1601.6,677.6 L1604.6,676.7 L1607.4,675.9 L1610.1,675.0 L1612.8,674.1 L1615.4,673.1 L1617.9,672.2 L1620.3,671.2 L1622.6,670.2 L1624.8,669.1 L1626.9,668.1 L1628.9,667.0 L1630.8,665.9 L1632.6,664.8 L1634.3,663.6 L1635.8,662.5 L1637.3,661.3 M1313.7,640.0 L1314.2,640.7 L1314.6,641.4 L1315.2,642.0 L1315.8,642.7 L1316.5,643.4 L1317.2,644.0 L1318.1,644.7 L1318.9,645.3 L1319.9,645.9 L1320.9,646.5 L1322.0,647.1 L1323.1,647.7 L1324.3,648.3 L1325.5,648.9 L1326.8,649.5 L1328.2,650.0 L1329.6,650.6 L1331.1,651.1 L1332.6,651.6 L1334.2,652.1 L1335.8,652.6 L1337.5,653.1 L1339.2,653.6 L1340.9,654.0 L1342.7,654.5 L1344.6,654.9 L1346.5,655.4 L1348.4,655.8 L1350.4,656.2 L1352.4,656.6 L1354.4,656.9 L1356.5,657.3 L1358.6,657.7 L1360.7,658.0 L1362.9,658.3 L1365.1,658.6 L1367.4,658.9 L1369.6,659.2 L1371.9,659.5 L1374.2,659.8 L1376.6,660.0 L1378.9,660.3 L1381.3,660.5 L1383.7,660.7 L1386.2,660.9 L1388.6,661.1 L1391.1,661.3 L1393.6,661.4 L1396.0,661.6 L1398.6,661.7 L1401.1,661.8 L1403.6,661.9 L1406.1,662.0 L1408.7,662.1 L1411.3,662.2 L1413.8,662.3 L1416.4,662.3 L1419.0,662.3 L1421.5,662.4 L1424.1,662.4 L1426.7,662.4 L1429.2,662.3 L1431.8,662.3 L1434.4,662.3 L1436.9,662.2 L1439.5,662.1 L1442.1,662.0 L1444.6,661.9 L1447.1,661.8 L1449.6,661.7 L1452.2,661.6 L1454.6,661.4 L1457.1,661.3 L1459.6,661.1 L1462.0,660.9 L1464.5,660.7 L1466.9,660.5 L1469.3,660.3 L1471.6,660.0 L1474.0,659.8 L1476.3,659.5 L1478.6,659.2 L1480.8,658.9 L1483.1,658.6 L1485.3,658.3 L1487.5,658.0 L1489.6,657.7 L1491.7,657.3 L1493.8,656.9 L1495.8,656.6 L1497.8,656.2 L1499.8,655.8 L1501.7,655.4 L1503.6,654.9 L1505.5,654.5 L1507.3,654.0 L1509.0,653.6 L1510.7,653.1 L1512.4,652.6 L1514.0,652.1 L1515.6,651.6 L1517.1,651.1 L1518.6,650.6 L1520.0,650.0 L1521.4,649.5 L1522.7,648.9 L1523.9,648.3 L1525.1,647.7 L1526.2,647.1 L1527.3,646.5 L1528.3,645.9 L1529.3,645.3 L1530.1,644.7 L1531.0,644.0 L1531.7,643.4 L1532.4,642.7 L1533.0,642.0 L1533.6,641.4 L1534.0,640.7 L1534.5,640.0" fill="none" stroke="#222" stroke-opacity="0.85" stroke-width="1.3" stroke-dasharray="2.2 6.6"/>
<defs><linearGradient id="mccb"><stop offset="0.000" stop-color="rgb(45, 15, 80)"/><stop offset="0.100" stop-color="rgb(80, 45, 135)"/><stop offset="0.200" stop-color="rgb(115, 98, 160)"/><stop offset="0.300" stop-color="rgb(165, 158, 200)"/><stop offset="0.400" stop-color="rgb(205, 205, 228)"/><stop offset="0.500" stop-color="rgb(246, 246, 246)"/><stop offset="0.600" stop-color="rgb(248, 225, 180)"/><stop offset="0.700" stop-color="rgb(235, 180, 110)"/><stop offset="0.800" stop-color="rgb(210, 135, 50)"/><stop offset="0.900" stop-color="rgb(150, 85, 35)"/><stop offset="1.000" stop-color="rgb(110, 60, 25)"/></linearGradient></defs>
<rect x="1096.4" y="1068.1" width="661.0" height="20.5" fill="url(#mccb)" stroke="#111" stroke-width="1.6"/>
<line x1="1261.7" y1="1088.6" x2="1261.7" y2="1081.1" stroke="#333" stroke-width="1.5"/>
<line x1="1426.9" y1="1088.6" x2="1426.9" y2="1081.1" stroke="#333" stroke-width="1.5"/>
<line x1="1592.2" y1="1088.6" x2="1592.2" y2="1081.1" stroke="#333" stroke-width="1.5"/>
<text x="1096.4" y="1125.6" font-size="29" text-anchor="middle">−1.0</text>
<text x="1261.7" y="1125.6" font-size="29" text-anchor="middle">−0.5</text>
<text x="1426.9" y="1125.6" font-size="29" text-anchor="middle">0</text>
<text x="1592.2" y="1125.6" font-size="29" text-anchor="middle">0.5</text>
<text x="1757.4" y="1125.6" font-size="29" text-anchor="middle">1.0</text>
<text x="1426.5" y="1169.1" font-size="29" text-anchor="middle">mT</text>
<text transform="translate(997.8,633.5) scale(1.14,1)" font-size="32" font-weight="bold" style="stroke-width:1.3px">c</text>
<text transform="translate(38.5,38.6) scale(1.12,1)" font-size="32" font-weight="bold" style="stroke-width:1.3px">a</text>
<polygon points="282.2,41.2 306.8,41.2 294.5,17.2" fill="#5a9e3e"/>
<text x="318.5" y="40.0" font-size="29" text-anchor="start" >CHAOS-7</text>
<polygon points="492.9,41.2 517.5,41.2 505.2,17.2" fill="#c43c33"/>
<text x="528.5" y="40.0" font-size="29" text-anchor="start" >gufm1</text>
<polygon points="655.5,41.2 680.0,41.2 667.7,17.2" fill="#8e72be"/>
<text x="691.0" y="40.0" font-size="29" text-anchor="start" >CALS10k</text>
<line x1="164" y1="47.6" x2="164" y2="324.5" stroke="#666" stroke-width="1.5"/>
<line x1="150" y1="324.5" x2="164" y2="324.5" stroke="#666" stroke-width="1.5"/>
<text x="137.0" y="334.8" font-size="29" text-anchor="end" >0</text>
<line x1="150" y1="285.0" x2="164" y2="285.0" stroke="#666" stroke-width="1.5"/>
<text x="137.0" y="295.3" font-size="29" text-anchor="end" >2</text>
<line x1="150" y1="245.5" x2="164" y2="245.5" stroke="#666" stroke-width="1.5"/>
<text x="137.0" y="255.8" font-size="29" text-anchor="end" >4</text>
<line x1="150" y1="205.9" x2="164" y2="205.9" stroke="#666" stroke-width="1.5"/>
<text x="137.0" y="216.2" font-size="29" text-anchor="end" >6</text>
<line x1="150" y1="166.4" x2="164" y2="166.4" stroke="#666" stroke-width="1.5"/>
<text x="137.0" y="176.7" font-size="29" text-anchor="end" >8</text>
<line x1="150" y1="126.9" x2="164" y2="126.9" stroke="#666" stroke-width="1.5"/>
<text x="137.0" y="137.2" font-size="29" text-anchor="end" >10</text>
<line x1="150" y1="87.4" x2="164" y2="87.4" stroke="#666" stroke-width="1.5"/>
<text x="137.0" y="97.7" font-size="29" text-anchor="end" >12</text>
<line x1="150" y1="47.9" x2="164" y2="47.9" stroke="#666" stroke-width="1.5"/>
<text x="137.0" y="58.2" font-size="29" text-anchor="end" >14</text>
<line x1="150" y1="324.5" x2="933.5" y2="324.5" stroke="#333" stroke-width="1.5"/>
<line x1="172.0" y1="324.5" x2="172.0" y2="338.5" stroke="#666" stroke-width="1.5"/>
<text x="172.0" y="372.5" font-size="29" text-anchor="middle" >0</text>
<line x1="333.2" y1="324.5" x2="333.2" y2="338.5" stroke="#666" stroke-width="1.5"/>
<text x="333.2" y="372.5" font-size="29" text-anchor="middle" >20</text>
<line x1="494.4" y1="324.5" x2="494.4" y2="338.5" stroke="#666" stroke-width="1.5"/>
<text x="494.4" y="372.5" font-size="29" text-anchor="middle" >40</text>
<line x1="655.6" y1="324.5" x2="655.6" y2="338.5" stroke="#666" stroke-width="1.5"/>
<text x="655.6" y="372.5" font-size="29" text-anchor="middle" >60</text>
<line x1="816.8" y1="324.5" x2="816.8" y2="338.5" stroke="#666" stroke-width="1.5"/>
<text x="816.8" y="372.5" font-size="29" text-anchor="middle" >80</text>
<text x="548.3" y="414.2" font-size="29" text-anchor="middle" >Time (ka)</text>
<text transform="translate(77,296) rotate(-90)" font-size="29">ADM (10<tspan font-size="21" dy="-12.5">22</tspan><tspan dy="12.5" dx="2.5"> A m</tspan><tspan font-size="21" dy="-12.5" dx="1">2</tspan><tspan dy="12.5">)</tspan></text>
<g stroke="#e8863a" stroke-width="4.2"><line x1="172" y1="129" x2="172" y2="313.2"/><line x1="164" y1="129" x2="189" y2="129"/><line x1="164" y1="313.2" x2="189" y2="313.2"/></g>
<circle cx="172" cy="233.6" r="10" fill="#e8863a"/>
<text x="195.0" y="245.5" font-size="29" text-anchor="start" >pC (PINT)</text>
<line x1="164.2" y1="165.8" x2="933" y2="165.8" stroke="#0019f5" stroke-width="6.7" stroke-dasharray="24 10.85"/>
<polyline points="170.4,149.2 175.6,152.9 180.8,154.4 187.1,157.1 195.4,159.2 201.7,160.0 210.0,160.6 218.3,159.2 224.6,156.5 230.8,155.0 238.1,157.9 243.3,161.7 249.6,166.9 255.8,164.8 264.2,162.7 270.4,160.0 276.7,157.9 285.0,158.1 295.4,158.5 299.6,156.5 303.8,160.6 310.0,162.7 320.4,163.3 330.8,161.7 341.3,159.6 349.6,161.7 360.0,165.8 368.3,168.3 378.8,169.6 389.2,169.0 395.4,163.8 407.9,160.6 419.4,157.9 428.8,161.7 442.3,161.7 455.8,166.2 464.2,171.0 472.5,173.1 485.0,172.7 495.4,175.2 502.7,176.2 514.2,167.9 524.6,163.8 539.2,161.7 547.5,157.5 560.4,153.8 568.8,154.4 572.9,152.9 581.2,157.9 587.5,159.6 595.8,163.8 600.0,162.7 608.3,162.1 616.7,166.9 624.0,170.4 629.2,166.2 637.5,164.8 645.8,174.6 656.2,182.5 662.5,187.7 675.0,190.8 685.4,189.8 695.8,193.3 704.2,191.9 710.4,193.3 716.7,191.2 727.1,194.0 733.3,188.8 741.7,180.0 754.2,176.7 768.8,173.1 779.2,172.5 790.6,160.6 796.9,159.6 808.3,163.8 825.0,154.4 833.3,156.5 836.5,155.0 843.8,158.5 852.0,156.5 868.8,150.2 872.9,149.2 883.3,156.5 891.7,159.6 900.0,162.7 904.2,161.7 912.5,155.4 920.8,151.7 933.3,146.0" fill="none" stroke="#0019f5" stroke-width="4.5" stroke-linejoin="round" stroke-linecap="round"/>
<polygon points="920.8,185.6 945.2,185.6 933.0,161.6" fill="#5a9e3e"/>
<polygon points="920.8,166.2 945.2,166.2 933.0,142.2" fill="#c43c33"/>
<polygon points="920.8,175.8 945.2,175.8 933.0,151.8" fill="#8e72be"/>
<polygon points="282.2,482.1 306.8,482.1 294.5,458.1" fill="#5a9e3e"/>
<text x="318.5" y="480.9" font-size="29" text-anchor="start" >CHAOS-7</text>
<polygon points="492.9,482.1 517.5,482.1 505.2,458.1" fill="#c43c33"/>
<text x="528.5" y="480.9" font-size="29" text-anchor="start" >gufm1</text>
<polygon points="655.5,482.1 680.0,482.1 667.7,458.1" fill="#8e72be"/>
<text x="691.0" y="480.9" font-size="29" text-anchor="start" >CALS10k</text>
<line x1="164" y1="497" x2="164" y2="772.4" stroke="#666" stroke-width="1.5"/>
<line x1="150" y1="723.5" x2="164" y2="723.5" stroke="#666" stroke-width="1.5"/>
<line x1="150" y1="558.4" x2="164" y2="558.4" stroke="#666" stroke-width="1.5"/>
<line x1="155" y1="760.1" x2="164" y2="760.1" stroke="#666" stroke-width="1.5"/>
<line x1="155" y1="749.1" x2="164" y2="749.1" stroke="#666" stroke-width="1.5"/>
<line x1="155" y1="739.5" x2="164" y2="739.5" stroke="#666" stroke-width="1.5"/>
<line x1="155" y1="731.1" x2="164" y2="731.1" stroke="#666" stroke-width="1.5"/>
<line x1="155" y1="673.8" x2="164" y2="673.8" stroke="#666" stroke-width="1.5"/>
<line x1="155" y1="644.7" x2="164" y2="644.7" stroke="#666" stroke-width="1.5"/>
<line x1="155" y1="624.1" x2="164" y2="624.1" stroke="#666" stroke-width="1.5"/>
<line x1="155" y1="608.1" x2="164" y2="608.1" stroke="#666" stroke-width="1.5"/>
<line x1="155" y1="595.0" x2="164" y2="595.0" stroke="#666" stroke-width="1.5"/>
<line x1="155" y1="584.0" x2="164" y2="584.0" stroke="#666" stroke-width="1.5"/>
<line x1="155" y1="574.4" x2="164" y2="574.4" stroke="#666" stroke-width="1.5"/>
<line x1="155" y1="566.0" x2="164" y2="566.0" stroke="#666" stroke-width="1.5"/>
<line x1="155" y1="508.7" x2="164" y2="508.7" stroke="#666" stroke-width="1.5"/>
<text x="127.5" y="568.1" font-size="29" text-anchor="end">10</text><text x="128" y="554.9" font-size="19">2</text>
<text x="127.5" y="733.2" font-size="29" text-anchor="end">10</text><text x="128" y="720.0" font-size="19">1</text>
<line x1="150" y1="772.4" x2="933.5" y2="772.4" stroke="#333" stroke-width="1.5"/>
<line x1="172.0" y1="772.4" x2="172.0" y2="786.4" stroke="#666" stroke-width="1.5"/>
<text x="172.0" y="820.4" font-size="29" text-anchor="middle" >0</text>
<line x1="333.2" y1="772.4" x2="333.2" y2="786.4" stroke="#666" stroke-width="1.5"/>
<text x="333.2" y="820.4" font-size="29" text-anchor="middle" >20</text>
<line x1="494.4" y1="772.4" x2="494.4" y2="786.4" stroke="#666" stroke-width="1.5"/>
<text x="494.4" y="820.4" font-size="29" text-anchor="middle" >40</text>
<line x1="655.6" y1="772.4" x2="655.6" y2="786.4" stroke="#666" stroke-width="1.5"/>
<text x="655.6" y="820.4" font-size="29" text-anchor="middle" >60</text>
<line x1="816.8" y1="772.4" x2="816.8" y2="786.4" stroke="#666" stroke-width="1.5"/>
<text x="816.8" y="820.4" font-size="29" text-anchor="middle" >80</text>
<text x="548.3" y="862.1" font-size="29" text-anchor="middle" >Time (ka)</text>
<text transform="translate(71.5,690) rotate(-90)" font-size="29">AD/NAD</text>
<g stroke="#e8863a" stroke-width="4.2"><line x1="172" y1="616" x2="172" y2="743.7"/><line x1="164" y1="616" x2="189" y2="616"/><line x1="164" y1="743.7" x2="189" y2="743.7"/></g>
<circle cx="172" cy="681.5" r="10" fill="#e8863a"/>
<text x="196.0" y="695.2" font-size="29" text-anchor="start" >1.5–2.9 Ga (B2020)</text>
<line x1="164.2" y1="571" x2="933" y2="571" stroke="#0019f5" stroke-width="6.7" stroke-dasharray="24 10.85"/>
<polyline points="170.3,555.4 173.7,555.4 177.0,551.0 180.4,562.0 183.8,571.0 190.6,562.0 196.2,530.6 199.6,541.9 201.9,538.5 206.4,543.0 214.3,575.7 217.7,566.7 223.3,534.0 230.0,550.9 235.7,580.2 242.5,596.0 247.0,594.9 252.6,608.4 259.4,600.5 267.3,580.2 269.5,566.7 274.0,557.7 277.4,560.0 281.9,541.9 286.4,553.2 294.3,558.8 301.1,550.9 309.0,544.1 316.9,562.2 327.0,539.6 331.5,558.8 336.0,549.8 341.7,540.7 348.5,555.4 354.1,587.0 362.0,620.8 372.1,596.0 375.5,592.6 382.3,601.6 389.1,564.4 395.8,519.3 399.2,517.0 402.6,528.3 406.0,532.8 415.0,584.7 418.4,584.7 420.6,600.5 426.3,598.3 435.3,583.6 443.2,610.7 447.7,614.0 457.8,636.6 465.7,628.7 470.3,636.6 474.8,626.4 479.3,629.8 486.0,625.3 492.8,636.6 499.6,620.8 505.2,606.1 512.0,628.7 521.0,617.4 526.6,602.8 532.3,578.0 539.0,592.6 545.6,567.8 550.1,550.9 556.9,523.8 561.4,537.4 565.9,564.4 570.4,550.9 573.8,556.5 578.3,558.8 582.9,568.9 590.7,581.3 595.3,594.9 599.8,587.0 607.7,600.5 612.2,607.3 618.9,627.6 624.6,651.3 631.3,610.7 639.2,607.3 652.8,664.8 660.7,668.2 668.6,650.1 676.4,642.2 682.1,646.7 686.6,643.4 690.0,623.1 700.1,600.5 710.3,592.6 713.7,605.0 730.6,579.1 734.0,561.0 738.5,559.9 744.1,528.3 749.7,520.4 755.4,523.8 758.8,537.4 763.3,518.2 767.8,526.1 773.4,550.9 779.1,545.3 783.6,526.1 788.1,521.6 791.5,527.2 798.2,546.4 808.4,539.6 815.1,529.5 819.7,535.1 825.3,555.4 828.7,553.1 838.8,565.6 844.5,552.0 847.8,550.9 851.2,561.0 864.8,517.0 869.3,518.2 872.7,555.4 877.2,559.9 888.4,598.3 896.3,591.5 903.1,579.1 912.1,559.9 916.6,570.0 921.1,574.6 926.8,557.7 932.4,550.9 932.4,538.5" fill="none" stroke="#0019f5" stroke-width="4.5" stroke-linejoin="round" stroke-linecap="round"/>
<polygon points="920.8,520.4 945.2,520.4 933.0,496.4" fill="#8e72be"/>
<polygon points="920.8,681.2 945.2,681.2 933.0,657.2" fill="#c43c33"/>
<polygon points="920.8,737.6 945.2,737.6 933.0,713.6" fill="#5a9e3e"/>
<polygon points="282.2,929.2 306.8,929.2 294.5,905.2" fill="#5a9e3e"/>
<text x="318.5" y="928.0" font-size="29" text-anchor="start" >CHAOS-7</text>
<polygon points="492.9,929.2 517.5,929.2 505.2,905.2" fill="#c43c33"/>
<text x="528.5" y="928.0" font-size="29" text-anchor="start" >gufm1</text>
<polygon points="655.5,929.2 680.0,929.2 667.7,905.2" fill="#8e72be"/>
<text x="691.0" y="928.0" font-size="29" text-anchor="start" >CALS10k</text>
<line x1="164" y1="944.3" x2="164" y2="1221" stroke="#666" stroke-width="1.5"/>
<line x1="150" y1="989.0" x2="164" y2="989.0" stroke="#666" stroke-width="1.5"/>
<text x="137.0" y="999.3" font-size="29" text-anchor="end" >0.2</text>
<line x1="150" y1="1063.9" x2="164" y2="1063.9" stroke="#666" stroke-width="1.5"/>
<text x="137.0" y="1074.2" font-size="29" text-anchor="end" >0.1</text>
<line x1="150" y1="1138.8" x2="164" y2="1138.8" stroke="#666" stroke-width="1.5"/>
<text x="137.0" y="1149.1" font-size="29" text-anchor="end" >0</text>
<line x1="150" y1="1213.7" x2="164" y2="1213.7" stroke="#666" stroke-width="1.5"/>
<text x="137.0" y="1224.0" font-size="29" text-anchor="end" >−0.1</text>
<line x1="150" y1="1221" x2="933.5" y2="1221" stroke="#333" stroke-width="1.5"/>
<line x1="172.0" y1="1221" x2="172.0" y2="1235" stroke="#666" stroke-width="1.5"/>
<text x="172.0" y="1269.0" font-size="29" text-anchor="middle" >0</text>
<line x1="333.2" y1="1221" x2="333.2" y2="1235" stroke="#666" stroke-width="1.5"/>
<text x="333.2" y="1269.0" font-size="29" text-anchor="middle" >20</text>
<line x1="494.4" y1="1221" x2="494.4" y2="1235" stroke="#666" stroke-width="1.5"/>
<text x="494.4" y="1269.0" font-size="29" text-anchor="middle" >40</text>
<line x1="655.6" y1="1221" x2="655.6" y2="1235" stroke="#666" stroke-width="1.5"/>
<text x="655.6" y="1269.0" font-size="29" text-anchor="middle" >60</text>
<line x1="816.8" y1="1221" x2="816.8" y2="1235" stroke="#666" stroke-width="1.5"/>
<text x="816.8" y="1269.0" font-size="29" text-anchor="middle" >80</text>
<text x="548.3" y="1310.7" font-size="29" text-anchor="middle" >Time (ka)</text>
<text transform="translate(62,1100) rotate(-90)" font-size="29" font-style="italic">G<tspan font-style="normal" font-size="20" dy="8">3</tspan></text>
<polygon points="159.8,962.9 184.2,962.9 172.0,938.9" fill="#e8863a"/>
<circle cx="172" cy="1101.6" r="10.5" fill="#e8863a"/>
<polygon points="232.3,1017.0 256.9,1017.0 244.6,993.0" fill="#e8863a"/>
<text x="269.0" y="1012.0" font-size="29" text-anchor="start" >pC (KS1998)</text>
<circle cx="244.6" cy="1052.5" r="10.5" fill="#e8863a"/>
<text x="269.0" y="1058.6" font-size="29" text-anchor="start" >pC (V2014)</text>
<line x1="164.2" y1="1139.4" x2="933" y2="1139.4" stroke="#0019f5" stroke-width="6.7" stroke-dasharray="24 10.85"/>
<polyline points="170.4,1120.2 173.5,1117.1 176.7,1117.1 180.8,1118.1 185.0,1123.3 191.2,1140.0 198.5,1152.1 203.8,1146.2 207.9,1147.3 215.2,1144.6 222.5,1139.0 230.8,1128.5 239.2,1120.2 242.3,1123.3 246.5,1142.1 251.7,1147.3 260.0,1153.5 266.2,1149.4 272.5,1148.3 278.8,1133.8 285.0,1126.5 291.2,1124.4 297.5,1128.5 303.8,1144.2 310.0,1146.2 318.3,1146.2 324.6,1143.8 332.9,1148.3 341.2,1140.0 347.5,1142.1 353.8,1144.2 359.0,1150.4 365.2,1146.2 370.4,1149.4 376.7,1154.2 385.0,1150.8 391.2,1148.3 399.6,1136.9 407.9,1129.6 414.2,1124.4 420.4,1119.6 429.8,1127.5 439.2,1118.1 447.5,1121.2 452.7,1118.1 462.1,1128.5 472.5,1130.6 480.8,1140.0 485.0,1145.2 495.4,1146.2 499.6,1147.3 505.8,1135.8 514.2,1139.0 520.4,1134.8 535.0,1136.9 543.3,1129.6 549.6,1126.5 555.8,1125.0 558.3,1125.4 563.5,1115.4 570.8,1120.2 577.1,1122.3 583.3,1137.9 588.5,1147.3 593.8,1145.2 597.9,1149.4 601.0,1146.2 608.3,1151.5 618.8,1146.2 624.0,1150.4 628.1,1142.1 632.3,1120.2 637.5,1118.1 642.7,1117.1 650.0,1121.2 656.2,1142.1 664.6,1158.8 675.0,1146.2 680.2,1145.2 688.5,1156.7 695.8,1159.8 703.1,1149.4 706.2,1149.4 714.6,1156.2 722.9,1159.8 729.2,1165.4 743.8,1149.4 756.2,1130.6 762.5,1129.2 770.8,1136.9 776.0,1144.2 782.3,1139.0 792.7,1121.7 800.0,1125.4 808.3,1137.9 812.5,1149.4 820.8,1150.4 829.2,1146.2 837.5,1142.1 845.8,1145.2 856.2,1140.0 862.5,1142.1 870.8,1136.2 879.2,1150.8 887.5,1153.5 896.9,1160.8 912.5,1133.8 922.9,1123.3 931.2,1130.6" fill="none" stroke="#0019f5" stroke-width="4.5" stroke-linejoin="round" stroke-linecap="round"/>
<polygon points="920.8,1184.8 945.2,1184.8 933.0,1160.8" fill="#5a9e3e"/>
<polygon points="920.8,1172.9 945.2,1172.9 933.0,1148.9" fill="#c43c33"/>
<polygon points="920.8,1148.8 945.2,1148.8 933.0,1124.8" fill="#8e72be"/>
</svg>
</body></html>
